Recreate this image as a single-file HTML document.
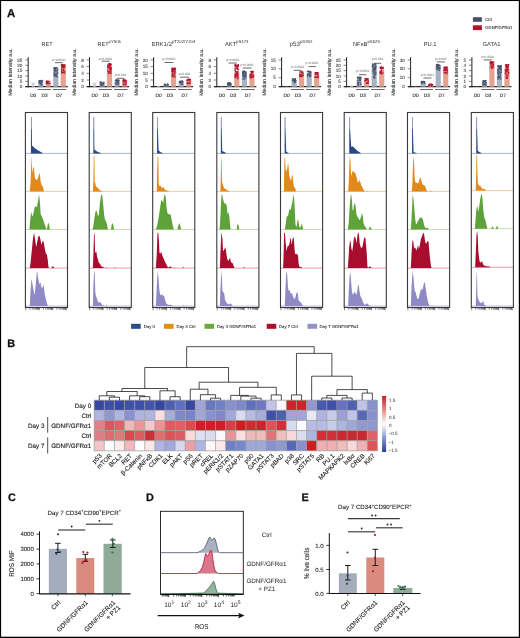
<!DOCTYPE html>
<html><head><meta charset="utf-8"><style>
html,body{margin:0;padding:0;background:#fff;overflow:hidden;width:520px;height:638px;}
svg{display:block;will-change:transform;}
text{font-family:"Liberation Sans", sans-serif;text-rendering:geometricPrecision;}
</style></head><body>
<svg width="520" height="638" viewBox="0 0 520 638">
<rect x="0" y="0" width="520" height="638" fill="#fff"/>
<text x="7.00" y="16.60" font-size="11.4" text-anchor="start" fill="#111" font-weight="bold" stroke="#111" stroke-width="0.25">A</text>
<text x="7.30" y="347.30" font-size="10.9" text-anchor="start" fill="#111" font-weight="bold" stroke="#111" stroke-width="0.25">B</text>
<text x="7.90" y="501.10" font-size="10.9" text-anchor="start" fill="#111" font-weight="bold" stroke="#111" stroke-width="0.25">C</text>
<text x="145.90" y="501.10" font-size="10.9" text-anchor="start" fill="#111" font-weight="bold" stroke="#111" stroke-width="0.25">D</text>
<text x="301.60" y="501.10" font-size="10.9" text-anchor="start" fill="#111" font-weight="bold" stroke="#111" stroke-width="0.25">E</text>
<rect x="472.90" y="17.20" width="9.00" height="4.60" fill="#4b5068" />
<rect x="472.90" y="25.30" width="9.00" height="4.80" fill="#b0102a" />
<text x="485.20" y="20.90" font-size="4.3" text-anchor="start" fill="#222" font-weight="normal" stroke="#222" stroke-width="0.07">Ctrl</text>
<text x="485.20" y="29.40" font-size="4.3" text-anchor="start" fill="#222" font-weight="normal" stroke="#222" stroke-width="0.07">GDNF/GFR&#945;1</text>
<text x="47.0" y="46.1" font-size="5.5" fill="#333" text-anchor="middle">RET</text>
<text transform="translate(12.10,72) rotate(-90)" font-size="5.2" text-anchor="middle" fill="#222" stroke="#222" stroke-width="0.07">Median intensity a.u.</text>
<line x1="28.20" y1="57.20" x2="28.20" y2="87.20" stroke="#222" stroke-width="1.0" />
<line x1="25.40" y1="86.70" x2="67.70" y2="86.70" stroke="#222" stroke-width="1.2" />
<line x1="25.20" y1="59.90" x2="28.20" y2="59.90" stroke="#333" stroke-width="0.6" />
<text x="22.40" y="61.50" font-size="4.6" text-anchor="end" fill="#444" font-weight="normal" stroke="#444" stroke-width="0.08">25</text>
<line x1="25.20" y1="65.26" x2="28.20" y2="65.26" stroke="#333" stroke-width="0.6" />
<text x="22.40" y="66.86" font-size="4.6" text-anchor="end" fill="#444" font-weight="normal" stroke="#444" stroke-width="0.08">20</text>
<line x1="25.20" y1="70.62" x2="28.20" y2="70.62" stroke="#333" stroke-width="0.6" />
<text x="22.40" y="72.22" font-size="4.6" text-anchor="end" fill="#444" font-weight="normal" stroke="#444" stroke-width="0.08">15</text>
<line x1="25.20" y1="75.98" x2="28.20" y2="75.98" stroke="#333" stroke-width="0.6" />
<text x="22.40" y="77.58" font-size="4.6" text-anchor="end" fill="#444" font-weight="normal" stroke="#444" stroke-width="0.08">10</text>
<line x1="25.20" y1="81.34" x2="28.20" y2="81.34" stroke="#333" stroke-width="0.6" />
<text x="22.40" y="82.94" font-size="4.6" text-anchor="end" fill="#444" font-weight="normal" stroke="#444" stroke-width="0.08">5</text>
<line x1="25.20" y1="86.70" x2="28.20" y2="86.70" stroke="#333" stroke-width="0.6" />
<text x="22.40" y="88.30" font-size="4.6" text-anchor="end" fill="#444" font-weight="normal" stroke="#444" stroke-width="0.08">0</text>
<rect x="31.60" y="82.40" width="3.20" height="4.30" fill="#d3d5df" />
<rect x="38.20" y="82.00" width="5.20" height="4.70" fill="#aab2c1" />
<circle cx="40.13" cy="80.63" r="0.62" fill="#46516f" fill-opacity="0.85"/>
<circle cx="41.37" cy="80.47" r="0.62" fill="#46516f" fill-opacity="0.85"/>
<circle cx="40.94" cy="81.33" r="0.62" fill="#46516f" fill-opacity="0.85"/>
<circle cx="39.12" cy="81.97" r="0.62" fill="#46516f" fill-opacity="0.85"/>
<circle cx="39.04" cy="81.62" r="0.62" fill="#46516f" fill-opacity="0.85"/>
<circle cx="39.17" cy="80.50" r="0.62" fill="#46516f" fill-opacity="0.85"/>
<circle cx="40.51" cy="83.83" r="0.62" fill="#46516f" fill-opacity="0.85"/>
<circle cx="39.37" cy="80.82" r="0.62" fill="#46516f" fill-opacity="0.85"/>
<circle cx="41.28" cy="84.67" r="0.62" fill="#46516f" fill-opacity="0.85"/>
<circle cx="41.09" cy="81.46" r="0.62" fill="#46516f" fill-opacity="0.85"/>
<circle cx="42.61" cy="80.43" r="0.62" fill="#46516f" fill-opacity="0.85"/>
<circle cx="42.16" cy="81.04" r="0.62" fill="#46516f" fill-opacity="0.85"/>
<circle cx="39.45" cy="80.55" r="0.62" fill="#46516f" fill-opacity="0.85"/>
<circle cx="40.07" cy="83.76" r="0.62" fill="#46516f" fill-opacity="0.85"/>
<circle cx="39.59" cy="82.36" r="0.62" fill="#46516f" fill-opacity="0.85"/>
<circle cx="41.33" cy="81.36" r="0.62" fill="#46516f" fill-opacity="0.85"/>
<circle cx="40.98" cy="80.46" r="0.62" fill="#46516f" fill-opacity="0.85"/>
<circle cx="39.13" cy="80.77" r="0.62" fill="#46516f" fill-opacity="0.85"/>
<circle cx="41.49" cy="81.60" r="0.62" fill="#46516f" fill-opacity="0.85"/>
<circle cx="40.09" cy="82.38" r="0.62" fill="#46516f" fill-opacity="0.85"/>
<circle cx="40.62" cy="81.08" r="0.62" fill="#46516f" fill-opacity="0.85"/>
<circle cx="41.92" cy="83.02" r="0.62" fill="#46516f" fill-opacity="0.85"/>
<circle cx="39.83" cy="82.32" r="0.62" fill="#46516f" fill-opacity="0.85"/>
<circle cx="40.90" cy="84.16" r="0.62" fill="#46516f" fill-opacity="0.85"/>
<circle cx="41.67" cy="81.04" r="0.62" fill="#46516f" fill-opacity="0.85"/>
<circle cx="42.62" cy="80.55" r="0.62" fill="#46516f" fill-opacity="0.85"/>
<circle cx="40.49" cy="83.38" r="0.62" fill="#46516f" fill-opacity="0.85"/>
<circle cx="39.48" cy="81.88" r="0.62" fill="#46516f" fill-opacity="0.85"/>
<circle cx="39.05" cy="82.84" r="0.62" fill="#46516f" fill-opacity="0.85"/>
<circle cx="41.81" cy="82.31" r="0.62" fill="#46516f" fill-opacity="0.85"/>
<circle cx="42.23" cy="81.13" r="0.62" fill="#46516f" fill-opacity="0.85"/>
<circle cx="41.54" cy="82.42" r="0.62" fill="#46516f" fill-opacity="0.85"/>
<circle cx="41.10" cy="81.73" r="0.62" fill="#46516f" fill-opacity="0.85"/>
<circle cx="42.09" cy="84.65" r="0.62" fill="#46516f" fill-opacity="0.85"/>
<circle cx="40.70" cy="82.82" r="0.62" fill="#46516f" fill-opacity="0.85"/>
<circle cx="39.13" cy="83.04" r="0.62" fill="#46516f" fill-opacity="0.85"/>
<circle cx="41.36" cy="85.00" r="0.62" fill="#46516f" fill-opacity="0.85"/>
<circle cx="42.02" cy="81.02" r="0.62" fill="#46516f" fill-opacity="0.85"/>
<rect x="45.60" y="82.50" width="5.20" height="4.20" fill="#e4a291" />
<circle cx="47.77" cy="82.80" r="0.62" fill="#b5122f" fill-opacity="0.85"/>
<circle cx="46.39" cy="82.04" r="0.62" fill="#b5122f" fill-opacity="0.85"/>
<circle cx="46.94" cy="81.20" r="0.62" fill="#b5122f" fill-opacity="0.85"/>
<circle cx="46.52" cy="83.22" r="0.62" fill="#b5122f" fill-opacity="0.85"/>
<circle cx="46.79" cy="81.45" r="0.62" fill="#b5122f" fill-opacity="0.85"/>
<circle cx="47.79" cy="83.69" r="0.62" fill="#b5122f" fill-opacity="0.85"/>
<circle cx="46.61" cy="82.00" r="0.62" fill="#b5122f" fill-opacity="0.85"/>
<circle cx="48.39" cy="83.75" r="0.62" fill="#b5122f" fill-opacity="0.85"/>
<circle cx="49.41" cy="83.66" r="0.62" fill="#b5122f" fill-opacity="0.85"/>
<circle cx="47.36" cy="81.89" r="0.62" fill="#b5122f" fill-opacity="0.85"/>
<circle cx="47.66" cy="83.75" r="0.62" fill="#b5122f" fill-opacity="0.85"/>
<circle cx="49.94" cy="81.26" r="0.62" fill="#b5122f" fill-opacity="0.85"/>
<circle cx="46.97" cy="81.41" r="0.62" fill="#b5122f" fill-opacity="0.85"/>
<circle cx="47.19" cy="82.11" r="0.62" fill="#b5122f" fill-opacity="0.85"/>
<circle cx="48.54" cy="81.48" r="0.62" fill="#b5122f" fill-opacity="0.85"/>
<circle cx="46.32" cy="81.90" r="0.62" fill="#b5122f" fill-opacity="0.85"/>
<circle cx="47.70" cy="82.40" r="0.62" fill="#b5122f" fill-opacity="0.85"/>
<circle cx="49.92" cy="82.89" r="0.62" fill="#b5122f" fill-opacity="0.85"/>
<circle cx="48.26" cy="82.59" r="0.62" fill="#b5122f" fill-opacity="0.85"/>
<circle cx="48.87" cy="81.13" r="0.62" fill="#b5122f" fill-opacity="0.85"/>
<circle cx="49.72" cy="83.27" r="0.62" fill="#b5122f" fill-opacity="0.85"/>
<circle cx="49.62" cy="83.35" r="0.62" fill="#b5122f" fill-opacity="0.85"/>
<circle cx="47.79" cy="81.84" r="0.62" fill="#b5122f" fill-opacity="0.85"/>
<circle cx="46.69" cy="82.66" r="0.62" fill="#b5122f" fill-opacity="0.85"/>
<circle cx="46.54" cy="81.14" r="0.62" fill="#b5122f" fill-opacity="0.85"/>
<circle cx="47.09" cy="81.28" r="0.62" fill="#b5122f" fill-opacity="0.85"/>
<circle cx="47.59" cy="81.13" r="0.62" fill="#b5122f" fill-opacity="0.85"/>
<circle cx="46.30" cy="81.26" r="0.62" fill="#b5122f" fill-opacity="0.85"/>
<circle cx="46.69" cy="81.74" r="0.62" fill="#b5122f" fill-opacity="0.85"/>
<circle cx="46.40" cy="83.71" r="0.62" fill="#b5122f" fill-opacity="0.85"/>
<circle cx="48.63" cy="81.25" r="0.62" fill="#b5122f" fill-opacity="0.85"/>
<rect x="53.20" y="67.50" width="5.20" height="19.20" fill="#aab2c1" />
<circle cx="54.86" cy="69.21" r="0.62" fill="#46516f" fill-opacity="0.85"/>
<circle cx="55.28" cy="67.83" r="0.62" fill="#46516f" fill-opacity="0.85"/>
<circle cx="57.13" cy="76.71" r="0.62" fill="#46516f" fill-opacity="0.85"/>
<circle cx="55.67" cy="70.41" r="0.62" fill="#46516f" fill-opacity="0.85"/>
<circle cx="54.23" cy="67.74" r="0.62" fill="#46516f" fill-opacity="0.85"/>
<circle cx="55.20" cy="68.61" r="0.62" fill="#46516f" fill-opacity="0.85"/>
<circle cx="57.05" cy="68.00" r="0.62" fill="#46516f" fill-opacity="0.85"/>
<circle cx="53.99" cy="76.09" r="0.62" fill="#46516f" fill-opacity="0.85"/>
<circle cx="55.91" cy="67.93" r="0.62" fill="#46516f" fill-opacity="0.85"/>
<circle cx="55.96" cy="67.53" r="0.62" fill="#46516f" fill-opacity="0.85"/>
<circle cx="55.91" cy="76.49" r="0.62" fill="#46516f" fill-opacity="0.85"/>
<circle cx="57.18" cy="72.72" r="0.62" fill="#46516f" fill-opacity="0.85"/>
<circle cx="54.89" cy="69.37" r="0.62" fill="#46516f" fill-opacity="0.85"/>
<circle cx="54.53" cy="73.65" r="0.62" fill="#46516f" fill-opacity="0.85"/>
<circle cx="55.92" cy="73.74" r="0.62" fill="#46516f" fill-opacity="0.85"/>
<circle cx="55.15" cy="68.34" r="0.62" fill="#46516f" fill-opacity="0.85"/>
<circle cx="56.98" cy="76.59" r="0.62" fill="#46516f" fill-opacity="0.85"/>
<circle cx="57.14" cy="74.09" r="0.62" fill="#46516f" fill-opacity="0.85"/>
<circle cx="57.01" cy="73.25" r="0.62" fill="#46516f" fill-opacity="0.85"/>
<circle cx="54.76" cy="70.75" r="0.62" fill="#46516f" fill-opacity="0.85"/>
<circle cx="55.25" cy="67.53" r="0.62" fill="#46516f" fill-opacity="0.85"/>
<circle cx="54.01" cy="68.71" r="0.62" fill="#46516f" fill-opacity="0.85"/>
<circle cx="54.88" cy="72.67" r="0.62" fill="#46516f" fill-opacity="0.85"/>
<circle cx="57.53" cy="70.07" r="0.62" fill="#46516f" fill-opacity="0.85"/>
<circle cx="57.46" cy="76.63" r="0.62" fill="#46516f" fill-opacity="0.85"/>
<circle cx="57.53" cy="69.35" r="0.62" fill="#46516f" fill-opacity="0.85"/>
<circle cx="54.74" cy="68.37" r="0.62" fill="#46516f" fill-opacity="0.85"/>
<circle cx="54.65" cy="68.23" r="0.62" fill="#46516f" fill-opacity="0.85"/>
<circle cx="56.27" cy="75.37" r="0.62" fill="#46516f" fill-opacity="0.85"/>
<circle cx="57.09" cy="70.37" r="0.62" fill="#46516f" fill-opacity="0.85"/>
<circle cx="56.38" cy="74.01" r="0.62" fill="#46516f" fill-opacity="0.85"/>
<circle cx="54.22" cy="72.30" r="0.62" fill="#46516f" fill-opacity="0.85"/>
<circle cx="57.36" cy="73.79" r="0.62" fill="#46516f" fill-opacity="0.85"/>
<circle cx="56.75" cy="70.36" r="0.62" fill="#46516f" fill-opacity="0.85"/>
<circle cx="54.58" cy="73.87" r="0.62" fill="#46516f" fill-opacity="0.85"/>
<circle cx="55.16" cy="74.03" r="0.62" fill="#46516f" fill-opacity="0.85"/>
<circle cx="57.59" cy="69.61" r="0.62" fill="#46516f" fill-opacity="0.85"/>
<circle cx="55.43" cy="76.03" r="0.62" fill="#46516f" fill-opacity="0.85"/>
<circle cx="56.65" cy="68.05" r="0.62" fill="#46516f" fill-opacity="0.85"/>
<circle cx="54.38" cy="67.95" r="0.62" fill="#46516f" fill-opacity="0.85"/>
<circle cx="57.34" cy="74.10" r="0.62" fill="#46516f" fill-opacity="0.85"/>
<circle cx="54.46" cy="74.36" r="0.62" fill="#46516f" fill-opacity="0.85"/>
<circle cx="57.63" cy="72.26" r="0.62" fill="#46516f" fill-opacity="0.85"/>
<circle cx="55.23" cy="71.06" r="0.62" fill="#46516f" fill-opacity="0.85"/>
<circle cx="54.40" cy="67.51" r="0.62" fill="#46516f" fill-opacity="0.85"/>
<circle cx="57.59" cy="72.17" r="0.62" fill="#46516f" fill-opacity="0.85"/>
<circle cx="55.90" cy="75.84" r="0.62" fill="#46516f" fill-opacity="0.85"/>
<circle cx="55.55" cy="74.97" r="0.62" fill="#46516f" fill-opacity="0.85"/>
<circle cx="57.04" cy="68.27" r="0.62" fill="#46516f" fill-opacity="0.85"/>
<circle cx="54.86" cy="68.81" r="0.62" fill="#46516f" fill-opacity="0.85"/>
<circle cx="54.81" cy="71.46" r="0.62" fill="#46516f" fill-opacity="0.85"/>
<circle cx="54.89" cy="69.81" r="0.62" fill="#46516f" fill-opacity="0.85"/>
<circle cx="54.40" cy="75.51" r="0.62" fill="#46516f" fill-opacity="0.85"/>
<circle cx="55.24" cy="70.17" r="0.62" fill="#46516f" fill-opacity="0.85"/>
<circle cx="56.12" cy="75.43" r="0.62" fill="#46516f" fill-opacity="0.85"/>
<circle cx="55.50" cy="75.61" r="0.62" fill="#46516f" fill-opacity="0.85"/>
<circle cx="55.81" cy="70.89" r="0.62" fill="#46516f" fill-opacity="0.85"/>
<circle cx="55.89" cy="67.52" r="0.62" fill="#46516f" fill-opacity="0.85"/>
<circle cx="55.57" cy="68.12" r="0.62" fill="#46516f" fill-opacity="0.85"/>
<circle cx="53.91" cy="74.00" r="0.62" fill="#46516f" fill-opacity="0.85"/>
<circle cx="54.55" cy="70.31" r="0.62" fill="#46516f" fill-opacity="0.85"/>
<circle cx="56.66" cy="71.14" r="0.62" fill="#46516f" fill-opacity="0.85"/>
<rect x="60.70" y="64.30" width="5.20" height="22.40" fill="#e4a291" />
<circle cx="62.64" cy="67.59" r="0.62" fill="#b5122f" fill-opacity="0.85"/>
<circle cx="63.51" cy="70.49" r="0.62" fill="#b5122f" fill-opacity="0.85"/>
<circle cx="61.80" cy="68.00" r="0.62" fill="#b5122f" fill-opacity="0.85"/>
<circle cx="62.34" cy="65.63" r="0.62" fill="#b5122f" fill-opacity="0.85"/>
<circle cx="64.33" cy="67.49" r="0.62" fill="#b5122f" fill-opacity="0.85"/>
<circle cx="63.53" cy="70.20" r="0.62" fill="#b5122f" fill-opacity="0.85"/>
<circle cx="64.87" cy="66.90" r="0.62" fill="#b5122f" fill-opacity="0.85"/>
<circle cx="63.73" cy="67.47" r="0.62" fill="#b5122f" fill-opacity="0.85"/>
<circle cx="63.35" cy="69.41" r="0.62" fill="#b5122f" fill-opacity="0.85"/>
<circle cx="63.12" cy="67.73" r="0.62" fill="#b5122f" fill-opacity="0.85"/>
<circle cx="63.22" cy="72.52" r="0.62" fill="#b5122f" fill-opacity="0.85"/>
<circle cx="64.06" cy="71.66" r="0.62" fill="#b5122f" fill-opacity="0.85"/>
<circle cx="64.98" cy="65.52" r="0.62" fill="#b5122f" fill-opacity="0.85"/>
<circle cx="63.53" cy="72.55" r="0.62" fill="#b5122f" fill-opacity="0.85"/>
<circle cx="64.59" cy="64.87" r="0.62" fill="#b5122f" fill-opacity="0.85"/>
<circle cx="61.86" cy="66.89" r="0.62" fill="#b5122f" fill-opacity="0.85"/>
<circle cx="61.68" cy="65.40" r="0.62" fill="#b5122f" fill-opacity="0.85"/>
<circle cx="61.68" cy="69.15" r="0.62" fill="#b5122f" fill-opacity="0.85"/>
<circle cx="64.38" cy="71.92" r="0.62" fill="#b5122f" fill-opacity="0.85"/>
<circle cx="61.99" cy="69.68" r="0.62" fill="#b5122f" fill-opacity="0.85"/>
<circle cx="63.91" cy="64.89" r="0.62" fill="#b5122f" fill-opacity="0.85"/>
<circle cx="64.75" cy="72.88" r="0.62" fill="#b5122f" fill-opacity="0.85"/>
<circle cx="62.23" cy="72.67" r="0.62" fill="#b5122f" fill-opacity="0.85"/>
<circle cx="62.91" cy="67.30" r="0.62" fill="#b5122f" fill-opacity="0.85"/>
<circle cx="65.16" cy="71.09" r="0.62" fill="#b5122f" fill-opacity="0.85"/>
<circle cx="62.01" cy="66.80" r="0.62" fill="#b5122f" fill-opacity="0.85"/>
<circle cx="63.36" cy="66.07" r="0.62" fill="#b5122f" fill-opacity="0.85"/>
<circle cx="62.14" cy="65.92" r="0.62" fill="#b5122f" fill-opacity="0.85"/>
<circle cx="64.14" cy="64.52" r="0.62" fill="#b5122f" fill-opacity="0.85"/>
<circle cx="63.51" cy="66.88" r="0.62" fill="#b5122f" fill-opacity="0.85"/>
<circle cx="61.47" cy="66.01" r="0.62" fill="#b5122f" fill-opacity="0.85"/>
<circle cx="63.77" cy="67.53" r="0.62" fill="#b5122f" fill-opacity="0.85"/>
<circle cx="61.64" cy="73.13" r="0.62" fill="#b5122f" fill-opacity="0.85"/>
<circle cx="64.40" cy="72.94" r="0.62" fill="#b5122f" fill-opacity="0.85"/>
<circle cx="61.80" cy="65.56" r="0.62" fill="#b5122f" fill-opacity="0.85"/>
<circle cx="61.55" cy="70.42" r="0.62" fill="#b5122f" fill-opacity="0.85"/>
<circle cx="62.43" cy="64.84" r="0.62" fill="#b5122f" fill-opacity="0.85"/>
<circle cx="63.00" cy="72.12" r="0.62" fill="#b5122f" fill-opacity="0.85"/>
<circle cx="64.51" cy="65.51" r="0.62" fill="#b5122f" fill-opacity="0.85"/>
<circle cx="61.97" cy="72.22" r="0.62" fill="#b5122f" fill-opacity="0.85"/>
<circle cx="63.57" cy="69.50" r="0.62" fill="#b5122f" fill-opacity="0.85"/>
<circle cx="61.74" cy="64.59" r="0.62" fill="#b5122f" fill-opacity="0.85"/>
<circle cx="64.02" cy="66.75" r="0.62" fill="#b5122f" fill-opacity="0.85"/>
<circle cx="61.68" cy="72.48" r="0.62" fill="#b5122f" fill-opacity="0.85"/>
<circle cx="63.81" cy="70.70" r="0.62" fill="#b5122f" fill-opacity="0.85"/>
<circle cx="61.72" cy="71.39" r="0.62" fill="#b5122f" fill-opacity="0.85"/>
<circle cx="61.65" cy="71.48" r="0.62" fill="#b5122f" fill-opacity="0.85"/>
<circle cx="63.12" cy="66.07" r="0.62" fill="#b5122f" fill-opacity="0.85"/>
<circle cx="63.50" cy="72.32" r="0.62" fill="#b5122f" fill-opacity="0.85"/>
<circle cx="62.42" cy="64.83" r="0.62" fill="#b5122f" fill-opacity="0.85"/>
<circle cx="63.40" cy="65.39" r="0.62" fill="#b5122f" fill-opacity="0.85"/>
<circle cx="61.82" cy="64.98" r="0.62" fill="#b5122f" fill-opacity="0.85"/>
<circle cx="61.59" cy="65.18" r="0.62" fill="#b5122f" fill-opacity="0.85"/>
<circle cx="62.59" cy="65.82" r="0.62" fill="#b5122f" fill-opacity="0.85"/>
<circle cx="64.29" cy="65.72" r="0.62" fill="#b5122f" fill-opacity="0.85"/>
<circle cx="63.30" cy="65.06" r="0.62" fill="#b5122f" fill-opacity="0.85"/>
<circle cx="62.72" cy="64.51" r="0.62" fill="#b5122f" fill-opacity="0.85"/>
<circle cx="62.35" cy="64.51" r="0.62" fill="#b5122f" fill-opacity="0.85"/>
<circle cx="64.19" cy="67.90" r="0.62" fill="#b5122f" fill-opacity="0.85"/>
<circle cx="62.12" cy="67.18" r="0.62" fill="#b5122f" fill-opacity="0.85"/>
<line x1="37.70" y1="89.50" x2="50.70" y2="89.50" stroke="#333" stroke-width="0.75" />
<line x1="52.70" y1="89.50" x2="66.20" y2="89.50" stroke="#333" stroke-width="0.75" />
<text x="33.20" y="96.90" font-size="4.8" text-anchor="middle" fill="#222" font-weight="normal" stroke="#222" stroke-width="0.07">D0</text>
<text x="44.50" y="96.90" font-size="4.8" text-anchor="middle" fill="#222" font-weight="normal" stroke="#222" stroke-width="0.07">D3</text>
<text x="59.20" y="96.90" font-size="4.8" text-anchor="middle" fill="#222" font-weight="normal" stroke="#222" stroke-width="0.07">D7</text>
<line x1="55.00" y1="62.70" x2="63.00" y2="62.70" stroke="#444" stroke-width="0.8" />
<text x="59.00" y="60.80" font-size="3.2" text-anchor="middle" fill="#666" font-weight="normal" >p&lt;0.0001</text>
<text x="109.3" y="46.1" font-size="5.5" fill="#333" text-anchor="middle"><tspan>RET</tspan><tspan font-size="4.3" dy="-3.0">pY905</tspan></text>
<text transform="translate(75.90,72) rotate(-90)" font-size="5.2" text-anchor="middle" fill="#222" stroke="#222" stroke-width="0.07">Median intensity a.u.</text>
<line x1="89.50" y1="57.20" x2="89.50" y2="87.20" stroke="#222" stroke-width="1.0" />
<line x1="86.70" y1="86.70" x2="129.00" y2="86.70" stroke="#222" stroke-width="1.2" />
<line x1="86.50" y1="59.90" x2="89.50" y2="59.90" stroke="#333" stroke-width="0.6" />
<text x="83.70" y="61.50" font-size="4.6" text-anchor="end" fill="#444" font-weight="normal" stroke="#444" stroke-width="0.08">8</text>
<line x1="86.50" y1="66.60" x2="89.50" y2="66.60" stroke="#333" stroke-width="0.6" />
<text x="83.70" y="68.20" font-size="4.6" text-anchor="end" fill="#444" font-weight="normal" stroke="#444" stroke-width="0.08">6</text>
<line x1="86.50" y1="73.30" x2="89.50" y2="73.30" stroke="#333" stroke-width="0.6" />
<text x="83.70" y="74.90" font-size="4.6" text-anchor="end" fill="#444" font-weight="normal" stroke="#444" stroke-width="0.08">4</text>
<line x1="86.50" y1="80.00" x2="89.50" y2="80.00" stroke="#333" stroke-width="0.6" />
<text x="83.70" y="81.60" font-size="4.6" text-anchor="end" fill="#444" font-weight="normal" stroke="#444" stroke-width="0.08">2</text>
<line x1="86.50" y1="86.70" x2="89.50" y2="86.70" stroke="#333" stroke-width="0.6" />
<text x="83.70" y="88.30" font-size="4.6" text-anchor="end" fill="#444" font-weight="normal" stroke="#444" stroke-width="0.08">0</text>
<rect x="92.90" y="82.60" width="3.20" height="4.10" fill="#d3d5df" />
<rect x="99.50" y="82.40" width="5.20" height="4.30" fill="#aab2c1" />
<circle cx="103.75" cy="82.01" r="0.62" fill="#46516f" fill-opacity="0.85"/>
<circle cx="103.31" cy="82.92" r="0.62" fill="#46516f" fill-opacity="0.85"/>
<circle cx="102.08" cy="84.82" r="0.62" fill="#46516f" fill-opacity="0.85"/>
<circle cx="101.69" cy="83.21" r="0.62" fill="#46516f" fill-opacity="0.85"/>
<circle cx="102.81" cy="85.69" r="0.62" fill="#46516f" fill-opacity="0.85"/>
<circle cx="101.50" cy="84.80" r="0.62" fill="#46516f" fill-opacity="0.85"/>
<circle cx="102.89" cy="83.79" r="0.62" fill="#46516f" fill-opacity="0.85"/>
<circle cx="101.74" cy="82.62" r="0.62" fill="#46516f" fill-opacity="0.85"/>
<circle cx="100.41" cy="82.05" r="0.62" fill="#46516f" fill-opacity="0.85"/>
<circle cx="100.47" cy="84.31" r="0.62" fill="#46516f" fill-opacity="0.85"/>
<circle cx="101.17" cy="82.11" r="0.62" fill="#46516f" fill-opacity="0.85"/>
<circle cx="100.52" cy="84.85" r="0.62" fill="#46516f" fill-opacity="0.85"/>
<circle cx="103.51" cy="83.95" r="0.62" fill="#46516f" fill-opacity="0.85"/>
<circle cx="101.27" cy="82.30" r="0.62" fill="#46516f" fill-opacity="0.85"/>
<circle cx="101.31" cy="83.02" r="0.62" fill="#46516f" fill-opacity="0.85"/>
<circle cx="100.80" cy="82.97" r="0.62" fill="#46516f" fill-opacity="0.85"/>
<circle cx="101.20" cy="85.56" r="0.62" fill="#46516f" fill-opacity="0.85"/>
<circle cx="103.90" cy="83.38" r="0.62" fill="#46516f" fill-opacity="0.85"/>
<circle cx="101.13" cy="85.58" r="0.62" fill="#46516f" fill-opacity="0.85"/>
<circle cx="101.38" cy="82.65" r="0.62" fill="#46516f" fill-opacity="0.85"/>
<circle cx="100.20" cy="82.73" r="0.62" fill="#46516f" fill-opacity="0.85"/>
<circle cx="102.00" cy="83.20" r="0.62" fill="#46516f" fill-opacity="0.85"/>
<circle cx="100.96" cy="83.20" r="0.62" fill="#46516f" fill-opacity="0.85"/>
<circle cx="100.22" cy="82.36" r="0.62" fill="#46516f" fill-opacity="0.85"/>
<circle cx="100.54" cy="82.80" r="0.62" fill="#46516f" fill-opacity="0.85"/>
<circle cx="100.36" cy="81.91" r="0.62" fill="#46516f" fill-opacity="0.85"/>
<circle cx="101.36" cy="82.28" r="0.62" fill="#46516f" fill-opacity="0.85"/>
<circle cx="102.43" cy="83.31" r="0.62" fill="#46516f" fill-opacity="0.85"/>
<circle cx="103.05" cy="83.89" r="0.62" fill="#46516f" fill-opacity="0.85"/>
<circle cx="102.92" cy="85.07" r="0.62" fill="#46516f" fill-opacity="0.85"/>
<circle cx="101.68" cy="82.55" r="0.62" fill="#46516f" fill-opacity="0.85"/>
<circle cx="103.94" cy="82.09" r="0.62" fill="#46516f" fill-opacity="0.85"/>
<circle cx="102.95" cy="83.82" r="0.62" fill="#46516f" fill-opacity="0.85"/>
<circle cx="100.37" cy="84.82" r="0.62" fill="#46516f" fill-opacity="0.85"/>
<rect x="106.90" y="66.00" width="5.20" height="20.70" fill="#e4a291" />
<circle cx="110.99" cy="68.62" r="0.62" fill="#b5122f" fill-opacity="0.85"/>
<circle cx="110.39" cy="71.09" r="0.62" fill="#b5122f" fill-opacity="0.85"/>
<circle cx="108.13" cy="67.41" r="0.62" fill="#b5122f" fill-opacity="0.85"/>
<circle cx="109.52" cy="71.42" r="0.62" fill="#b5122f" fill-opacity="0.85"/>
<circle cx="110.66" cy="71.29" r="0.62" fill="#b5122f" fill-opacity="0.85"/>
<circle cx="109.82" cy="72.28" r="0.62" fill="#b5122f" fill-opacity="0.85"/>
<circle cx="110.20" cy="69.46" r="0.62" fill="#b5122f" fill-opacity="0.85"/>
<circle cx="108.47" cy="63.84" r="0.62" fill="#b5122f" fill-opacity="0.85"/>
<circle cx="108.11" cy="65.79" r="0.62" fill="#b5122f" fill-opacity="0.85"/>
<circle cx="108.00" cy="71.43" r="0.62" fill="#b5122f" fill-opacity="0.85"/>
<circle cx="109.72" cy="68.63" r="0.62" fill="#b5122f" fill-opacity="0.85"/>
<circle cx="109.98" cy="69.29" r="0.62" fill="#b5122f" fill-opacity="0.85"/>
<circle cx="109.46" cy="63.80" r="0.62" fill="#b5122f" fill-opacity="0.85"/>
<circle cx="110.63" cy="70.19" r="0.62" fill="#b5122f" fill-opacity="0.85"/>
<circle cx="109.51" cy="67.54" r="0.62" fill="#b5122f" fill-opacity="0.85"/>
<circle cx="110.11" cy="63.93" r="0.62" fill="#b5122f" fill-opacity="0.85"/>
<circle cx="110.40" cy="64.92" r="0.62" fill="#b5122f" fill-opacity="0.85"/>
<circle cx="107.88" cy="65.02" r="0.62" fill="#b5122f" fill-opacity="0.85"/>
<circle cx="110.37" cy="64.61" r="0.62" fill="#b5122f" fill-opacity="0.85"/>
<circle cx="110.41" cy="73.57" r="0.62" fill="#b5122f" fill-opacity="0.85"/>
<circle cx="109.48" cy="65.98" r="0.62" fill="#b5122f" fill-opacity="0.85"/>
<circle cx="109.42" cy="69.33" r="0.62" fill="#b5122f" fill-opacity="0.85"/>
<circle cx="110.51" cy="68.49" r="0.62" fill="#b5122f" fill-opacity="0.85"/>
<circle cx="110.04" cy="63.97" r="0.62" fill="#b5122f" fill-opacity="0.85"/>
<circle cx="108.16" cy="64.93" r="0.62" fill="#b5122f" fill-opacity="0.85"/>
<circle cx="110.42" cy="65.32" r="0.62" fill="#b5122f" fill-opacity="0.85"/>
<circle cx="109.76" cy="63.81" r="0.62" fill="#b5122f" fill-opacity="0.85"/>
<circle cx="107.83" cy="65.04" r="0.62" fill="#b5122f" fill-opacity="0.85"/>
<circle cx="110.15" cy="69.44" r="0.62" fill="#b5122f" fill-opacity="0.85"/>
<circle cx="110.17" cy="65.21" r="0.62" fill="#b5122f" fill-opacity="0.85"/>
<circle cx="109.56" cy="66.78" r="0.62" fill="#b5122f" fill-opacity="0.85"/>
<circle cx="109.37" cy="64.14" r="0.62" fill="#b5122f" fill-opacity="0.85"/>
<circle cx="111.00" cy="64.57" r="0.62" fill="#b5122f" fill-opacity="0.85"/>
<circle cx="111.32" cy="72.95" r="0.62" fill="#b5122f" fill-opacity="0.85"/>
<circle cx="107.67" cy="66.72" r="0.62" fill="#b5122f" fill-opacity="0.85"/>
<circle cx="110.72" cy="73.45" r="0.62" fill="#b5122f" fill-opacity="0.85"/>
<circle cx="109.31" cy="65.04" r="0.62" fill="#b5122f" fill-opacity="0.85"/>
<circle cx="108.40" cy="73.09" r="0.62" fill="#b5122f" fill-opacity="0.85"/>
<circle cx="108.40" cy="68.07" r="0.62" fill="#b5122f" fill-opacity="0.85"/>
<circle cx="108.14" cy="67.42" r="0.62" fill="#b5122f" fill-opacity="0.85"/>
<circle cx="111.22" cy="64.20" r="0.62" fill="#b5122f" fill-opacity="0.85"/>
<circle cx="110.72" cy="67.25" r="0.62" fill="#b5122f" fill-opacity="0.85"/>
<circle cx="110.97" cy="69.59" r="0.62" fill="#b5122f" fill-opacity="0.85"/>
<circle cx="108.48" cy="72.35" r="0.62" fill="#b5122f" fill-opacity="0.85"/>
<circle cx="109.45" cy="63.83" r="0.62" fill="#b5122f" fill-opacity="0.85"/>
<circle cx="107.61" cy="67.06" r="0.62" fill="#b5122f" fill-opacity="0.85"/>
<circle cx="109.31" cy="65.30" r="0.62" fill="#b5122f" fill-opacity="0.85"/>
<circle cx="108.13" cy="65.64" r="0.62" fill="#b5122f" fill-opacity="0.85"/>
<circle cx="108.80" cy="71.49" r="0.62" fill="#b5122f" fill-opacity="0.85"/>
<circle cx="107.61" cy="70.23" r="0.62" fill="#b5122f" fill-opacity="0.85"/>
<circle cx="110.79" cy="64.14" r="0.62" fill="#b5122f" fill-opacity="0.85"/>
<circle cx="111.12" cy="69.72" r="0.62" fill="#b5122f" fill-opacity="0.85"/>
<circle cx="111.03" cy="65.20" r="0.62" fill="#b5122f" fill-opacity="0.85"/>
<circle cx="109.01" cy="66.08" r="0.62" fill="#b5122f" fill-opacity="0.85"/>
<circle cx="111.40" cy="68.16" r="0.62" fill="#b5122f" fill-opacity="0.85"/>
<circle cx="108.97" cy="66.42" r="0.62" fill="#b5122f" fill-opacity="0.85"/>
<circle cx="108.65" cy="63.88" r="0.62" fill="#b5122f" fill-opacity="0.85"/>
<circle cx="107.99" cy="71.41" r="0.62" fill="#b5122f" fill-opacity="0.85"/>
<circle cx="108.69" cy="72.94" r="0.62" fill="#b5122f" fill-opacity="0.85"/>
<circle cx="108.55" cy="65.02" r="0.62" fill="#b5122f" fill-opacity="0.85"/>
<circle cx="109.54" cy="64.51" r="0.62" fill="#b5122f" fill-opacity="0.85"/>
<circle cx="109.02" cy="73.26" r="0.62" fill="#b5122f" fill-opacity="0.85"/>
<circle cx="110.96" cy="71.08" r="0.62" fill="#b5122f" fill-opacity="0.85"/>
<circle cx="110.00" cy="72.59" r="0.62" fill="#b5122f" fill-opacity="0.85"/>
<circle cx="111.17" cy="67.70" r="0.62" fill="#b5122f" fill-opacity="0.85"/>
<circle cx="110.33" cy="63.88" r="0.62" fill="#b5122f" fill-opacity="0.85"/>
<circle cx="110.38" cy="66.64" r="0.62" fill="#b5122f" fill-opacity="0.85"/>
<rect x="114.50" y="80.80" width="5.20" height="5.90" fill="#aab2c1" />
<circle cx="118.06" cy="82.44" r="0.62" fill="#46516f" fill-opacity="0.85"/>
<circle cx="116.29" cy="79.94" r="0.62" fill="#46516f" fill-opacity="0.85"/>
<circle cx="118.72" cy="80.09" r="0.62" fill="#46516f" fill-opacity="0.85"/>
<circle cx="116.99" cy="80.83" r="0.62" fill="#46516f" fill-opacity="0.85"/>
<circle cx="116.33" cy="83.06" r="0.62" fill="#46516f" fill-opacity="0.85"/>
<circle cx="118.91" cy="80.50" r="0.62" fill="#46516f" fill-opacity="0.85"/>
<circle cx="117.69" cy="80.65" r="0.62" fill="#46516f" fill-opacity="0.85"/>
<circle cx="117.32" cy="81.06" r="0.62" fill="#46516f" fill-opacity="0.85"/>
<circle cx="115.84" cy="80.18" r="0.62" fill="#46516f" fill-opacity="0.85"/>
<circle cx="115.99" cy="84.28" r="0.62" fill="#46516f" fill-opacity="0.85"/>
<circle cx="117.09" cy="80.36" r="0.62" fill="#46516f" fill-opacity="0.85"/>
<circle cx="118.64" cy="85.00" r="0.62" fill="#46516f" fill-opacity="0.85"/>
<circle cx="116.91" cy="80.12" r="0.62" fill="#46516f" fill-opacity="0.85"/>
<circle cx="115.93" cy="80.01" r="0.62" fill="#46516f" fill-opacity="0.85"/>
<circle cx="116.50" cy="80.01" r="0.62" fill="#46516f" fill-opacity="0.85"/>
<circle cx="116.11" cy="80.49" r="0.62" fill="#46516f" fill-opacity="0.85"/>
<circle cx="117.36" cy="84.14" r="0.62" fill="#46516f" fill-opacity="0.85"/>
<circle cx="118.05" cy="81.15" r="0.62" fill="#46516f" fill-opacity="0.85"/>
<circle cx="116.77" cy="81.73" r="0.62" fill="#46516f" fill-opacity="0.85"/>
<circle cx="116.63" cy="80.81" r="0.62" fill="#46516f" fill-opacity="0.85"/>
<circle cx="115.44" cy="80.56" r="0.62" fill="#46516f" fill-opacity="0.85"/>
<circle cx="118.88" cy="80.09" r="0.62" fill="#46516f" fill-opacity="0.85"/>
<circle cx="117.11" cy="82.35" r="0.62" fill="#46516f" fill-opacity="0.85"/>
<circle cx="118.48" cy="80.34" r="0.62" fill="#46516f" fill-opacity="0.85"/>
<circle cx="116.23" cy="80.45" r="0.62" fill="#46516f" fill-opacity="0.85"/>
<circle cx="116.72" cy="81.31" r="0.62" fill="#46516f" fill-opacity="0.85"/>
<circle cx="118.82" cy="83.85" r="0.62" fill="#46516f" fill-opacity="0.85"/>
<circle cx="118.52" cy="79.91" r="0.62" fill="#46516f" fill-opacity="0.85"/>
<circle cx="115.32" cy="82.86" r="0.62" fill="#46516f" fill-opacity="0.85"/>
<circle cx="118.60" cy="81.45" r="0.62" fill="#46516f" fill-opacity="0.85"/>
<circle cx="117.43" cy="79.90" r="0.62" fill="#46516f" fill-opacity="0.85"/>
<circle cx="116.69" cy="84.44" r="0.62" fill="#46516f" fill-opacity="0.85"/>
<circle cx="118.34" cy="83.90" r="0.62" fill="#46516f" fill-opacity="0.85"/>
<circle cx="118.89" cy="80.45" r="0.62" fill="#46516f" fill-opacity="0.85"/>
<circle cx="115.61" cy="80.16" r="0.62" fill="#46516f" fill-opacity="0.85"/>
<circle cx="117.18" cy="82.68" r="0.62" fill="#46516f" fill-opacity="0.85"/>
<circle cx="118.78" cy="82.94" r="0.62" fill="#46516f" fill-opacity="0.85"/>
<circle cx="117.66" cy="83.24" r="0.62" fill="#46516f" fill-opacity="0.85"/>
<circle cx="116.94" cy="81.88" r="0.62" fill="#46516f" fill-opacity="0.85"/>
<circle cx="115.35" cy="83.36" r="0.62" fill="#46516f" fill-opacity="0.85"/>
<rect x="122.00" y="81.40" width="5.20" height="5.30" fill="#e4a291" />
<circle cx="123.58" cy="84.39" r="0.62" fill="#b5122f" fill-opacity="0.85"/>
<circle cx="125.15" cy="80.66" r="0.62" fill="#b5122f" fill-opacity="0.85"/>
<circle cx="123.19" cy="80.46" r="0.62" fill="#b5122f" fill-opacity="0.85"/>
<circle cx="125.12" cy="82.79" r="0.62" fill="#b5122f" fill-opacity="0.85"/>
<circle cx="123.13" cy="79.97" r="0.62" fill="#b5122f" fill-opacity="0.85"/>
<circle cx="124.69" cy="82.06" r="0.62" fill="#b5122f" fill-opacity="0.85"/>
<circle cx="124.17" cy="80.37" r="0.62" fill="#b5122f" fill-opacity="0.85"/>
<circle cx="124.98" cy="79.90" r="0.62" fill="#b5122f" fill-opacity="0.85"/>
<circle cx="123.85" cy="81.38" r="0.62" fill="#b5122f" fill-opacity="0.85"/>
<circle cx="126.34" cy="82.44" r="0.62" fill="#b5122f" fill-opacity="0.85"/>
<circle cx="126.06" cy="81.46" r="0.62" fill="#b5122f" fill-opacity="0.85"/>
<circle cx="123.59" cy="80.45" r="0.62" fill="#b5122f" fill-opacity="0.85"/>
<circle cx="126.35" cy="82.83" r="0.62" fill="#b5122f" fill-opacity="0.85"/>
<circle cx="123.87" cy="79.91" r="0.62" fill="#b5122f" fill-opacity="0.85"/>
<circle cx="124.59" cy="82.63" r="0.62" fill="#b5122f" fill-opacity="0.85"/>
<circle cx="124.30" cy="80.48" r="0.62" fill="#b5122f" fill-opacity="0.85"/>
<circle cx="125.24" cy="84.43" r="0.62" fill="#b5122f" fill-opacity="0.85"/>
<circle cx="123.56" cy="79.92" r="0.62" fill="#b5122f" fill-opacity="0.85"/>
<circle cx="123.98" cy="81.18" r="0.62" fill="#b5122f" fill-opacity="0.85"/>
<circle cx="125.29" cy="80.28" r="0.62" fill="#b5122f" fill-opacity="0.85"/>
<circle cx="125.73" cy="83.06" r="0.62" fill="#b5122f" fill-opacity="0.85"/>
<circle cx="124.62" cy="80.31" r="0.62" fill="#b5122f" fill-opacity="0.85"/>
<circle cx="126.39" cy="80.69" r="0.62" fill="#b5122f" fill-opacity="0.85"/>
<circle cx="125.82" cy="80.39" r="0.62" fill="#b5122f" fill-opacity="0.85"/>
<circle cx="123.54" cy="83.21" r="0.62" fill="#b5122f" fill-opacity="0.85"/>
<circle cx="123.82" cy="84.64" r="0.62" fill="#b5122f" fill-opacity="0.85"/>
<circle cx="124.58" cy="80.25" r="0.62" fill="#b5122f" fill-opacity="0.85"/>
<circle cx="123.55" cy="81.17" r="0.62" fill="#b5122f" fill-opacity="0.85"/>
<circle cx="125.23" cy="84.62" r="0.62" fill="#b5122f" fill-opacity="0.85"/>
<circle cx="123.26" cy="81.05" r="0.62" fill="#b5122f" fill-opacity="0.85"/>
<circle cx="123.51" cy="84.82" r="0.62" fill="#b5122f" fill-opacity="0.85"/>
<circle cx="123.24" cy="79.95" r="0.62" fill="#b5122f" fill-opacity="0.85"/>
<circle cx="122.93" cy="81.05" r="0.62" fill="#b5122f" fill-opacity="0.85"/>
<circle cx="126.11" cy="84.11" r="0.62" fill="#b5122f" fill-opacity="0.85"/>
<circle cx="125.48" cy="85.01" r="0.62" fill="#b5122f" fill-opacity="0.85"/>
<circle cx="126.24" cy="80.77" r="0.62" fill="#b5122f" fill-opacity="0.85"/>
<circle cx="123.40" cy="84.51" r="0.62" fill="#b5122f" fill-opacity="0.85"/>
<circle cx="125.54" cy="79.92" r="0.62" fill="#b5122f" fill-opacity="0.85"/>
<circle cx="125.22" cy="80.98" r="0.62" fill="#b5122f" fill-opacity="0.85"/>
<circle cx="124.12" cy="80.78" r="0.62" fill="#b5122f" fill-opacity="0.85"/>
<line x1="99.00" y1="89.50" x2="112.00" y2="89.50" stroke="#333" stroke-width="0.75" />
<line x1="114.00" y1="89.50" x2="127.50" y2="89.50" stroke="#333" stroke-width="0.75" />
<text x="94.50" y="96.90" font-size="4.8" text-anchor="middle" fill="#222" font-weight="normal" stroke="#222" stroke-width="0.07">D0</text>
<text x="105.80" y="96.90" font-size="4.8" text-anchor="middle" fill="#222" font-weight="normal" stroke="#222" stroke-width="0.07">D3</text>
<text x="120.50" y="96.90" font-size="4.8" text-anchor="middle" fill="#222" font-weight="normal" stroke="#222" stroke-width="0.07">D7</text>
<line x1="101.60" y1="61.20" x2="109.70" y2="61.20" stroke="#444" stroke-width="0.8" />
<text x="105.65" y="59.60" font-size="3.2" text-anchor="middle" fill="#666" font-weight="normal" >p&lt;0.0001</text>
<line x1="116.50" y1="78.30" x2="124.50" y2="78.30" stroke="#444" stroke-width="0.8" />
<text x="120.50" y="76.00" font-size="3.2" text-anchor="middle" fill="#666" font-weight="normal" >p=0.001</text>
<text x="173.5" y="46.1" font-size="5.9" fill="#333" text-anchor="middle"><tspan>ERK1/2</tspan><tspan font-size="4.3" dy="-3.0">pT202/Y204</tspan></text>
<text transform="translate(137.50,72) rotate(-90)" font-size="5.2" text-anchor="middle" fill="#222" stroke="#222" stroke-width="0.07">Median intensity a.u.</text>
<line x1="153.60" y1="57.20" x2="153.60" y2="87.20" stroke="#222" stroke-width="1.0" />
<line x1="150.80" y1="86.70" x2="193.10" y2="86.70" stroke="#222" stroke-width="1.2" />
<line x1="150.60" y1="59.90" x2="153.60" y2="59.90" stroke="#333" stroke-width="0.6" />
<text x="147.80" y="61.50" font-size="4.6" text-anchor="end" fill="#444" font-weight="normal" stroke="#444" stroke-width="0.08">20</text>
<line x1="150.60" y1="66.60" x2="153.60" y2="66.60" stroke="#333" stroke-width="0.6" />
<text x="147.80" y="68.20" font-size="4.6" text-anchor="end" fill="#444" font-weight="normal" stroke="#444" stroke-width="0.08">15</text>
<line x1="150.60" y1="73.30" x2="153.60" y2="73.30" stroke="#333" stroke-width="0.6" />
<text x="147.80" y="74.90" font-size="4.6" text-anchor="end" fill="#444" font-weight="normal" stroke="#444" stroke-width="0.08">10</text>
<line x1="150.60" y1="80.00" x2="153.60" y2="80.00" stroke="#333" stroke-width="0.6" />
<text x="147.80" y="81.60" font-size="4.6" text-anchor="end" fill="#444" font-weight="normal" stroke="#444" stroke-width="0.08">5</text>
<line x1="150.60" y1="86.70" x2="153.60" y2="86.70" stroke="#333" stroke-width="0.6" />
<text x="147.80" y="88.30" font-size="4.6" text-anchor="end" fill="#444" font-weight="normal" stroke="#444" stroke-width="0.08">0</text>
<rect x="157.00" y="86.00" width="3.20" height="0.70" fill="#d3d5df" />
<rect x="163.60" y="84.50" width="5.20" height="2.20" fill="#aab2c1" />
<circle cx="164.94" cy="84.20" r="0.62" fill="#46516f" fill-opacity="0.85"/>
<circle cx="165.36" cy="84.61" r="0.62" fill="#46516f" fill-opacity="0.85"/>
<circle cx="167.93" cy="84.28" r="0.62" fill="#46516f" fill-opacity="0.85"/>
<circle cx="167.96" cy="84.38" r="0.62" fill="#46516f" fill-opacity="0.85"/>
<circle cx="165.66" cy="85.80" r="0.62" fill="#46516f" fill-opacity="0.85"/>
<circle cx="167.42" cy="84.77" r="0.62" fill="#46516f" fill-opacity="0.85"/>
<circle cx="164.49" cy="84.86" r="0.62" fill="#46516f" fill-opacity="0.85"/>
<circle cx="165.72" cy="86.11" r="0.62" fill="#46516f" fill-opacity="0.85"/>
<circle cx="165.03" cy="84.63" r="0.62" fill="#46516f" fill-opacity="0.85"/>
<circle cx="167.71" cy="84.21" r="0.62" fill="#46516f" fill-opacity="0.85"/>
<circle cx="165.86" cy="85.77" r="0.62" fill="#46516f" fill-opacity="0.85"/>
<circle cx="167.21" cy="84.21" r="0.62" fill="#46516f" fill-opacity="0.85"/>
<circle cx="164.43" cy="84.23" r="0.62" fill="#46516f" fill-opacity="0.85"/>
<circle cx="167.80" cy="84.45" r="0.62" fill="#46516f" fill-opacity="0.85"/>
<circle cx="167.14" cy="86.04" r="0.62" fill="#46516f" fill-opacity="0.85"/>
<circle cx="165.59" cy="84.47" r="0.62" fill="#46516f" fill-opacity="0.85"/>
<circle cx="167.94" cy="85.21" r="0.62" fill="#46516f" fill-opacity="0.85"/>
<circle cx="165.30" cy="85.48" r="0.62" fill="#46516f" fill-opacity="0.85"/>
<circle cx="165.50" cy="84.48" r="0.62" fill="#46516f" fill-opacity="0.85"/>
<circle cx="164.31" cy="85.60" r="0.62" fill="#46516f" fill-opacity="0.85"/>
<circle cx="167.78" cy="85.25" r="0.62" fill="#46516f" fill-opacity="0.85"/>
<circle cx="167.88" cy="84.21" r="0.62" fill="#46516f" fill-opacity="0.85"/>
<circle cx="165.19" cy="84.86" r="0.62" fill="#46516f" fill-opacity="0.85"/>
<circle cx="167.94" cy="86.23" r="0.62" fill="#46516f" fill-opacity="0.85"/>
<circle cx="165.77" cy="84.44" r="0.62" fill="#46516f" fill-opacity="0.85"/>
<rect x="171.00" y="69.30" width="5.20" height="17.40" fill="#e4a291" />
<circle cx="173.33" cy="70.92" r="0.62" fill="#b5122f" fill-opacity="0.85"/>
<circle cx="175.23" cy="68.60" r="0.62" fill="#b5122f" fill-opacity="0.85"/>
<circle cx="174.75" cy="73.56" r="0.62" fill="#b5122f" fill-opacity="0.85"/>
<circle cx="174.83" cy="73.98" r="0.62" fill="#b5122f" fill-opacity="0.85"/>
<circle cx="174.01" cy="69.52" r="0.62" fill="#b5122f" fill-opacity="0.85"/>
<circle cx="172.91" cy="69.77" r="0.62" fill="#b5122f" fill-opacity="0.85"/>
<circle cx="174.67" cy="68.16" r="0.62" fill="#b5122f" fill-opacity="0.85"/>
<circle cx="172.45" cy="73.73" r="0.62" fill="#b5122f" fill-opacity="0.85"/>
<circle cx="172.64" cy="68.11" r="0.62" fill="#b5122f" fill-opacity="0.85"/>
<circle cx="171.83" cy="71.49" r="0.62" fill="#b5122f" fill-opacity="0.85"/>
<circle cx="172.94" cy="76.74" r="0.62" fill="#b5122f" fill-opacity="0.85"/>
<circle cx="175.06" cy="76.85" r="0.62" fill="#b5122f" fill-opacity="0.85"/>
<circle cx="172.71" cy="68.17" r="0.62" fill="#b5122f" fill-opacity="0.85"/>
<circle cx="172.07" cy="70.96" r="0.62" fill="#b5122f" fill-opacity="0.85"/>
<circle cx="174.40" cy="70.49" r="0.62" fill="#b5122f" fill-opacity="0.85"/>
<circle cx="172.59" cy="70.23" r="0.62" fill="#b5122f" fill-opacity="0.85"/>
<circle cx="174.06" cy="72.80" r="0.62" fill="#b5122f" fill-opacity="0.85"/>
<circle cx="174.54" cy="74.92" r="0.62" fill="#b5122f" fill-opacity="0.85"/>
<circle cx="174.22" cy="68.31" r="0.62" fill="#b5122f" fill-opacity="0.85"/>
<circle cx="174.90" cy="69.27" r="0.62" fill="#b5122f" fill-opacity="0.85"/>
<circle cx="173.85" cy="69.86" r="0.62" fill="#b5122f" fill-opacity="0.85"/>
<circle cx="174.50" cy="68.68" r="0.62" fill="#b5122f" fill-opacity="0.85"/>
<circle cx="172.64" cy="68.95" r="0.62" fill="#b5122f" fill-opacity="0.85"/>
<circle cx="172.28" cy="75.41" r="0.62" fill="#b5122f" fill-opacity="0.85"/>
<circle cx="173.90" cy="69.50" r="0.62" fill="#b5122f" fill-opacity="0.85"/>
<circle cx="173.21" cy="76.92" r="0.62" fill="#b5122f" fill-opacity="0.85"/>
<circle cx="173.63" cy="68.87" r="0.62" fill="#b5122f" fill-opacity="0.85"/>
<circle cx="174.77" cy="72.57" r="0.62" fill="#b5122f" fill-opacity="0.85"/>
<circle cx="175.47" cy="68.24" r="0.62" fill="#b5122f" fill-opacity="0.85"/>
<circle cx="173.50" cy="74.56" r="0.62" fill="#b5122f" fill-opacity="0.85"/>
<circle cx="174.89" cy="75.82" r="0.62" fill="#b5122f" fill-opacity="0.85"/>
<circle cx="171.85" cy="69.27" r="0.62" fill="#b5122f" fill-opacity="0.85"/>
<circle cx="172.15" cy="68.63" r="0.62" fill="#b5122f" fill-opacity="0.85"/>
<circle cx="175.40" cy="71.81" r="0.62" fill="#b5122f" fill-opacity="0.85"/>
<circle cx="175.23" cy="69.86" r="0.62" fill="#b5122f" fill-opacity="0.85"/>
<circle cx="174.99" cy="70.51" r="0.62" fill="#b5122f" fill-opacity="0.85"/>
<circle cx="172.69" cy="74.04" r="0.62" fill="#b5122f" fill-opacity="0.85"/>
<circle cx="175.29" cy="68.25" r="0.62" fill="#b5122f" fill-opacity="0.85"/>
<circle cx="173.97" cy="72.20" r="0.62" fill="#b5122f" fill-opacity="0.85"/>
<circle cx="172.53" cy="69.83" r="0.62" fill="#b5122f" fill-opacity="0.85"/>
<circle cx="172.24" cy="68.71" r="0.62" fill="#b5122f" fill-opacity="0.85"/>
<circle cx="172.67" cy="71.98" r="0.62" fill="#b5122f" fill-opacity="0.85"/>
<circle cx="174.18" cy="68.71" r="0.62" fill="#b5122f" fill-opacity="0.85"/>
<circle cx="171.74" cy="69.51" r="0.62" fill="#b5122f" fill-opacity="0.85"/>
<circle cx="174.28" cy="68.61" r="0.62" fill="#b5122f" fill-opacity="0.85"/>
<circle cx="172.89" cy="68.71" r="0.62" fill="#b5122f" fill-opacity="0.85"/>
<circle cx="174.72" cy="71.45" r="0.62" fill="#b5122f" fill-opacity="0.85"/>
<circle cx="171.94" cy="68.23" r="0.62" fill="#b5122f" fill-opacity="0.85"/>
<circle cx="173.20" cy="71.47" r="0.62" fill="#b5122f" fill-opacity="0.85"/>
<circle cx="174.13" cy="68.20" r="0.62" fill="#b5122f" fill-opacity="0.85"/>
<circle cx="172.32" cy="73.05" r="0.62" fill="#b5122f" fill-opacity="0.85"/>
<circle cx="173.26" cy="69.20" r="0.62" fill="#b5122f" fill-opacity="0.85"/>
<circle cx="172.87" cy="76.36" r="0.62" fill="#b5122f" fill-opacity="0.85"/>
<circle cx="172.89" cy="71.64" r="0.62" fill="#b5122f" fill-opacity="0.85"/>
<circle cx="173.06" cy="70.22" r="0.62" fill="#b5122f" fill-opacity="0.85"/>
<circle cx="174.98" cy="76.98" r="0.62" fill="#b5122f" fill-opacity="0.85"/>
<circle cx="173.08" cy="68.67" r="0.62" fill="#b5122f" fill-opacity="0.85"/>
<circle cx="174.47" cy="68.71" r="0.62" fill="#b5122f" fill-opacity="0.85"/>
<circle cx="171.72" cy="75.65" r="0.62" fill="#b5122f" fill-opacity="0.85"/>
<circle cx="173.31" cy="74.57" r="0.62" fill="#b5122f" fill-opacity="0.85"/>
<circle cx="173.24" cy="75.39" r="0.62" fill="#b5122f" fill-opacity="0.85"/>
<rect x="178.60" y="81.00" width="5.20" height="5.70" fill="#aab2c1" />
<circle cx="181.05" cy="81.19" r="0.62" fill="#46516f" fill-opacity="0.85"/>
<circle cx="179.36" cy="82.32" r="0.62" fill="#46516f" fill-opacity="0.85"/>
<circle cx="181.73" cy="83.94" r="0.62" fill="#46516f" fill-opacity="0.85"/>
<circle cx="179.64" cy="82.60" r="0.62" fill="#46516f" fill-opacity="0.85"/>
<circle cx="180.71" cy="82.14" r="0.62" fill="#46516f" fill-opacity="0.85"/>
<circle cx="179.85" cy="81.45" r="0.62" fill="#46516f" fill-opacity="0.85"/>
<circle cx="181.28" cy="84.02" r="0.62" fill="#46516f" fill-opacity="0.85"/>
<circle cx="179.71" cy="82.09" r="0.62" fill="#46516f" fill-opacity="0.85"/>
<circle cx="182.36" cy="84.24" r="0.62" fill="#46516f" fill-opacity="0.85"/>
<circle cx="180.05" cy="81.13" r="0.62" fill="#46516f" fill-opacity="0.85"/>
<circle cx="182.88" cy="84.29" r="0.62" fill="#46516f" fill-opacity="0.85"/>
<circle cx="181.13" cy="81.03" r="0.62" fill="#46516f" fill-opacity="0.85"/>
<circle cx="182.82" cy="81.75" r="0.62" fill="#46516f" fill-opacity="0.85"/>
<circle cx="182.74" cy="82.59" r="0.62" fill="#46516f" fill-opacity="0.85"/>
<circle cx="182.43" cy="81.18" r="0.62" fill="#46516f" fill-opacity="0.85"/>
<circle cx="182.29" cy="81.31" r="0.62" fill="#46516f" fill-opacity="0.85"/>
<circle cx="180.84" cy="83.62" r="0.62" fill="#46516f" fill-opacity="0.85"/>
<circle cx="182.45" cy="81.23" r="0.62" fill="#46516f" fill-opacity="0.85"/>
<circle cx="180.13" cy="81.79" r="0.62" fill="#46516f" fill-opacity="0.85"/>
<circle cx="181.27" cy="81.74" r="0.62" fill="#46516f" fill-opacity="0.85"/>
<circle cx="179.77" cy="81.37" r="0.62" fill="#46516f" fill-opacity="0.85"/>
<circle cx="182.05" cy="83.88" r="0.62" fill="#46516f" fill-opacity="0.85"/>
<circle cx="179.46" cy="82.36" r="0.62" fill="#46516f" fill-opacity="0.85"/>
<circle cx="182.18" cy="81.02" r="0.62" fill="#46516f" fill-opacity="0.85"/>
<circle cx="182.49" cy="81.11" r="0.62" fill="#46516f" fill-opacity="0.85"/>
<circle cx="181.58" cy="82.31" r="0.62" fill="#46516f" fill-opacity="0.85"/>
<circle cx="181.68" cy="81.51" r="0.62" fill="#46516f" fill-opacity="0.85"/>
<circle cx="180.90" cy="82.44" r="0.62" fill="#46516f" fill-opacity="0.85"/>
<circle cx="180.92" cy="82.75" r="0.62" fill="#46516f" fill-opacity="0.85"/>
<circle cx="181.00" cy="81.91" r="0.62" fill="#46516f" fill-opacity="0.85"/>
<circle cx="179.39" cy="82.59" r="0.62" fill="#46516f" fill-opacity="0.85"/>
<rect x="186.10" y="80.80" width="5.20" height="5.90" fill="#e4a291" />
<circle cx="188.66" cy="79.65" r="0.62" fill="#b5122f" fill-opacity="0.85"/>
<circle cx="189.70" cy="82.26" r="0.62" fill="#b5122f" fill-opacity="0.85"/>
<circle cx="188.54" cy="79.49" r="0.62" fill="#b5122f" fill-opacity="0.85"/>
<circle cx="188.60" cy="79.33" r="0.62" fill="#b5122f" fill-opacity="0.85"/>
<circle cx="187.29" cy="80.38" r="0.62" fill="#b5122f" fill-opacity="0.85"/>
<circle cx="187.15" cy="80.43" r="0.62" fill="#b5122f" fill-opacity="0.85"/>
<circle cx="188.74" cy="79.23" r="0.62" fill="#b5122f" fill-opacity="0.85"/>
<circle cx="189.22" cy="79.28" r="0.62" fill="#b5122f" fill-opacity="0.85"/>
<circle cx="189.59" cy="82.25" r="0.62" fill="#b5122f" fill-opacity="0.85"/>
<circle cx="188.74" cy="79.24" r="0.62" fill="#b5122f" fill-opacity="0.85"/>
<circle cx="188.71" cy="80.16" r="0.62" fill="#b5122f" fill-opacity="0.85"/>
<circle cx="190.41" cy="79.39" r="0.62" fill="#b5122f" fill-opacity="0.85"/>
<circle cx="190.06" cy="83.73" r="0.62" fill="#b5122f" fill-opacity="0.85"/>
<circle cx="189.58" cy="82.49" r="0.62" fill="#b5122f" fill-opacity="0.85"/>
<circle cx="187.54" cy="83.63" r="0.62" fill="#b5122f" fill-opacity="0.85"/>
<circle cx="188.67" cy="83.45" r="0.62" fill="#b5122f" fill-opacity="0.85"/>
<circle cx="190.28" cy="79.46" r="0.62" fill="#b5122f" fill-opacity="0.85"/>
<circle cx="189.80" cy="83.26" r="0.62" fill="#b5122f" fill-opacity="0.85"/>
<circle cx="187.05" cy="80.05" r="0.62" fill="#b5122f" fill-opacity="0.85"/>
<circle cx="189.67" cy="79.44" r="0.62" fill="#b5122f" fill-opacity="0.85"/>
<circle cx="190.21" cy="79.78" r="0.62" fill="#b5122f" fill-opacity="0.85"/>
<circle cx="189.90" cy="79.40" r="0.62" fill="#b5122f" fill-opacity="0.85"/>
<circle cx="188.71" cy="83.19" r="0.62" fill="#b5122f" fill-opacity="0.85"/>
<circle cx="187.59" cy="79.74" r="0.62" fill="#b5122f" fill-opacity="0.85"/>
<circle cx="188.72" cy="79.93" r="0.62" fill="#b5122f" fill-opacity="0.85"/>
<circle cx="186.94" cy="79.50" r="0.62" fill="#b5122f" fill-opacity="0.85"/>
<circle cx="187.41" cy="83.30" r="0.62" fill="#b5122f" fill-opacity="0.85"/>
<circle cx="189.38" cy="83.02" r="0.62" fill="#b5122f" fill-opacity="0.85"/>
<circle cx="187.44" cy="82.29" r="0.62" fill="#b5122f" fill-opacity="0.85"/>
<circle cx="187.24" cy="80.85" r="0.62" fill="#b5122f" fill-opacity="0.85"/>
<circle cx="189.22" cy="80.09" r="0.62" fill="#b5122f" fill-opacity="0.85"/>
<circle cx="190.12" cy="80.98" r="0.62" fill="#b5122f" fill-opacity="0.85"/>
<circle cx="189.00" cy="82.93" r="0.62" fill="#b5122f" fill-opacity="0.85"/>
<circle cx="187.20" cy="83.71" r="0.62" fill="#b5122f" fill-opacity="0.85"/>
<circle cx="189.19" cy="80.23" r="0.62" fill="#b5122f" fill-opacity="0.85"/>
<circle cx="189.83" cy="79.74" r="0.62" fill="#b5122f" fill-opacity="0.85"/>
<circle cx="190.56" cy="81.09" r="0.62" fill="#b5122f" fill-opacity="0.85"/>
<line x1="163.10" y1="89.50" x2="176.10" y2="89.50" stroke="#333" stroke-width="0.75" />
<line x1="178.10" y1="89.50" x2="191.60" y2="89.50" stroke="#333" stroke-width="0.75" />
<text x="158.60" y="96.90" font-size="4.8" text-anchor="middle" fill="#222" font-weight="normal" stroke="#222" stroke-width="0.07">D0</text>
<text x="169.90" y="96.90" font-size="4.8" text-anchor="middle" fill="#222" font-weight="normal" stroke="#222" stroke-width="0.07">D3</text>
<text x="184.60" y="96.90" font-size="4.8" text-anchor="middle" fill="#222" font-weight="normal" stroke="#222" stroke-width="0.07">D7</text>
<line x1="164.50" y1="62.50" x2="173.50" y2="62.50" stroke="#444" stroke-width="0.8" />
<text x="169.00" y="60.40" font-size="3.2" text-anchor="middle" fill="#666" font-weight="normal" >p&lt;0.0001</text>
<line x1="180.00" y1="77.20" x2="189.00" y2="77.20" stroke="#444" stroke-width="0.8" />
<text x="184.50" y="75.20" font-size="3.2" text-anchor="middle" fill="#666" font-weight="normal" >p=0.001</text>
<text x="236.7" y="46.1" font-size="5.7" fill="#333" text-anchor="middle"><tspan>AKT</tspan><tspan font-size="4.3" dy="-3.0">pS473</tspan></text>
<text transform="translate(203.20,72) rotate(-90)" font-size="5.2" text-anchor="middle" fill="#222" stroke="#222" stroke-width="0.07">Median intensity a.u.</text>
<line x1="216.80" y1="57.20" x2="216.80" y2="87.20" stroke="#222" stroke-width="1.0" />
<line x1="214.00" y1="86.70" x2="256.30" y2="86.70" stroke="#222" stroke-width="1.2" />
<line x1="213.80" y1="59.90" x2="216.80" y2="59.90" stroke="#333" stroke-width="0.6" />
<text x="211.00" y="61.50" font-size="4.6" text-anchor="end" fill="#444" font-weight="normal" stroke="#444" stroke-width="0.08">8</text>
<line x1="213.80" y1="66.60" x2="216.80" y2="66.60" stroke="#333" stroke-width="0.6" />
<text x="211.00" y="68.20" font-size="4.6" text-anchor="end" fill="#444" font-weight="normal" stroke="#444" stroke-width="0.08">6</text>
<line x1="213.80" y1="73.30" x2="216.80" y2="73.30" stroke="#333" stroke-width="0.6" />
<text x="211.00" y="74.90" font-size="4.6" text-anchor="end" fill="#444" font-weight="normal" stroke="#444" stroke-width="0.08">4</text>
<line x1="213.80" y1="80.00" x2="216.80" y2="80.00" stroke="#333" stroke-width="0.6" />
<text x="211.00" y="81.60" font-size="4.6" text-anchor="end" fill="#444" font-weight="normal" stroke="#444" stroke-width="0.08">2</text>
<line x1="213.80" y1="86.70" x2="216.80" y2="86.70" stroke="#333" stroke-width="0.6" />
<text x="211.00" y="88.30" font-size="4.6" text-anchor="end" fill="#444" font-weight="normal" stroke="#444" stroke-width="0.08">0</text>
<rect x="220.20" y="86.50" width="3.20" height="0.20" fill="#d3d5df" />
<rect x="226.80" y="82.80" width="5.20" height="3.90" fill="#aab2c1" />
<circle cx="228.87" cy="84.82" r="0.62" fill="#46516f" fill-opacity="0.85"/>
<circle cx="229.18" cy="83.08" r="0.62" fill="#46516f" fill-opacity="0.85"/>
<circle cx="230.33" cy="82.92" r="0.62" fill="#46516f" fill-opacity="0.85"/>
<circle cx="230.62" cy="83.23" r="0.62" fill="#46516f" fill-opacity="0.85"/>
<circle cx="229.93" cy="85.77" r="0.62" fill="#46516f" fill-opacity="0.85"/>
<circle cx="229.73" cy="84.43" r="0.62" fill="#46516f" fill-opacity="0.85"/>
<circle cx="228.69" cy="82.90" r="0.62" fill="#46516f" fill-opacity="0.85"/>
<circle cx="227.63" cy="83.04" r="0.62" fill="#46516f" fill-opacity="0.85"/>
<circle cx="229.84" cy="83.67" r="0.62" fill="#46516f" fill-opacity="0.85"/>
<circle cx="229.45" cy="85.37" r="0.62" fill="#46516f" fill-opacity="0.85"/>
<circle cx="228.00" cy="83.18" r="0.62" fill="#46516f" fill-opacity="0.85"/>
<circle cx="229.98" cy="82.91" r="0.62" fill="#46516f" fill-opacity="0.85"/>
<circle cx="227.51" cy="83.46" r="0.62" fill="#46516f" fill-opacity="0.85"/>
<circle cx="227.90" cy="83.47" r="0.62" fill="#46516f" fill-opacity="0.85"/>
<circle cx="228.35" cy="84.14" r="0.62" fill="#46516f" fill-opacity="0.85"/>
<circle cx="229.74" cy="83.13" r="0.62" fill="#46516f" fill-opacity="0.85"/>
<circle cx="229.87" cy="83.79" r="0.62" fill="#46516f" fill-opacity="0.85"/>
<circle cx="228.01" cy="85.55" r="0.62" fill="#46516f" fill-opacity="0.85"/>
<circle cx="228.43" cy="83.04" r="0.62" fill="#46516f" fill-opacity="0.85"/>
<circle cx="227.86" cy="84.34" r="0.62" fill="#46516f" fill-opacity="0.85"/>
<circle cx="230.81" cy="84.89" r="0.62" fill="#46516f" fill-opacity="0.85"/>
<circle cx="229.03" cy="83.25" r="0.62" fill="#46516f" fill-opacity="0.85"/>
<circle cx="227.54" cy="84.36" r="0.62" fill="#46516f" fill-opacity="0.85"/>
<circle cx="229.64" cy="83.45" r="0.62" fill="#46516f" fill-opacity="0.85"/>
<circle cx="229.95" cy="83.70" r="0.62" fill="#46516f" fill-opacity="0.85"/>
<circle cx="231.06" cy="84.69" r="0.62" fill="#46516f" fill-opacity="0.85"/>
<circle cx="228.44" cy="85.40" r="0.62" fill="#46516f" fill-opacity="0.85"/>
<circle cx="227.67" cy="83.97" r="0.62" fill="#46516f" fill-opacity="0.85"/>
<circle cx="229.04" cy="83.20" r="0.62" fill="#46516f" fill-opacity="0.85"/>
<rect x="234.20" y="72.00" width="5.20" height="14.70" fill="#e4a291" />
<circle cx="235.12" cy="74.31" r="0.62" fill="#b5122f" fill-opacity="0.85"/>
<circle cx="234.95" cy="70.14" r="0.62" fill="#b5122f" fill-opacity="0.85"/>
<circle cx="238.48" cy="65.15" r="0.62" fill="#b5122f" fill-opacity="0.85"/>
<circle cx="235.66" cy="71.10" r="0.62" fill="#b5122f" fill-opacity="0.85"/>
<circle cx="236.83" cy="71.69" r="0.62" fill="#b5122f" fill-opacity="0.85"/>
<circle cx="237.99" cy="65.40" r="0.62" fill="#b5122f" fill-opacity="0.85"/>
<circle cx="236.08" cy="66.63" r="0.62" fill="#b5122f" fill-opacity="0.85"/>
<circle cx="235.08" cy="76.63" r="0.62" fill="#b5122f" fill-opacity="0.85"/>
<circle cx="237.88" cy="73.06" r="0.62" fill="#b5122f" fill-opacity="0.85"/>
<circle cx="234.92" cy="75.66" r="0.62" fill="#b5122f" fill-opacity="0.85"/>
<circle cx="237.73" cy="68.80" r="0.62" fill="#b5122f" fill-opacity="0.85"/>
<circle cx="237.72" cy="68.61" r="0.62" fill="#b5122f" fill-opacity="0.85"/>
<circle cx="235.76" cy="64.90" r="0.62" fill="#b5122f" fill-opacity="0.85"/>
<circle cx="235.78" cy="64.58" r="0.62" fill="#b5122f" fill-opacity="0.85"/>
<circle cx="236.17" cy="73.73" r="0.62" fill="#b5122f" fill-opacity="0.85"/>
<circle cx="237.54" cy="75.68" r="0.62" fill="#b5122f" fill-opacity="0.85"/>
<circle cx="237.60" cy="66.26" r="0.62" fill="#b5122f" fill-opacity="0.85"/>
<circle cx="237.00" cy="68.38" r="0.62" fill="#b5122f" fill-opacity="0.85"/>
<circle cx="237.90" cy="69.69" r="0.62" fill="#b5122f" fill-opacity="0.85"/>
<circle cx="235.91" cy="71.70" r="0.62" fill="#b5122f" fill-opacity="0.85"/>
<circle cx="238.57" cy="65.77" r="0.62" fill="#b5122f" fill-opacity="0.85"/>
<circle cx="238.24" cy="64.52" r="0.62" fill="#b5122f" fill-opacity="0.85"/>
<circle cx="235.89" cy="65.95" r="0.62" fill="#b5122f" fill-opacity="0.85"/>
<circle cx="237.73" cy="77.86" r="0.62" fill="#b5122f" fill-opacity="0.85"/>
<circle cx="237.74" cy="66.94" r="0.62" fill="#b5122f" fill-opacity="0.85"/>
<circle cx="238.24" cy="66.96" r="0.62" fill="#b5122f" fill-opacity="0.85"/>
<circle cx="235.81" cy="77.03" r="0.62" fill="#b5122f" fill-opacity="0.85"/>
<circle cx="237.30" cy="72.63" r="0.62" fill="#b5122f" fill-opacity="0.85"/>
<circle cx="237.43" cy="78.64" r="0.62" fill="#b5122f" fill-opacity="0.85"/>
<circle cx="236.68" cy="75.56" r="0.62" fill="#b5122f" fill-opacity="0.85"/>
<circle cx="237.55" cy="75.94" r="0.62" fill="#b5122f" fill-opacity="0.85"/>
<circle cx="236.56" cy="73.24" r="0.62" fill="#b5122f" fill-opacity="0.85"/>
<circle cx="237.07" cy="66.72" r="0.62" fill="#b5122f" fill-opacity="0.85"/>
<circle cx="235.71" cy="71.35" r="0.62" fill="#b5122f" fill-opacity="0.85"/>
<circle cx="235.20" cy="77.10" r="0.62" fill="#b5122f" fill-opacity="0.85"/>
<circle cx="235.45" cy="64.54" r="0.62" fill="#b5122f" fill-opacity="0.85"/>
<circle cx="235.31" cy="77.50" r="0.62" fill="#b5122f" fill-opacity="0.85"/>
<circle cx="236.21" cy="65.14" r="0.62" fill="#b5122f" fill-opacity="0.85"/>
<circle cx="235.01" cy="64.59" r="0.62" fill="#b5122f" fill-opacity="0.85"/>
<circle cx="237.53" cy="71.55" r="0.62" fill="#b5122f" fill-opacity="0.85"/>
<circle cx="237.55" cy="73.47" r="0.62" fill="#b5122f" fill-opacity="0.85"/>
<circle cx="235.15" cy="70.80" r="0.62" fill="#b5122f" fill-opacity="0.85"/>
<circle cx="236.28" cy="75.10" r="0.62" fill="#b5122f" fill-opacity="0.85"/>
<circle cx="238.01" cy="76.67" r="0.62" fill="#b5122f" fill-opacity="0.85"/>
<circle cx="235.15" cy="76.16" r="0.62" fill="#b5122f" fill-opacity="0.85"/>
<circle cx="238.37" cy="77.85" r="0.62" fill="#b5122f" fill-opacity="0.85"/>
<circle cx="235.31" cy="65.67" r="0.62" fill="#b5122f" fill-opacity="0.85"/>
<circle cx="235.33" cy="64.57" r="0.62" fill="#b5122f" fill-opacity="0.85"/>
<circle cx="238.12" cy="74.98" r="0.62" fill="#b5122f" fill-opacity="0.85"/>
<circle cx="237.31" cy="75.26" r="0.62" fill="#b5122f" fill-opacity="0.85"/>
<circle cx="237.30" cy="66.49" r="0.62" fill="#b5122f" fill-opacity="0.85"/>
<circle cx="235.28" cy="64.85" r="0.62" fill="#b5122f" fill-opacity="0.85"/>
<circle cx="237.78" cy="65.66" r="0.62" fill="#b5122f" fill-opacity="0.85"/>
<circle cx="236.11" cy="68.20" r="0.62" fill="#b5122f" fill-opacity="0.85"/>
<circle cx="234.98" cy="66.16" r="0.62" fill="#b5122f" fill-opacity="0.85"/>
<circle cx="235.97" cy="73.07" r="0.62" fill="#b5122f" fill-opacity="0.85"/>
<circle cx="236.30" cy="66.87" r="0.62" fill="#b5122f" fill-opacity="0.85"/>
<circle cx="238.56" cy="69.38" r="0.62" fill="#b5122f" fill-opacity="0.85"/>
<circle cx="238.14" cy="71.28" r="0.62" fill="#b5122f" fill-opacity="0.85"/>
<circle cx="235.02" cy="68.05" r="0.62" fill="#b5122f" fill-opacity="0.85"/>
<circle cx="236.56" cy="74.19" r="0.62" fill="#b5122f" fill-opacity="0.85"/>
<circle cx="236.22" cy="72.86" r="0.62" fill="#b5122f" fill-opacity="0.85"/>
<circle cx="236.94" cy="65.77" r="0.62" fill="#b5122f" fill-opacity="0.85"/>
<circle cx="238.18" cy="64.82" r="0.62" fill="#b5122f" fill-opacity="0.85"/>
<circle cx="238.02" cy="65.36" r="0.62" fill="#b5122f" fill-opacity="0.85"/>
<circle cx="234.90" cy="65.63" r="0.62" fill="#b5122f" fill-opacity="0.85"/>
<circle cx="237.80" cy="78.62" r="0.62" fill="#b5122f" fill-opacity="0.85"/>
<circle cx="234.92" cy="69.19" r="0.62" fill="#b5122f" fill-opacity="0.85"/>
<circle cx="236.77" cy="74.67" r="0.62" fill="#b5122f" fill-opacity="0.85"/>
<circle cx="235.60" cy="69.24" r="0.62" fill="#b5122f" fill-opacity="0.85"/>
<circle cx="236.22" cy="75.40" r="0.62" fill="#b5122f" fill-opacity="0.85"/>
<circle cx="235.89" cy="77.84" r="0.62" fill="#b5122f" fill-opacity="0.85"/>
<circle cx="235.98" cy="65.75" r="0.62" fill="#b5122f" fill-opacity="0.85"/>
<circle cx="237.56" cy="69.30" r="0.62" fill="#b5122f" fill-opacity="0.85"/>
<circle cx="235.32" cy="71.60" r="0.62" fill="#b5122f" fill-opacity="0.85"/>
<circle cx="235.21" cy="74.49" r="0.62" fill="#b5122f" fill-opacity="0.85"/>
<circle cx="237.55" cy="74.47" r="0.62" fill="#b5122f" fill-opacity="0.85"/>
<circle cx="237.29" cy="67.30" r="0.62" fill="#b5122f" fill-opacity="0.85"/>
<circle cx="236.42" cy="67.80" r="0.62" fill="#b5122f" fill-opacity="0.85"/>
<circle cx="238.28" cy="64.79" r="0.62" fill="#b5122f" fill-opacity="0.85"/>
<circle cx="238.28" cy="64.54" r="0.62" fill="#b5122f" fill-opacity="0.85"/>
<circle cx="235.68" cy="66.23" r="0.62" fill="#b5122f" fill-opacity="0.85"/>
<circle cx="238.32" cy="69.34" r="0.62" fill="#b5122f" fill-opacity="0.85"/>
<circle cx="236.34" cy="76.51" r="0.62" fill="#b5122f" fill-opacity="0.85"/>
<circle cx="235.79" cy="68.74" r="0.62" fill="#b5122f" fill-opacity="0.85"/>
<circle cx="236.92" cy="73.82" r="0.62" fill="#b5122f" fill-opacity="0.85"/>
<circle cx="237.76" cy="71.78" r="0.62" fill="#b5122f" fill-opacity="0.85"/>
<circle cx="236.22" cy="66.94" r="0.62" fill="#b5122f" fill-opacity="0.85"/>
<circle cx="235.49" cy="75.63" r="0.62" fill="#b5122f" fill-opacity="0.85"/>
<circle cx="237.42" cy="73.58" r="0.62" fill="#b5122f" fill-opacity="0.85"/>
<circle cx="235.54" cy="68.42" r="0.62" fill="#b5122f" fill-opacity="0.85"/>
<rect x="241.80" y="71.30" width="5.20" height="15.40" fill="#aab2c1" />
<circle cx="245.44" cy="74.41" r="0.62" fill="#46516f" fill-opacity="0.85"/>
<circle cx="242.98" cy="73.31" r="0.62" fill="#46516f" fill-opacity="0.85"/>
<circle cx="245.86" cy="71.67" r="0.62" fill="#46516f" fill-opacity="0.85"/>
<circle cx="243.23" cy="72.07" r="0.62" fill="#46516f" fill-opacity="0.85"/>
<circle cx="245.17" cy="77.39" r="0.62" fill="#46516f" fill-opacity="0.85"/>
<circle cx="243.09" cy="71.24" r="0.62" fill="#46516f" fill-opacity="0.85"/>
<circle cx="243.44" cy="72.24" r="0.62" fill="#46516f" fill-opacity="0.85"/>
<circle cx="244.48" cy="71.26" r="0.62" fill="#46516f" fill-opacity="0.85"/>
<circle cx="243.75" cy="71.40" r="0.62" fill="#46516f" fill-opacity="0.85"/>
<circle cx="246.21" cy="76.01" r="0.62" fill="#46516f" fill-opacity="0.85"/>
<circle cx="242.89" cy="78.93" r="0.62" fill="#46516f" fill-opacity="0.85"/>
<circle cx="242.89" cy="72.67" r="0.62" fill="#46516f" fill-opacity="0.85"/>
<circle cx="246.24" cy="76.79" r="0.62" fill="#46516f" fill-opacity="0.85"/>
<circle cx="245.29" cy="73.08" r="0.62" fill="#46516f" fill-opacity="0.85"/>
<circle cx="243.25" cy="75.01" r="0.62" fill="#46516f" fill-opacity="0.85"/>
<circle cx="242.91" cy="71.49" r="0.62" fill="#46516f" fill-opacity="0.85"/>
<circle cx="243.98" cy="70.84" r="0.62" fill="#46516f" fill-opacity="0.85"/>
<circle cx="244.02" cy="76.74" r="0.62" fill="#46516f" fill-opacity="0.85"/>
<circle cx="245.14" cy="73.66" r="0.62" fill="#46516f" fill-opacity="0.85"/>
<circle cx="244.90" cy="73.32" r="0.62" fill="#46516f" fill-opacity="0.85"/>
<circle cx="243.04" cy="74.66" r="0.62" fill="#46516f" fill-opacity="0.85"/>
<circle cx="244.04" cy="76.15" r="0.62" fill="#46516f" fill-opacity="0.85"/>
<circle cx="245.95" cy="73.04" r="0.62" fill="#46516f" fill-opacity="0.85"/>
<circle cx="244.68" cy="76.25" r="0.62" fill="#46516f" fill-opacity="0.85"/>
<circle cx="244.10" cy="71.62" r="0.62" fill="#46516f" fill-opacity="0.85"/>
<circle cx="245.24" cy="77.85" r="0.62" fill="#46516f" fill-opacity="0.85"/>
<circle cx="245.44" cy="75.69" r="0.62" fill="#46516f" fill-opacity="0.85"/>
<circle cx="245.74" cy="75.46" r="0.62" fill="#46516f" fill-opacity="0.85"/>
<circle cx="244.94" cy="73.24" r="0.62" fill="#46516f" fill-opacity="0.85"/>
<circle cx="243.69" cy="74.91" r="0.62" fill="#46516f" fill-opacity="0.85"/>
<circle cx="242.87" cy="72.95" r="0.62" fill="#46516f" fill-opacity="0.85"/>
<circle cx="245.47" cy="75.83" r="0.62" fill="#46516f" fill-opacity="0.85"/>
<circle cx="244.89" cy="71.74" r="0.62" fill="#46516f" fill-opacity="0.85"/>
<circle cx="244.11" cy="73.25" r="0.62" fill="#46516f" fill-opacity="0.85"/>
<circle cx="244.86" cy="72.87" r="0.62" fill="#46516f" fill-opacity="0.85"/>
<circle cx="245.07" cy="78.50" r="0.62" fill="#46516f" fill-opacity="0.85"/>
<circle cx="243.20" cy="75.19" r="0.62" fill="#46516f" fill-opacity="0.85"/>
<circle cx="245.46" cy="72.71" r="0.62" fill="#46516f" fill-opacity="0.85"/>
<circle cx="244.36" cy="79.10" r="0.62" fill="#46516f" fill-opacity="0.85"/>
<circle cx="242.64" cy="74.06" r="0.62" fill="#46516f" fill-opacity="0.85"/>
<circle cx="243.11" cy="76.63" r="0.62" fill="#46516f" fill-opacity="0.85"/>
<circle cx="246.07" cy="73.83" r="0.62" fill="#46516f" fill-opacity="0.85"/>
<circle cx="242.88" cy="74.36" r="0.62" fill="#46516f" fill-opacity="0.85"/>
<circle cx="244.56" cy="75.88" r="0.62" fill="#46516f" fill-opacity="0.85"/>
<circle cx="244.45" cy="75.03" r="0.62" fill="#46516f" fill-opacity="0.85"/>
<circle cx="245.65" cy="73.85" r="0.62" fill="#46516f" fill-opacity="0.85"/>
<circle cx="244.06" cy="78.74" r="0.62" fill="#46516f" fill-opacity="0.85"/>
<circle cx="243.30" cy="75.51" r="0.62" fill="#46516f" fill-opacity="0.85"/>
<circle cx="243.99" cy="76.40" r="0.62" fill="#46516f" fill-opacity="0.85"/>
<circle cx="242.97" cy="79.23" r="0.62" fill="#46516f" fill-opacity="0.85"/>
<circle cx="243.85" cy="70.89" r="0.62" fill="#46516f" fill-opacity="0.85"/>
<circle cx="243.54" cy="72.79" r="0.62" fill="#46516f" fill-opacity="0.85"/>
<circle cx="242.55" cy="72.95" r="0.62" fill="#46516f" fill-opacity="0.85"/>
<circle cx="244.10" cy="75.67" r="0.62" fill="#46516f" fill-opacity="0.85"/>
<circle cx="243.84" cy="71.83" r="0.62" fill="#46516f" fill-opacity="0.85"/>
<circle cx="243.35" cy="76.16" r="0.62" fill="#46516f" fill-opacity="0.85"/>
<circle cx="246.07" cy="73.90" r="0.62" fill="#46516f" fill-opacity="0.85"/>
<circle cx="243.33" cy="76.87" r="0.62" fill="#46516f" fill-opacity="0.85"/>
<circle cx="243.99" cy="71.52" r="0.62" fill="#46516f" fill-opacity="0.85"/>
<rect x="249.30" y="73.40" width="5.20" height="13.30" fill="#e4a291" />
<circle cx="250.49" cy="75.89" r="0.62" fill="#b5122f" fill-opacity="0.85"/>
<circle cx="253.08" cy="74.59" r="0.62" fill="#b5122f" fill-opacity="0.85"/>
<circle cx="251.78" cy="74.00" r="0.62" fill="#b5122f" fill-opacity="0.85"/>
<circle cx="250.86" cy="77.83" r="0.62" fill="#b5122f" fill-opacity="0.85"/>
<circle cx="251.34" cy="74.63" r="0.62" fill="#b5122f" fill-opacity="0.85"/>
<circle cx="253.11" cy="76.28" r="0.62" fill="#b5122f" fill-opacity="0.85"/>
<circle cx="251.78" cy="72.19" r="0.62" fill="#b5122f" fill-opacity="0.85"/>
<circle cx="252.08" cy="71.45" r="0.62" fill="#b5122f" fill-opacity="0.85"/>
<circle cx="253.17" cy="72.54" r="0.62" fill="#b5122f" fill-opacity="0.85"/>
<circle cx="253.23" cy="72.05" r="0.62" fill="#b5122f" fill-opacity="0.85"/>
<circle cx="251.43" cy="71.98" r="0.62" fill="#b5122f" fill-opacity="0.85"/>
<circle cx="251.62" cy="71.68" r="0.62" fill="#b5122f" fill-opacity="0.85"/>
<circle cx="250.01" cy="75.37" r="0.62" fill="#b5122f" fill-opacity="0.85"/>
<circle cx="251.07" cy="71.94" r="0.62" fill="#b5122f" fill-opacity="0.85"/>
<circle cx="251.15" cy="73.37" r="0.62" fill="#b5122f" fill-opacity="0.85"/>
<circle cx="251.63" cy="74.62" r="0.62" fill="#b5122f" fill-opacity="0.85"/>
<circle cx="252.51" cy="72.59" r="0.62" fill="#b5122f" fill-opacity="0.85"/>
<circle cx="253.53" cy="76.67" r="0.62" fill="#b5122f" fill-opacity="0.85"/>
<circle cx="250.22" cy="76.40" r="0.62" fill="#b5122f" fill-opacity="0.85"/>
<circle cx="253.44" cy="75.96" r="0.62" fill="#b5122f" fill-opacity="0.85"/>
<circle cx="250.53" cy="76.43" r="0.62" fill="#b5122f" fill-opacity="0.85"/>
<circle cx="252.41" cy="71.21" r="0.62" fill="#b5122f" fill-opacity="0.85"/>
<circle cx="250.04" cy="77.70" r="0.62" fill="#b5122f" fill-opacity="0.85"/>
<circle cx="252.49" cy="71.97" r="0.62" fill="#b5122f" fill-opacity="0.85"/>
<circle cx="250.39" cy="71.51" r="0.62" fill="#b5122f" fill-opacity="0.85"/>
<circle cx="250.89" cy="75.89" r="0.62" fill="#b5122f" fill-opacity="0.85"/>
<circle cx="251.32" cy="71.55" r="0.62" fill="#b5122f" fill-opacity="0.85"/>
<circle cx="253.44" cy="76.04" r="0.62" fill="#b5122f" fill-opacity="0.85"/>
<circle cx="250.64" cy="77.05" r="0.62" fill="#b5122f" fill-opacity="0.85"/>
<circle cx="252.31" cy="75.94" r="0.62" fill="#b5122f" fill-opacity="0.85"/>
<circle cx="252.54" cy="77.08" r="0.62" fill="#b5122f" fill-opacity="0.85"/>
<circle cx="252.99" cy="76.51" r="0.62" fill="#b5122f" fill-opacity="0.85"/>
<circle cx="250.75" cy="75.11" r="0.62" fill="#b5122f" fill-opacity="0.85"/>
<circle cx="252.02" cy="75.56" r="0.62" fill="#b5122f" fill-opacity="0.85"/>
<circle cx="251.67" cy="76.96" r="0.62" fill="#b5122f" fill-opacity="0.85"/>
<circle cx="252.11" cy="72.04" r="0.62" fill="#b5122f" fill-opacity="0.85"/>
<circle cx="250.89" cy="71.50" r="0.62" fill="#b5122f" fill-opacity="0.85"/>
<circle cx="251.87" cy="71.27" r="0.62" fill="#b5122f" fill-opacity="0.85"/>
<circle cx="251.77" cy="71.52" r="0.62" fill="#b5122f" fill-opacity="0.85"/>
<circle cx="251.87" cy="73.51" r="0.62" fill="#b5122f" fill-opacity="0.85"/>
<circle cx="252.05" cy="76.75" r="0.62" fill="#b5122f" fill-opacity="0.85"/>
<circle cx="250.03" cy="76.53" r="0.62" fill="#b5122f" fill-opacity="0.85"/>
<circle cx="251.78" cy="74.00" r="0.62" fill="#b5122f" fill-opacity="0.85"/>
<circle cx="252.53" cy="76.52" r="0.62" fill="#b5122f" fill-opacity="0.85"/>
<circle cx="251.42" cy="72.95" r="0.62" fill="#b5122f" fill-opacity="0.85"/>
<circle cx="253.65" cy="71.31" r="0.62" fill="#b5122f" fill-opacity="0.85"/>
<circle cx="252.42" cy="74.61" r="0.62" fill="#b5122f" fill-opacity="0.85"/>
<circle cx="250.11" cy="74.39" r="0.62" fill="#b5122f" fill-opacity="0.85"/>
<circle cx="252.59" cy="77.48" r="0.62" fill="#b5122f" fill-opacity="0.85"/>
<circle cx="251.26" cy="78.03" r="0.62" fill="#b5122f" fill-opacity="0.85"/>
<line x1="226.30" y1="89.50" x2="239.30" y2="89.50" stroke="#333" stroke-width="0.75" />
<line x1="241.30" y1="89.50" x2="254.80" y2="89.50" stroke="#333" stroke-width="0.75" />
<text x="221.80" y="96.90" font-size="4.8" text-anchor="middle" fill="#222" font-weight="normal" stroke="#222" stroke-width="0.07">D0</text>
<text x="233.10" y="96.90" font-size="4.8" text-anchor="middle" fill="#222" font-weight="normal" stroke="#222" stroke-width="0.07">D3</text>
<text x="247.80" y="96.90" font-size="4.8" text-anchor="middle" fill="#222" font-weight="normal" stroke="#222" stroke-width="0.07">D7</text>
<line x1="228.50" y1="63.00" x2="237.00" y2="63.00" stroke="#444" stroke-width="0.8" />
<text x="232.75" y="61.40" font-size="3.2" text-anchor="middle" fill="#666" font-weight="normal" >p&lt;0.0001</text>
<line x1="242.80" y1="68.00" x2="251.50" y2="68.00" stroke="#444" stroke-width="0.8" />
<text x="247.15" y="66.40" font-size="3.2" text-anchor="middle" fill="#666" font-weight="normal" >p&lt;0.0001</text>
<text x="301.0" y="46.1" font-size="6.2" fill="#333" text-anchor="middle"><tspan>p53</tspan><tspan font-size="4.3" dy="-3.0">pS392</tspan></text>
<text transform="translate(265.50,72) rotate(-90)" font-size="5.2" text-anchor="middle" fill="#222" stroke="#222" stroke-width="0.07">Median intensity a.u.</text>
<line x1="281.60" y1="57.20" x2="281.60" y2="87.20" stroke="#222" stroke-width="1.0" />
<line x1="278.80" y1="86.70" x2="321.10" y2="86.70" stroke="#222" stroke-width="1.2" />
<line x1="278.60" y1="59.90" x2="281.60" y2="59.90" stroke="#333" stroke-width="0.6" />
<text x="275.80" y="61.50" font-size="4.6" text-anchor="end" fill="#444" font-weight="normal" stroke="#444" stroke-width="0.08">15</text>
<line x1="278.60" y1="68.83" x2="281.60" y2="68.83" stroke="#333" stroke-width="0.6" />
<text x="275.80" y="70.43" font-size="4.6" text-anchor="end" fill="#444" font-weight="normal" stroke="#444" stroke-width="0.08">10</text>
<line x1="278.60" y1="77.77" x2="281.60" y2="77.77" stroke="#333" stroke-width="0.6" />
<text x="275.80" y="79.37" font-size="4.6" text-anchor="end" fill="#444" font-weight="normal" stroke="#444" stroke-width="0.08">5</text>
<line x1="278.60" y1="86.70" x2="281.60" y2="86.70" stroke="#333" stroke-width="0.6" />
<text x="275.80" y="88.30" font-size="4.6" text-anchor="end" fill="#444" font-weight="normal" stroke="#444" stroke-width="0.08">0</text>
<rect x="285.00" y="86.50" width="3.20" height="0.20" fill="#d3d5df" />
<rect x="291.60" y="80.10" width="5.20" height="6.60" fill="#aab2c1" />
<circle cx="294.24" cy="79.93" r="0.62" fill="#46516f" fill-opacity="0.85"/>
<circle cx="295.71" cy="78.52" r="0.62" fill="#46516f" fill-opacity="0.85"/>
<circle cx="295.03" cy="80.65" r="0.62" fill="#46516f" fill-opacity="0.85"/>
<circle cx="293.59" cy="82.09" r="0.62" fill="#46516f" fill-opacity="0.85"/>
<circle cx="293.69" cy="79.88" r="0.62" fill="#46516f" fill-opacity="0.85"/>
<circle cx="294.30" cy="81.51" r="0.62" fill="#46516f" fill-opacity="0.85"/>
<circle cx="293.10" cy="79.70" r="0.62" fill="#46516f" fill-opacity="0.85"/>
<circle cx="293.91" cy="80.27" r="0.62" fill="#46516f" fill-opacity="0.85"/>
<circle cx="295.44" cy="79.14" r="0.62" fill="#46516f" fill-opacity="0.85"/>
<circle cx="295.45" cy="79.57" r="0.62" fill="#46516f" fill-opacity="0.85"/>
<circle cx="294.21" cy="79.07" r="0.62" fill="#46516f" fill-opacity="0.85"/>
<circle cx="294.22" cy="82.88" r="0.62" fill="#46516f" fill-opacity="0.85"/>
<circle cx="294.79" cy="81.64" r="0.62" fill="#46516f" fill-opacity="0.85"/>
<circle cx="293.56" cy="79.23" r="0.62" fill="#46516f" fill-opacity="0.85"/>
<circle cx="293.44" cy="80.44" r="0.62" fill="#46516f" fill-opacity="0.85"/>
<circle cx="294.71" cy="81.59" r="0.62" fill="#46516f" fill-opacity="0.85"/>
<circle cx="292.45" cy="81.21" r="0.62" fill="#46516f" fill-opacity="0.85"/>
<circle cx="295.67" cy="80.23" r="0.62" fill="#46516f" fill-opacity="0.85"/>
<circle cx="292.49" cy="79.17" r="0.62" fill="#46516f" fill-opacity="0.85"/>
<circle cx="292.32" cy="78.82" r="0.62" fill="#46516f" fill-opacity="0.85"/>
<circle cx="295.80" cy="80.56" r="0.62" fill="#46516f" fill-opacity="0.85"/>
<circle cx="294.80" cy="81.62" r="0.62" fill="#46516f" fill-opacity="0.85"/>
<circle cx="295.76" cy="80.58" r="0.62" fill="#46516f" fill-opacity="0.85"/>
<circle cx="294.64" cy="80.66" r="0.62" fill="#46516f" fill-opacity="0.85"/>
<circle cx="294.95" cy="80.49" r="0.62" fill="#46516f" fill-opacity="0.85"/>
<circle cx="294.89" cy="78.88" r="0.62" fill="#46516f" fill-opacity="0.85"/>
<circle cx="294.83" cy="79.81" r="0.62" fill="#46516f" fill-opacity="0.85"/>
<circle cx="295.20" cy="78.62" r="0.62" fill="#46516f" fill-opacity="0.85"/>
<circle cx="292.99" cy="78.52" r="0.62" fill="#46516f" fill-opacity="0.85"/>
<circle cx="295.24" cy="82.45" r="0.62" fill="#46516f" fill-opacity="0.85"/>
<circle cx="294.79" cy="79.42" r="0.62" fill="#46516f" fill-opacity="0.85"/>
<circle cx="295.43" cy="81.61" r="0.62" fill="#46516f" fill-opacity="0.85"/>
<circle cx="294.44" cy="79.02" r="0.62" fill="#46516f" fill-opacity="0.85"/>
<circle cx="293.45" cy="79.65" r="0.62" fill="#46516f" fill-opacity="0.85"/>
<circle cx="293.51" cy="79.68" r="0.62" fill="#46516f" fill-opacity="0.85"/>
<circle cx="294.74" cy="82.59" r="0.62" fill="#46516f" fill-opacity="0.85"/>
<circle cx="292.51" cy="80.34" r="0.62" fill="#46516f" fill-opacity="0.85"/>
<rect x="299.00" y="74.00" width="5.20" height="12.70" fill="#e4a291" />
<circle cx="299.85" cy="71.97" r="0.62" fill="#b5122f" fill-opacity="0.85"/>
<circle cx="302.78" cy="73.92" r="0.62" fill="#b5122f" fill-opacity="0.85"/>
<circle cx="303.19" cy="73.21" r="0.62" fill="#b5122f" fill-opacity="0.85"/>
<circle cx="299.75" cy="72.92" r="0.62" fill="#b5122f" fill-opacity="0.85"/>
<circle cx="301.95" cy="76.43" r="0.62" fill="#b5122f" fill-opacity="0.85"/>
<circle cx="303.43" cy="73.36" r="0.62" fill="#b5122f" fill-opacity="0.85"/>
<circle cx="301.27" cy="71.93" r="0.62" fill="#b5122f" fill-opacity="0.85"/>
<circle cx="302.15" cy="72.23" r="0.62" fill="#b5122f" fill-opacity="0.85"/>
<circle cx="300.28" cy="71.81" r="0.62" fill="#b5122f" fill-opacity="0.85"/>
<circle cx="299.72" cy="74.59" r="0.62" fill="#b5122f" fill-opacity="0.85"/>
<circle cx="300.16" cy="76.66" r="0.62" fill="#b5122f" fill-opacity="0.85"/>
<circle cx="300.03" cy="75.90" r="0.62" fill="#b5122f" fill-opacity="0.85"/>
<circle cx="300.19" cy="71.81" r="0.62" fill="#b5122f" fill-opacity="0.85"/>
<circle cx="302.43" cy="72.33" r="0.62" fill="#b5122f" fill-opacity="0.85"/>
<circle cx="302.49" cy="72.15" r="0.62" fill="#b5122f" fill-opacity="0.85"/>
<circle cx="299.89" cy="75.21" r="0.62" fill="#b5122f" fill-opacity="0.85"/>
<circle cx="302.41" cy="75.80" r="0.62" fill="#b5122f" fill-opacity="0.85"/>
<circle cx="302.47" cy="71.90" r="0.62" fill="#b5122f" fill-opacity="0.85"/>
<circle cx="302.09" cy="74.76" r="0.62" fill="#b5122f" fill-opacity="0.85"/>
<circle cx="301.45" cy="76.39" r="0.62" fill="#b5122f" fill-opacity="0.85"/>
<circle cx="300.67" cy="76.64" r="0.62" fill="#b5122f" fill-opacity="0.85"/>
<circle cx="302.43" cy="71.80" r="0.62" fill="#b5122f" fill-opacity="0.85"/>
<circle cx="299.76" cy="74.38" r="0.62" fill="#b5122f" fill-opacity="0.85"/>
<circle cx="302.81" cy="71.89" r="0.62" fill="#b5122f" fill-opacity="0.85"/>
<circle cx="300.88" cy="74.90" r="0.62" fill="#b5122f" fill-opacity="0.85"/>
<circle cx="300.33" cy="75.84" r="0.62" fill="#b5122f" fill-opacity="0.85"/>
<circle cx="301.55" cy="71.86" r="0.62" fill="#b5122f" fill-opacity="0.85"/>
<circle cx="301.10" cy="73.92" r="0.62" fill="#b5122f" fill-opacity="0.85"/>
<circle cx="301.37" cy="74.55" r="0.62" fill="#b5122f" fill-opacity="0.85"/>
<circle cx="300.25" cy="75.37" r="0.62" fill="#b5122f" fill-opacity="0.85"/>
<circle cx="301.08" cy="74.34" r="0.62" fill="#b5122f" fill-opacity="0.85"/>
<circle cx="302.09" cy="73.07" r="0.62" fill="#b5122f" fill-opacity="0.85"/>
<circle cx="301.17" cy="75.29" r="0.62" fill="#b5122f" fill-opacity="0.85"/>
<circle cx="303.29" cy="75.28" r="0.62" fill="#b5122f" fill-opacity="0.85"/>
<circle cx="301.85" cy="72.52" r="0.62" fill="#b5122f" fill-opacity="0.85"/>
<circle cx="299.93" cy="76.72" r="0.62" fill="#b5122f" fill-opacity="0.85"/>
<circle cx="302.37" cy="75.59" r="0.62" fill="#b5122f" fill-opacity="0.85"/>
<circle cx="300.96" cy="74.10" r="0.62" fill="#b5122f" fill-opacity="0.85"/>
<circle cx="303.41" cy="75.62" r="0.62" fill="#b5122f" fill-opacity="0.85"/>
<circle cx="301.98" cy="72.58" r="0.62" fill="#b5122f" fill-opacity="0.85"/>
<circle cx="301.33" cy="76.04" r="0.62" fill="#b5122f" fill-opacity="0.85"/>
<rect x="306.60" y="73.40" width="5.20" height="13.30" fill="#aab2c1" />
<circle cx="308.73" cy="74.31" r="0.62" fill="#46516f" fill-opacity="0.85"/>
<circle cx="309.59" cy="75.98" r="0.62" fill="#46516f" fill-opacity="0.85"/>
<circle cx="310.37" cy="71.96" r="0.62" fill="#46516f" fill-opacity="0.85"/>
<circle cx="307.31" cy="71.87" r="0.62" fill="#46516f" fill-opacity="0.85"/>
<circle cx="308.91" cy="73.63" r="0.62" fill="#46516f" fill-opacity="0.85"/>
<circle cx="310.40" cy="75.91" r="0.62" fill="#46516f" fill-opacity="0.85"/>
<circle cx="307.46" cy="75.46" r="0.62" fill="#46516f" fill-opacity="0.85"/>
<circle cx="310.38" cy="75.74" r="0.62" fill="#46516f" fill-opacity="0.85"/>
<circle cx="309.47" cy="71.92" r="0.62" fill="#46516f" fill-opacity="0.85"/>
<circle cx="310.53" cy="75.24" r="0.62" fill="#46516f" fill-opacity="0.85"/>
<circle cx="309.90" cy="76.13" r="0.62" fill="#46516f" fill-opacity="0.85"/>
<circle cx="308.62" cy="71.31" r="0.62" fill="#46516f" fill-opacity="0.85"/>
<circle cx="309.40" cy="75.17" r="0.62" fill="#46516f" fill-opacity="0.85"/>
<circle cx="308.06" cy="74.80" r="0.62" fill="#46516f" fill-opacity="0.85"/>
<circle cx="310.84" cy="71.76" r="0.62" fill="#46516f" fill-opacity="0.85"/>
<circle cx="309.61" cy="74.26" r="0.62" fill="#46516f" fill-opacity="0.85"/>
<circle cx="309.07" cy="71.66" r="0.62" fill="#46516f" fill-opacity="0.85"/>
<circle cx="308.27" cy="74.81" r="0.62" fill="#46516f" fill-opacity="0.85"/>
<circle cx="310.31" cy="72.84" r="0.62" fill="#46516f" fill-opacity="0.85"/>
<circle cx="307.63" cy="75.24" r="0.62" fill="#46516f" fill-opacity="0.85"/>
<circle cx="310.23" cy="71.75" r="0.62" fill="#46516f" fill-opacity="0.85"/>
<circle cx="309.50" cy="75.99" r="0.62" fill="#46516f" fill-opacity="0.85"/>
<circle cx="310.66" cy="73.21" r="0.62" fill="#46516f" fill-opacity="0.85"/>
<circle cx="309.11" cy="73.65" r="0.62" fill="#46516f" fill-opacity="0.85"/>
<circle cx="308.02" cy="71.61" r="0.62" fill="#46516f" fill-opacity="0.85"/>
<circle cx="307.99" cy="74.43" r="0.62" fill="#46516f" fill-opacity="0.85"/>
<circle cx="308.68" cy="73.48" r="0.62" fill="#46516f" fill-opacity="0.85"/>
<circle cx="308.83" cy="73.18" r="0.62" fill="#46516f" fill-opacity="0.85"/>
<circle cx="307.87" cy="71.24" r="0.62" fill="#46516f" fill-opacity="0.85"/>
<circle cx="311.09" cy="72.38" r="0.62" fill="#46516f" fill-opacity="0.85"/>
<circle cx="307.70" cy="73.94" r="0.62" fill="#46516f" fill-opacity="0.85"/>
<circle cx="310.29" cy="71.49" r="0.62" fill="#46516f" fill-opacity="0.85"/>
<circle cx="309.57" cy="72.24" r="0.62" fill="#46516f" fill-opacity="0.85"/>
<circle cx="309.27" cy="71.21" r="0.62" fill="#46516f" fill-opacity="0.85"/>
<circle cx="307.43" cy="76.81" r="0.62" fill="#46516f" fill-opacity="0.85"/>
<circle cx="310.59" cy="73.00" r="0.62" fill="#46516f" fill-opacity="0.85"/>
<circle cx="309.46" cy="71.87" r="0.62" fill="#46516f" fill-opacity="0.85"/>
<circle cx="310.26" cy="72.65" r="0.62" fill="#46516f" fill-opacity="0.85"/>
<circle cx="310.90" cy="74.93" r="0.62" fill="#46516f" fill-opacity="0.85"/>
<circle cx="310.41" cy="76.57" r="0.62" fill="#46516f" fill-opacity="0.85"/>
<circle cx="308.27" cy="71.23" r="0.62" fill="#46516f" fill-opacity="0.85"/>
<circle cx="308.06" cy="71.57" r="0.62" fill="#46516f" fill-opacity="0.85"/>
<circle cx="307.62" cy="71.25" r="0.62" fill="#46516f" fill-opacity="0.85"/>
<circle cx="309.42" cy="75.77" r="0.62" fill="#46516f" fill-opacity="0.85"/>
<rect x="314.10" y="74.00" width="5.20" height="12.70" fill="#e4a291" />
<circle cx="316.54" cy="77.20" r="0.62" fill="#b5122f" fill-opacity="0.85"/>
<circle cx="318.26" cy="72.56" r="0.62" fill="#b5122f" fill-opacity="0.85"/>
<circle cx="317.07" cy="73.67" r="0.62" fill="#b5122f" fill-opacity="0.85"/>
<circle cx="315.26" cy="77.30" r="0.62" fill="#b5122f" fill-opacity="0.85"/>
<circle cx="315.78" cy="74.55" r="0.62" fill="#b5122f" fill-opacity="0.85"/>
<circle cx="317.23" cy="77.28" r="0.62" fill="#b5122f" fill-opacity="0.85"/>
<circle cx="317.34" cy="73.65" r="0.62" fill="#b5122f" fill-opacity="0.85"/>
<circle cx="316.50" cy="72.77" r="0.62" fill="#b5122f" fill-opacity="0.85"/>
<circle cx="318.47" cy="77.56" r="0.62" fill="#b5122f" fill-opacity="0.85"/>
<circle cx="315.64" cy="72.53" r="0.62" fill="#b5122f" fill-opacity="0.85"/>
<circle cx="315.77" cy="73.47" r="0.62" fill="#b5122f" fill-opacity="0.85"/>
<circle cx="318.23" cy="76.87" r="0.62" fill="#b5122f" fill-opacity="0.85"/>
<circle cx="317.98" cy="72.54" r="0.62" fill="#b5122f" fill-opacity="0.85"/>
<circle cx="317.79" cy="75.46" r="0.62" fill="#b5122f" fill-opacity="0.85"/>
<circle cx="317.26" cy="77.51" r="0.62" fill="#b5122f" fill-opacity="0.85"/>
<circle cx="315.01" cy="72.73" r="0.62" fill="#b5122f" fill-opacity="0.85"/>
<circle cx="317.67" cy="77.14" r="0.62" fill="#b5122f" fill-opacity="0.85"/>
<circle cx="317.37" cy="73.24" r="0.62" fill="#b5122f" fill-opacity="0.85"/>
<circle cx="317.05" cy="75.79" r="0.62" fill="#b5122f" fill-opacity="0.85"/>
<circle cx="315.20" cy="73.34" r="0.62" fill="#b5122f" fill-opacity="0.85"/>
<circle cx="315.78" cy="72.68" r="0.62" fill="#b5122f" fill-opacity="0.85"/>
<circle cx="316.63" cy="72.80" r="0.62" fill="#b5122f" fill-opacity="0.85"/>
<circle cx="315.71" cy="72.73" r="0.62" fill="#b5122f" fill-opacity="0.85"/>
<circle cx="317.38" cy="72.50" r="0.62" fill="#b5122f" fill-opacity="0.85"/>
<circle cx="317.53" cy="72.88" r="0.62" fill="#b5122f" fill-opacity="0.85"/>
<circle cx="314.94" cy="77.05" r="0.62" fill="#b5122f" fill-opacity="0.85"/>
<circle cx="315.64" cy="77.10" r="0.62" fill="#b5122f" fill-opacity="0.85"/>
<circle cx="318.09" cy="76.75" r="0.62" fill="#b5122f" fill-opacity="0.85"/>
<circle cx="315.33" cy="73.92" r="0.62" fill="#b5122f" fill-opacity="0.85"/>
<circle cx="315.17" cy="77.06" r="0.62" fill="#b5122f" fill-opacity="0.85"/>
<circle cx="318.00" cy="74.94" r="0.62" fill="#b5122f" fill-opacity="0.85"/>
<circle cx="316.52" cy="73.41" r="0.62" fill="#b5122f" fill-opacity="0.85"/>
<circle cx="317.93" cy="74.07" r="0.62" fill="#b5122f" fill-opacity="0.85"/>
<circle cx="317.19" cy="72.73" r="0.62" fill="#b5122f" fill-opacity="0.85"/>
<circle cx="315.64" cy="72.55" r="0.62" fill="#b5122f" fill-opacity="0.85"/>
<circle cx="317.51" cy="74.49" r="0.62" fill="#b5122f" fill-opacity="0.85"/>
<circle cx="315.35" cy="76.61" r="0.62" fill="#b5122f" fill-opacity="0.85"/>
<circle cx="315.81" cy="73.74" r="0.62" fill="#b5122f" fill-opacity="0.85"/>
<circle cx="315.39" cy="73.14" r="0.62" fill="#b5122f" fill-opacity="0.85"/>
<circle cx="317.99" cy="73.39" r="0.62" fill="#b5122f" fill-opacity="0.85"/>
<circle cx="315.44" cy="74.14" r="0.62" fill="#b5122f" fill-opacity="0.85"/>
<line x1="291.10" y1="89.50" x2="304.10" y2="89.50" stroke="#333" stroke-width="0.75" />
<line x1="306.10" y1="89.50" x2="319.60" y2="89.50" stroke="#333" stroke-width="0.75" />
<text x="286.60" y="96.90" font-size="4.8" text-anchor="middle" fill="#222" font-weight="normal" stroke="#222" stroke-width="0.07">D0</text>
<text x="297.90" y="96.90" font-size="4.8" text-anchor="middle" fill="#222" font-weight="normal" stroke="#222" stroke-width="0.07">D3</text>
<text x="312.60" y="96.90" font-size="4.8" text-anchor="middle" fill="#222" font-weight="normal" stroke="#222" stroke-width="0.07">D7</text>
<line x1="293.70" y1="70.30" x2="301.70" y2="70.30" stroke="#444" stroke-width="0.8" />
<text x="297.70" y="68.00" font-size="3.2" text-anchor="middle" fill="#666" font-weight="normal" >p&lt;0.0001</text>
<line x1="308.50" y1="66.60" x2="315.90" y2="66.60" stroke="#444" stroke-width="0.8" />
<text x="312.20" y="64.00" font-size="3.2" text-anchor="middle" fill="#666" font-weight="normal" >p&lt;0.0001</text>
<text x="366.4" y="46.1" font-size="5.8" fill="#333" text-anchor="middle"><tspan>NF&#954;B</tspan><tspan font-size="4.3" dy="-3.0">pS529</tspan></text>
<text transform="translate(330.50,72) rotate(-90)" font-size="5.2" text-anchor="middle" fill="#222" stroke="#222" stroke-width="0.07">Median intensity a.u.</text>
<line x1="346.60" y1="57.20" x2="346.60" y2="87.20" stroke="#222" stroke-width="1.0" />
<line x1="343.80" y1="86.70" x2="386.10" y2="86.70" stroke="#222" stroke-width="1.2" />
<line x1="343.60" y1="59.90" x2="346.60" y2="59.90" stroke="#333" stroke-width="0.6" />
<text x="340.80" y="61.50" font-size="4.6" text-anchor="end" fill="#444" font-weight="normal" stroke="#444" stroke-width="0.08">25</text>
<line x1="343.60" y1="65.26" x2="346.60" y2="65.26" stroke="#333" stroke-width="0.6" />
<text x="340.80" y="66.86" font-size="4.6" text-anchor="end" fill="#444" font-weight="normal" stroke="#444" stroke-width="0.08">20</text>
<line x1="343.60" y1="70.62" x2="346.60" y2="70.62" stroke="#333" stroke-width="0.6" />
<text x="340.80" y="72.22" font-size="4.6" text-anchor="end" fill="#444" font-weight="normal" stroke="#444" stroke-width="0.08">15</text>
<line x1="343.60" y1="75.98" x2="346.60" y2="75.98" stroke="#333" stroke-width="0.6" />
<text x="340.80" y="77.58" font-size="4.6" text-anchor="end" fill="#444" font-weight="normal" stroke="#444" stroke-width="0.08">10</text>
<line x1="343.60" y1="81.34" x2="346.60" y2="81.34" stroke="#333" stroke-width="0.6" />
<text x="340.80" y="82.94" font-size="4.6" text-anchor="end" fill="#444" font-weight="normal" stroke="#444" stroke-width="0.08">5</text>
<line x1="343.60" y1="86.70" x2="346.60" y2="86.70" stroke="#333" stroke-width="0.6" />
<text x="340.80" y="88.30" font-size="4.6" text-anchor="end" fill="#444" font-weight="normal" stroke="#444" stroke-width="0.08">0</text>
<rect x="350.00" y="85.50" width="3.20" height="1.20" fill="#d3d5df" />
<rect x="356.60" y="81.40" width="5.20" height="5.30" fill="#aab2c1" />
<circle cx="358.51" cy="84.30" r="0.62" fill="#46516f" fill-opacity="0.85"/>
<circle cx="357.73" cy="85.28" r="0.62" fill="#46516f" fill-opacity="0.85"/>
<circle cx="357.52" cy="84.20" r="0.62" fill="#46516f" fill-opacity="0.85"/>
<circle cx="359.84" cy="77.89" r="0.62" fill="#46516f" fill-opacity="0.85"/>
<circle cx="359.11" cy="78.33" r="0.62" fill="#46516f" fill-opacity="0.85"/>
<circle cx="358.28" cy="77.84" r="0.62" fill="#46516f" fill-opacity="0.85"/>
<circle cx="358.68" cy="85.44" r="0.62" fill="#46516f" fill-opacity="0.85"/>
<circle cx="361.09" cy="84.58" r="0.62" fill="#46516f" fill-opacity="0.85"/>
<circle cx="357.67" cy="78.35" r="0.62" fill="#46516f" fill-opacity="0.85"/>
<circle cx="360.71" cy="77.29" r="0.62" fill="#46516f" fill-opacity="0.85"/>
<circle cx="360.06" cy="78.38" r="0.62" fill="#46516f" fill-opacity="0.85"/>
<circle cx="361.02" cy="77.21" r="0.62" fill="#46516f" fill-opacity="0.85"/>
<circle cx="360.37" cy="78.69" r="0.62" fill="#46516f" fill-opacity="0.85"/>
<circle cx="357.83" cy="77.20" r="0.62" fill="#46516f" fill-opacity="0.85"/>
<circle cx="360.46" cy="80.20" r="0.62" fill="#46516f" fill-opacity="0.85"/>
<circle cx="358.01" cy="79.41" r="0.62" fill="#46516f" fill-opacity="0.85"/>
<circle cx="360.77" cy="77.93" r="0.62" fill="#46516f" fill-opacity="0.85"/>
<circle cx="359.47" cy="77.55" r="0.62" fill="#46516f" fill-opacity="0.85"/>
<circle cx="357.98" cy="82.71" r="0.62" fill="#46516f" fill-opacity="0.85"/>
<circle cx="360.00" cy="77.82" r="0.62" fill="#46516f" fill-opacity="0.85"/>
<circle cx="357.60" cy="77.37" r="0.62" fill="#46516f" fill-opacity="0.85"/>
<circle cx="359.61" cy="79.92" r="0.62" fill="#46516f" fill-opacity="0.85"/>
<circle cx="358.34" cy="77.87" r="0.62" fill="#46516f" fill-opacity="0.85"/>
<circle cx="359.63" cy="82.01" r="0.62" fill="#46516f" fill-opacity="0.85"/>
<circle cx="360.38" cy="80.73" r="0.62" fill="#46516f" fill-opacity="0.85"/>
<circle cx="358.07" cy="77.31" r="0.62" fill="#46516f" fill-opacity="0.85"/>
<circle cx="360.08" cy="79.19" r="0.62" fill="#46516f" fill-opacity="0.85"/>
<circle cx="360.04" cy="77.28" r="0.62" fill="#46516f" fill-opacity="0.85"/>
<circle cx="360.38" cy="78.65" r="0.62" fill="#46516f" fill-opacity="0.85"/>
<circle cx="360.50" cy="83.82" r="0.62" fill="#46516f" fill-opacity="0.85"/>
<circle cx="359.17" cy="77.21" r="0.62" fill="#46516f" fill-opacity="0.85"/>
<circle cx="360.76" cy="79.75" r="0.62" fill="#46516f" fill-opacity="0.85"/>
<circle cx="360.61" cy="78.21" r="0.62" fill="#46516f" fill-opacity="0.85"/>
<circle cx="358.01" cy="83.42" r="0.62" fill="#46516f" fill-opacity="0.85"/>
<circle cx="358.69" cy="77.66" r="0.62" fill="#46516f" fill-opacity="0.85"/>
<circle cx="358.71" cy="80.84" r="0.62" fill="#46516f" fill-opacity="0.85"/>
<circle cx="357.32" cy="80.13" r="0.62" fill="#46516f" fill-opacity="0.85"/>
<circle cx="358.99" cy="80.10" r="0.62" fill="#46516f" fill-opacity="0.85"/>
<circle cx="357.76" cy="82.08" r="0.62" fill="#46516f" fill-opacity="0.85"/>
<circle cx="360.40" cy="83.83" r="0.62" fill="#46516f" fill-opacity="0.85"/>
<circle cx="358.52" cy="82.05" r="0.62" fill="#46516f" fill-opacity="0.85"/>
<circle cx="358.75" cy="82.49" r="0.62" fill="#46516f" fill-opacity="0.85"/>
<circle cx="357.53" cy="83.92" r="0.62" fill="#46516f" fill-opacity="0.85"/>
<circle cx="360.93" cy="79.91" r="0.62" fill="#46516f" fill-opacity="0.85"/>
<circle cx="359.25" cy="80.23" r="0.62" fill="#46516f" fill-opacity="0.85"/>
<circle cx="359.34" cy="77.22" r="0.62" fill="#46516f" fill-opacity="0.85"/>
<circle cx="360.98" cy="77.96" r="0.62" fill="#46516f" fill-opacity="0.85"/>
<circle cx="357.99" cy="77.42" r="0.62" fill="#46516f" fill-opacity="0.85"/>
<circle cx="358.25" cy="83.25" r="0.62" fill="#46516f" fill-opacity="0.85"/>
<circle cx="357.41" cy="77.40" r="0.62" fill="#46516f" fill-opacity="0.85"/>
<circle cx="359.96" cy="77.81" r="0.62" fill="#46516f" fill-opacity="0.85"/>
<circle cx="357.37" cy="80.89" r="0.62" fill="#46516f" fill-opacity="0.85"/>
<circle cx="359.49" cy="80.16" r="0.62" fill="#46516f" fill-opacity="0.85"/>
<circle cx="359.97" cy="77.42" r="0.62" fill="#46516f" fill-opacity="0.85"/>
<circle cx="360.60" cy="82.11" r="0.62" fill="#46516f" fill-opacity="0.85"/>
<circle cx="357.47" cy="77.49" r="0.62" fill="#46516f" fill-opacity="0.85"/>
<circle cx="359.18" cy="79.96" r="0.62" fill="#46516f" fill-opacity="0.85"/>
<rect x="364.00" y="80.80" width="5.20" height="5.90" fill="#e4a291" />
<circle cx="365.76" cy="78.68" r="0.62" fill="#b5122f" fill-opacity="0.85"/>
<circle cx="366.24" cy="78.72" r="0.62" fill="#b5122f" fill-opacity="0.85"/>
<circle cx="366.95" cy="82.61" r="0.62" fill="#b5122f" fill-opacity="0.85"/>
<circle cx="365.26" cy="80.64" r="0.62" fill="#b5122f" fill-opacity="0.85"/>
<circle cx="367.54" cy="78.79" r="0.62" fill="#b5122f" fill-opacity="0.85"/>
<circle cx="367.84" cy="83.21" r="0.62" fill="#b5122f" fill-opacity="0.85"/>
<circle cx="366.18" cy="79.81" r="0.62" fill="#b5122f" fill-opacity="0.85"/>
<circle cx="367.89" cy="80.37" r="0.62" fill="#b5122f" fill-opacity="0.85"/>
<circle cx="366.20" cy="83.24" r="0.62" fill="#b5122f" fill-opacity="0.85"/>
<circle cx="367.65" cy="79.42" r="0.62" fill="#b5122f" fill-opacity="0.85"/>
<circle cx="365.61" cy="79.41" r="0.62" fill="#b5122f" fill-opacity="0.85"/>
<circle cx="366.36" cy="83.57" r="0.62" fill="#b5122f" fill-opacity="0.85"/>
<circle cx="367.76" cy="83.02" r="0.62" fill="#b5122f" fill-opacity="0.85"/>
<circle cx="367.80" cy="82.51" r="0.62" fill="#b5122f" fill-opacity="0.85"/>
<circle cx="364.90" cy="80.32" r="0.62" fill="#b5122f" fill-opacity="0.85"/>
<circle cx="368.34" cy="83.19" r="0.62" fill="#b5122f" fill-opacity="0.85"/>
<circle cx="365.65" cy="79.81" r="0.62" fill="#b5122f" fill-opacity="0.85"/>
<circle cx="367.10" cy="79.54" r="0.62" fill="#b5122f" fill-opacity="0.85"/>
<circle cx="366.72" cy="78.57" r="0.62" fill="#b5122f" fill-opacity="0.85"/>
<circle cx="366.35" cy="80.25" r="0.62" fill="#b5122f" fill-opacity="0.85"/>
<circle cx="364.78" cy="78.72" r="0.62" fill="#b5122f" fill-opacity="0.85"/>
<circle cx="368.38" cy="81.99" r="0.62" fill="#b5122f" fill-opacity="0.85"/>
<circle cx="368.26" cy="81.02" r="0.62" fill="#b5122f" fill-opacity="0.85"/>
<circle cx="367.78" cy="82.79" r="0.62" fill="#b5122f" fill-opacity="0.85"/>
<circle cx="368.06" cy="78.52" r="0.62" fill="#b5122f" fill-opacity="0.85"/>
<circle cx="367.14" cy="79.13" r="0.62" fill="#b5122f" fill-opacity="0.85"/>
<circle cx="367.28" cy="79.16" r="0.62" fill="#b5122f" fill-opacity="0.85"/>
<circle cx="366.76" cy="83.11" r="0.62" fill="#b5122f" fill-opacity="0.85"/>
<circle cx="367.06" cy="79.07" r="0.62" fill="#b5122f" fill-opacity="0.85"/>
<circle cx="366.68" cy="79.87" r="0.62" fill="#b5122f" fill-opacity="0.85"/>
<circle cx="368.31" cy="79.21" r="0.62" fill="#b5122f" fill-opacity="0.85"/>
<circle cx="365.86" cy="81.11" r="0.62" fill="#b5122f" fill-opacity="0.85"/>
<circle cx="365.16" cy="80.77" r="0.62" fill="#b5122f" fill-opacity="0.85"/>
<circle cx="368.33" cy="80.30" r="0.62" fill="#b5122f" fill-opacity="0.85"/>
<circle cx="365.72" cy="80.04" r="0.62" fill="#b5122f" fill-opacity="0.85"/>
<circle cx="366.73" cy="78.75" r="0.62" fill="#b5122f" fill-opacity="0.85"/>
<circle cx="365.17" cy="78.70" r="0.62" fill="#b5122f" fill-opacity="0.85"/>
<circle cx="365.82" cy="79.74" r="0.62" fill="#b5122f" fill-opacity="0.85"/>
<circle cx="365.80" cy="79.04" r="0.62" fill="#b5122f" fill-opacity="0.85"/>
<circle cx="365.03" cy="80.49" r="0.62" fill="#b5122f" fill-opacity="0.85"/>
<circle cx="367.89" cy="80.87" r="0.62" fill="#b5122f" fill-opacity="0.85"/>
<rect x="371.60" y="66.20" width="5.20" height="20.50" fill="#aab2c1" />
<circle cx="374.47" cy="70.82" r="0.62" fill="#46516f" fill-opacity="0.85"/>
<circle cx="373.06" cy="71.88" r="0.62" fill="#46516f" fill-opacity="0.85"/>
<circle cx="374.05" cy="69.13" r="0.62" fill="#46516f" fill-opacity="0.85"/>
<circle cx="374.63" cy="67.96" r="0.62" fill="#46516f" fill-opacity="0.85"/>
<circle cx="373.48" cy="65.25" r="0.62" fill="#46516f" fill-opacity="0.85"/>
<circle cx="373.14" cy="68.59" r="0.62" fill="#46516f" fill-opacity="0.85"/>
<circle cx="373.76" cy="69.73" r="0.62" fill="#46516f" fill-opacity="0.85"/>
<circle cx="372.35" cy="66.44" r="0.62" fill="#46516f" fill-opacity="0.85"/>
<circle cx="375.58" cy="65.21" r="0.62" fill="#46516f" fill-opacity="0.85"/>
<circle cx="374.42" cy="68.28" r="0.62" fill="#46516f" fill-opacity="0.85"/>
<circle cx="373.38" cy="77.49" r="0.62" fill="#46516f" fill-opacity="0.85"/>
<circle cx="373.42" cy="73.03" r="0.62" fill="#46516f" fill-opacity="0.85"/>
<circle cx="372.90" cy="63.98" r="0.62" fill="#46516f" fill-opacity="0.85"/>
<circle cx="375.61" cy="67.55" r="0.62" fill="#46516f" fill-opacity="0.85"/>
<circle cx="372.54" cy="66.87" r="0.62" fill="#46516f" fill-opacity="0.85"/>
<circle cx="373.97" cy="72.34" r="0.62" fill="#46516f" fill-opacity="0.85"/>
<circle cx="372.72" cy="65.09" r="0.62" fill="#46516f" fill-opacity="0.85"/>
<circle cx="375.95" cy="72.40" r="0.62" fill="#46516f" fill-opacity="0.85"/>
<circle cx="372.89" cy="66.25" r="0.62" fill="#46516f" fill-opacity="0.85"/>
<circle cx="373.64" cy="71.25" r="0.62" fill="#46516f" fill-opacity="0.85"/>
<circle cx="374.64" cy="74.57" r="0.62" fill="#46516f" fill-opacity="0.85"/>
<circle cx="375.42" cy="68.67" r="0.62" fill="#46516f" fill-opacity="0.85"/>
<circle cx="375.11" cy="72.49" r="0.62" fill="#46516f" fill-opacity="0.85"/>
<circle cx="375.19" cy="68.05" r="0.62" fill="#46516f" fill-opacity="0.85"/>
<circle cx="375.28" cy="71.85" r="0.62" fill="#46516f" fill-opacity="0.85"/>
<circle cx="375.78" cy="64.32" r="0.62" fill="#46516f" fill-opacity="0.85"/>
<circle cx="375.61" cy="63.80" r="0.62" fill="#46516f" fill-opacity="0.85"/>
<circle cx="375.21" cy="69.74" r="0.62" fill="#46516f" fill-opacity="0.85"/>
<circle cx="374.19" cy="76.94" r="0.62" fill="#46516f" fill-opacity="0.85"/>
<circle cx="374.47" cy="67.26" r="0.62" fill="#46516f" fill-opacity="0.85"/>
<circle cx="375.28" cy="75.03" r="0.62" fill="#46516f" fill-opacity="0.85"/>
<circle cx="374.61" cy="66.76" r="0.62" fill="#46516f" fill-opacity="0.85"/>
<circle cx="374.02" cy="67.80" r="0.62" fill="#46516f" fill-opacity="0.85"/>
<circle cx="375.05" cy="65.76" r="0.62" fill="#46516f" fill-opacity="0.85"/>
<circle cx="373.78" cy="69.25" r="0.62" fill="#46516f" fill-opacity="0.85"/>
<circle cx="373.76" cy="66.08" r="0.62" fill="#46516f" fill-opacity="0.85"/>
<circle cx="375.29" cy="74.56" r="0.62" fill="#46516f" fill-opacity="0.85"/>
<circle cx="374.20" cy="67.61" r="0.62" fill="#46516f" fill-opacity="0.85"/>
<circle cx="373.00" cy="65.88" r="0.62" fill="#46516f" fill-opacity="0.85"/>
<circle cx="372.85" cy="69.57" r="0.62" fill="#46516f" fill-opacity="0.85"/>
<circle cx="374.51" cy="64.09" r="0.62" fill="#46516f" fill-opacity="0.85"/>
<circle cx="375.80" cy="66.10" r="0.62" fill="#46516f" fill-opacity="0.85"/>
<circle cx="375.50" cy="74.33" r="0.62" fill="#46516f" fill-opacity="0.85"/>
<circle cx="375.94" cy="64.90" r="0.62" fill="#46516f" fill-opacity="0.85"/>
<circle cx="373.92" cy="75.82" r="0.62" fill="#46516f" fill-opacity="0.85"/>
<circle cx="372.34" cy="63.91" r="0.62" fill="#46516f" fill-opacity="0.85"/>
<circle cx="374.45" cy="68.37" r="0.62" fill="#46516f" fill-opacity="0.85"/>
<circle cx="375.80" cy="73.06" r="0.62" fill="#46516f" fill-opacity="0.85"/>
<circle cx="374.35" cy="77.73" r="0.62" fill="#46516f" fill-opacity="0.85"/>
<circle cx="374.27" cy="68.66" r="0.62" fill="#46516f" fill-opacity="0.85"/>
<circle cx="374.90" cy="66.89" r="0.62" fill="#46516f" fill-opacity="0.85"/>
<circle cx="373.66" cy="69.88" r="0.62" fill="#46516f" fill-opacity="0.85"/>
<circle cx="373.63" cy="76.62" r="0.62" fill="#46516f" fill-opacity="0.85"/>
<circle cx="374.87" cy="68.78" r="0.62" fill="#46516f" fill-opacity="0.85"/>
<circle cx="372.68" cy="66.70" r="0.62" fill="#46516f" fill-opacity="0.85"/>
<circle cx="373.82" cy="69.34" r="0.62" fill="#46516f" fill-opacity="0.85"/>
<circle cx="374.48" cy="75.18" r="0.62" fill="#46516f" fill-opacity="0.85"/>
<circle cx="375.96" cy="68.21" r="0.62" fill="#46516f" fill-opacity="0.85"/>
<circle cx="373.97" cy="70.38" r="0.62" fill="#46516f" fill-opacity="0.85"/>
<circle cx="376.09" cy="66.32" r="0.62" fill="#46516f" fill-opacity="0.85"/>
<circle cx="374.31" cy="73.88" r="0.62" fill="#46516f" fill-opacity="0.85"/>
<circle cx="372.95" cy="66.03" r="0.62" fill="#46516f" fill-opacity="0.85"/>
<circle cx="376.02" cy="74.09" r="0.62" fill="#46516f" fill-opacity="0.85"/>
<circle cx="374.25" cy="64.21" r="0.62" fill="#46516f" fill-opacity="0.85"/>
<circle cx="375.70" cy="71.51" r="0.62" fill="#46516f" fill-opacity="0.85"/>
<circle cx="375.42" cy="77.55" r="0.62" fill="#46516f" fill-opacity="0.85"/>
<circle cx="375.67" cy="67.30" r="0.62" fill="#46516f" fill-opacity="0.85"/>
<circle cx="372.89" cy="65.73" r="0.62" fill="#46516f" fill-opacity="0.85"/>
<circle cx="374.24" cy="68.48" r="0.62" fill="#46516f" fill-opacity="0.85"/>
<circle cx="373.01" cy="64.72" r="0.62" fill="#46516f" fill-opacity="0.85"/>
<circle cx="374.69" cy="70.02" r="0.62" fill="#46516f" fill-opacity="0.85"/>
<circle cx="373.64" cy="77.63" r="0.62" fill="#46516f" fill-opacity="0.85"/>
<circle cx="374.72" cy="63.89" r="0.62" fill="#46516f" fill-opacity="0.85"/>
<circle cx="373.86" cy="73.33" r="0.62" fill="#46516f" fill-opacity="0.85"/>
<circle cx="373.47" cy="71.53" r="0.62" fill="#46516f" fill-opacity="0.85"/>
<circle cx="372.31" cy="65.88" r="0.62" fill="#46516f" fill-opacity="0.85"/>
<circle cx="375.50" cy="69.74" r="0.62" fill="#46516f" fill-opacity="0.85"/>
<circle cx="374.84" cy="64.84" r="0.62" fill="#46516f" fill-opacity="0.85"/>
<circle cx="374.19" cy="69.22" r="0.62" fill="#46516f" fill-opacity="0.85"/>
<circle cx="373.31" cy="70.75" r="0.62" fill="#46516f" fill-opacity="0.85"/>
<circle cx="374.32" cy="77.70" r="0.62" fill="#46516f" fill-opacity="0.85"/>
<circle cx="374.48" cy="67.17" r="0.62" fill="#46516f" fill-opacity="0.85"/>
<circle cx="372.76" cy="64.52" r="0.62" fill="#46516f" fill-opacity="0.85"/>
<circle cx="375.19" cy="64.19" r="0.62" fill="#46516f" fill-opacity="0.85"/>
<circle cx="372.68" cy="64.62" r="0.62" fill="#46516f" fill-opacity="0.85"/>
<circle cx="374.29" cy="74.03" r="0.62" fill="#46516f" fill-opacity="0.85"/>
<circle cx="374.63" cy="73.70" r="0.62" fill="#46516f" fill-opacity="0.85"/>
<rect x="379.10" y="70.30" width="5.20" height="16.40" fill="#e4a291" />
<circle cx="380.04" cy="67.11" r="0.62" fill="#b5122f" fill-opacity="0.85"/>
<circle cx="382.73" cy="68.25" r="0.62" fill="#b5122f" fill-opacity="0.85"/>
<circle cx="382.52" cy="68.43" r="0.62" fill="#b5122f" fill-opacity="0.85"/>
<circle cx="380.44" cy="67.95" r="0.62" fill="#b5122f" fill-opacity="0.85"/>
<circle cx="380.18" cy="73.08" r="0.62" fill="#b5122f" fill-opacity="0.85"/>
<circle cx="382.01" cy="68.40" r="0.62" fill="#b5122f" fill-opacity="0.85"/>
<circle cx="381.51" cy="68.63" r="0.62" fill="#b5122f" fill-opacity="0.85"/>
<circle cx="380.01" cy="72.94" r="0.62" fill="#b5122f" fill-opacity="0.85"/>
<circle cx="382.01" cy="73.68" r="0.62" fill="#b5122f" fill-opacity="0.85"/>
<circle cx="381.47" cy="70.37" r="0.62" fill="#b5122f" fill-opacity="0.85"/>
<circle cx="380.75" cy="67.15" r="0.62" fill="#b5122f" fill-opacity="0.85"/>
<circle cx="383.34" cy="72.57" r="0.62" fill="#b5122f" fill-opacity="0.85"/>
<circle cx="381.00" cy="73.03" r="0.62" fill="#b5122f" fill-opacity="0.85"/>
<circle cx="382.90" cy="68.14" r="0.62" fill="#b5122f" fill-opacity="0.85"/>
<circle cx="382.09" cy="73.69" r="0.62" fill="#b5122f" fill-opacity="0.85"/>
<circle cx="381.68" cy="73.57" r="0.62" fill="#b5122f" fill-opacity="0.85"/>
<circle cx="380.72" cy="68.66" r="0.62" fill="#b5122f" fill-opacity="0.85"/>
<circle cx="382.53" cy="67.73" r="0.62" fill="#b5122f" fill-opacity="0.85"/>
<circle cx="380.97" cy="72.78" r="0.62" fill="#b5122f" fill-opacity="0.85"/>
<circle cx="381.64" cy="71.95" r="0.62" fill="#b5122f" fill-opacity="0.85"/>
<circle cx="380.72" cy="67.53" r="0.62" fill="#b5122f" fill-opacity="0.85"/>
<circle cx="381.16" cy="67.58" r="0.62" fill="#b5122f" fill-opacity="0.85"/>
<circle cx="383.49" cy="68.07" r="0.62" fill="#b5122f" fill-opacity="0.85"/>
<circle cx="381.93" cy="67.32" r="0.62" fill="#b5122f" fill-opacity="0.85"/>
<circle cx="381.83" cy="68.63" r="0.62" fill="#b5122f" fill-opacity="0.85"/>
<circle cx="381.33" cy="67.19" r="0.62" fill="#b5122f" fill-opacity="0.85"/>
<circle cx="380.27" cy="72.28" r="0.62" fill="#b5122f" fill-opacity="0.85"/>
<circle cx="381.13" cy="67.84" r="0.62" fill="#b5122f" fill-opacity="0.85"/>
<circle cx="380.53" cy="68.04" r="0.62" fill="#b5122f" fill-opacity="0.85"/>
<circle cx="380.70" cy="67.13" r="0.62" fill="#b5122f" fill-opacity="0.85"/>
<circle cx="382.32" cy="68.36" r="0.62" fill="#b5122f" fill-opacity="0.85"/>
<circle cx="380.39" cy="71.13" r="0.62" fill="#b5122f" fill-opacity="0.85"/>
<circle cx="380.15" cy="67.96" r="0.62" fill="#b5122f" fill-opacity="0.85"/>
<circle cx="382.97" cy="67.36" r="0.62" fill="#b5122f" fill-opacity="0.85"/>
<circle cx="381.48" cy="72.38" r="0.62" fill="#b5122f" fill-opacity="0.85"/>
<circle cx="382.86" cy="67.47" r="0.62" fill="#b5122f" fill-opacity="0.85"/>
<circle cx="381.14" cy="71.28" r="0.62" fill="#b5122f" fill-opacity="0.85"/>
<circle cx="381.23" cy="73.67" r="0.62" fill="#b5122f" fill-opacity="0.85"/>
<circle cx="380.59" cy="73.59" r="0.62" fill="#b5122f" fill-opacity="0.85"/>
<circle cx="381.72" cy="67.76" r="0.62" fill="#b5122f" fill-opacity="0.85"/>
<circle cx="381.52" cy="67.37" r="0.62" fill="#b5122f" fill-opacity="0.85"/>
<circle cx="382.48" cy="67.92" r="0.62" fill="#b5122f" fill-opacity="0.85"/>
<circle cx="383.22" cy="70.10" r="0.62" fill="#b5122f" fill-opacity="0.85"/>
<circle cx="381.20" cy="67.85" r="0.62" fill="#b5122f" fill-opacity="0.85"/>
<circle cx="382.11" cy="67.69" r="0.62" fill="#b5122f" fill-opacity="0.85"/>
<circle cx="383.12" cy="67.35" r="0.62" fill="#b5122f" fill-opacity="0.85"/>
<circle cx="381.75" cy="69.74" r="0.62" fill="#b5122f" fill-opacity="0.85"/>
<circle cx="380.83" cy="71.74" r="0.62" fill="#b5122f" fill-opacity="0.85"/>
<circle cx="381.26" cy="70.69" r="0.62" fill="#b5122f" fill-opacity="0.85"/>
<circle cx="381.96" cy="68.18" r="0.62" fill="#b5122f" fill-opacity="0.85"/>
<circle cx="381.28" cy="67.24" r="0.62" fill="#b5122f" fill-opacity="0.85"/>
<line x1="356.10" y1="89.50" x2="369.10" y2="89.50" stroke="#333" stroke-width="0.75" />
<line x1="371.10" y1="89.50" x2="384.60" y2="89.50" stroke="#333" stroke-width="0.75" />
<text x="351.60" y="96.90" font-size="4.8" text-anchor="middle" fill="#222" font-weight="normal" stroke="#222" stroke-width="0.07">D0</text>
<text x="362.90" y="96.90" font-size="4.8" text-anchor="middle" fill="#222" font-weight="normal" stroke="#222" stroke-width="0.07">D3</text>
<text x="377.60" y="96.90" font-size="4.8" text-anchor="middle" fill="#222" font-weight="normal" stroke="#222" stroke-width="0.07">D7</text>
<line x1="359.00" y1="74.70" x2="366.40" y2="74.70" stroke="#444" stroke-width="0.8" />
<text x="362.70" y="71.80" font-size="3.2" text-anchor="middle" fill="#666" font-weight="normal" >p&lt;0.0001</text>
<line x1="373.80" y1="63.30" x2="381.20" y2="63.30" stroke="#444" stroke-width="0.8" />
<text x="377.50" y="60.40" font-size="3.2" text-anchor="middle" fill="#666" font-weight="normal" >p=0.001</text>
<text x="430.1" y="46.1" font-size="5.8" fill="#333" text-anchor="middle">PU.1</text>
<text transform="translate(394.50,72) rotate(-90)" font-size="5.2" text-anchor="middle" fill="#222" stroke="#222" stroke-width="0.07">Median intensity a.u.</text>
<line x1="410.60" y1="57.20" x2="410.60" y2="87.20" stroke="#222" stroke-width="1.0" />
<line x1="407.80" y1="86.70" x2="450.10" y2="86.70" stroke="#222" stroke-width="1.2" />
<line x1="407.60" y1="59.90" x2="410.60" y2="59.90" stroke="#333" stroke-width="0.6" />
<text x="404.80" y="61.50" font-size="4.6" text-anchor="end" fill="#444" font-weight="normal" stroke="#444" stroke-width="0.08">30</text>
<line x1="407.60" y1="68.83" x2="410.60" y2="68.83" stroke="#333" stroke-width="0.6" />
<text x="404.80" y="70.43" font-size="4.6" text-anchor="end" fill="#444" font-weight="normal" stroke="#444" stroke-width="0.08">20</text>
<line x1="407.60" y1="77.77" x2="410.60" y2="77.77" stroke="#333" stroke-width="0.6" />
<text x="404.80" y="79.37" font-size="4.6" text-anchor="end" fill="#444" font-weight="normal" stroke="#444" stroke-width="0.08">10</text>
<line x1="407.60" y1="86.70" x2="410.60" y2="86.70" stroke="#333" stroke-width="0.6" />
<text x="404.80" y="88.30" font-size="4.6" text-anchor="end" fill="#444" font-weight="normal" stroke="#444" stroke-width="0.08">0</text>
<rect x="414.00" y="86.50" width="3.20" height="0.20" fill="#d3d5df" />
<rect x="420.60" y="81.40" width="5.20" height="5.30" fill="#aab2c1" />
<circle cx="421.97" cy="83.28" r="0.62" fill="#46516f" fill-opacity="0.85"/>
<circle cx="422.52" cy="82.63" r="0.62" fill="#46516f" fill-opacity="0.85"/>
<circle cx="421.71" cy="82.32" r="0.62" fill="#46516f" fill-opacity="0.85"/>
<circle cx="422.67" cy="82.15" r="0.62" fill="#46516f" fill-opacity="0.85"/>
<circle cx="422.43" cy="81.33" r="0.62" fill="#46516f" fill-opacity="0.85"/>
<circle cx="422.48" cy="81.54" r="0.62" fill="#46516f" fill-opacity="0.85"/>
<circle cx="421.78" cy="82.81" r="0.62" fill="#46516f" fill-opacity="0.85"/>
<circle cx="422.37" cy="81.90" r="0.62" fill="#46516f" fill-opacity="0.85"/>
<circle cx="424.75" cy="83.01" r="0.62" fill="#46516f" fill-opacity="0.85"/>
<circle cx="424.65" cy="83.32" r="0.62" fill="#46516f" fill-opacity="0.85"/>
<circle cx="421.80" cy="81.63" r="0.62" fill="#46516f" fill-opacity="0.85"/>
<circle cx="421.41" cy="82.68" r="0.62" fill="#46516f" fill-opacity="0.85"/>
<circle cx="423.82" cy="81.78" r="0.62" fill="#46516f" fill-opacity="0.85"/>
<circle cx="422.87" cy="82.62" r="0.62" fill="#46516f" fill-opacity="0.85"/>
<circle cx="423.96" cy="81.58" r="0.62" fill="#46516f" fill-opacity="0.85"/>
<circle cx="424.52" cy="81.78" r="0.62" fill="#46516f" fill-opacity="0.85"/>
<circle cx="423.69" cy="81.47" r="0.62" fill="#46516f" fill-opacity="0.85"/>
<circle cx="421.74" cy="83.52" r="0.62" fill="#46516f" fill-opacity="0.85"/>
<circle cx="424.09" cy="82.79" r="0.62" fill="#46516f" fill-opacity="0.85"/>
<circle cx="421.45" cy="81.31" r="0.62" fill="#46516f" fill-opacity="0.85"/>
<circle cx="421.92" cy="81.49" r="0.62" fill="#46516f" fill-opacity="0.85"/>
<circle cx="422.45" cy="81.85" r="0.62" fill="#46516f" fill-opacity="0.85"/>
<circle cx="421.45" cy="81.70" r="0.62" fill="#46516f" fill-opacity="0.85"/>
<circle cx="423.73" cy="81.46" r="0.62" fill="#46516f" fill-opacity="0.85"/>
<circle cx="424.49" cy="82.34" r="0.62" fill="#46516f" fill-opacity="0.85"/>
<circle cx="424.02" cy="81.59" r="0.62" fill="#46516f" fill-opacity="0.85"/>
<circle cx="422.95" cy="82.70" r="0.62" fill="#46516f" fill-opacity="0.85"/>
<rect x="428.00" y="84.40" width="5.20" height="2.30" fill="#e4a291" />
<circle cx="430.03" cy="84.20" r="0.62" fill="#b5122f" fill-opacity="0.85"/>
<circle cx="431.87" cy="85.59" r="0.62" fill="#b5122f" fill-opacity="0.85"/>
<circle cx="429.79" cy="84.21" r="0.62" fill="#b5122f" fill-opacity="0.85"/>
<circle cx="431.95" cy="85.14" r="0.62" fill="#b5122f" fill-opacity="0.85"/>
<circle cx="428.88" cy="84.42" r="0.62" fill="#b5122f" fill-opacity="0.85"/>
<circle cx="429.12" cy="85.64" r="0.62" fill="#b5122f" fill-opacity="0.85"/>
<circle cx="429.50" cy="86.01" r="0.62" fill="#b5122f" fill-opacity="0.85"/>
<circle cx="431.55" cy="84.24" r="0.62" fill="#b5122f" fill-opacity="0.85"/>
<circle cx="431.34" cy="84.67" r="0.62" fill="#b5122f" fill-opacity="0.85"/>
<circle cx="431.54" cy="85.75" r="0.62" fill="#b5122f" fill-opacity="0.85"/>
<circle cx="429.77" cy="84.24" r="0.62" fill="#b5122f" fill-opacity="0.85"/>
<circle cx="432.30" cy="84.73" r="0.62" fill="#b5122f" fill-opacity="0.85"/>
<circle cx="432.23" cy="85.36" r="0.62" fill="#b5122f" fill-opacity="0.85"/>
<circle cx="431.51" cy="85.75" r="0.62" fill="#b5122f" fill-opacity="0.85"/>
<circle cx="431.09" cy="84.79" r="0.62" fill="#b5122f" fill-opacity="0.85"/>
<circle cx="428.91" cy="85.38" r="0.62" fill="#b5122f" fill-opacity="0.85"/>
<circle cx="430.33" cy="84.92" r="0.62" fill="#b5122f" fill-opacity="0.85"/>
<circle cx="432.23" cy="84.28" r="0.62" fill="#b5122f" fill-opacity="0.85"/>
<circle cx="431.60" cy="84.21" r="0.62" fill="#b5122f" fill-opacity="0.85"/>
<circle cx="431.37" cy="85.68" r="0.62" fill="#b5122f" fill-opacity="0.85"/>
<circle cx="429.69" cy="84.99" r="0.62" fill="#b5122f" fill-opacity="0.85"/>
<circle cx="432.38" cy="85.22" r="0.62" fill="#b5122f" fill-opacity="0.85"/>
<circle cx="430.77" cy="84.43" r="0.62" fill="#b5122f" fill-opacity="0.85"/>
<circle cx="428.93" cy="84.60" r="0.62" fill="#b5122f" fill-opacity="0.85"/>
<circle cx="430.26" cy="84.36" r="0.62" fill="#b5122f" fill-opacity="0.85"/>
<rect x="435.60" y="64.60" width="5.20" height="22.10" fill="#aab2c1" />
<circle cx="437.48" cy="64.67" r="0.62" fill="#46516f" fill-opacity="0.85"/>
<circle cx="438.99" cy="67.81" r="0.62" fill="#46516f" fill-opacity="0.85"/>
<circle cx="437.20" cy="65.07" r="0.62" fill="#46516f" fill-opacity="0.85"/>
<circle cx="438.26" cy="66.17" r="0.62" fill="#46516f" fill-opacity="0.85"/>
<circle cx="439.86" cy="65.61" r="0.62" fill="#46516f" fill-opacity="0.85"/>
<circle cx="437.44" cy="69.71" r="0.62" fill="#46516f" fill-opacity="0.85"/>
<circle cx="436.84" cy="66.98" r="0.62" fill="#46516f" fill-opacity="0.85"/>
<circle cx="437.57" cy="69.06" r="0.62" fill="#46516f" fill-opacity="0.85"/>
<circle cx="438.38" cy="68.57" r="0.62" fill="#46516f" fill-opacity="0.85"/>
<circle cx="436.94" cy="67.78" r="0.62" fill="#46516f" fill-opacity="0.85"/>
<circle cx="438.57" cy="66.27" r="0.62" fill="#46516f" fill-opacity="0.85"/>
<circle cx="439.21" cy="69.21" r="0.62" fill="#46516f" fill-opacity="0.85"/>
<circle cx="436.74" cy="65.29" r="0.62" fill="#46516f" fill-opacity="0.85"/>
<circle cx="437.67" cy="64.92" r="0.62" fill="#46516f" fill-opacity="0.85"/>
<circle cx="436.53" cy="65.25" r="0.62" fill="#46516f" fill-opacity="0.85"/>
<circle cx="437.05" cy="68.06" r="0.62" fill="#46516f" fill-opacity="0.85"/>
<circle cx="438.00" cy="64.60" r="0.62" fill="#46516f" fill-opacity="0.85"/>
<circle cx="437.53" cy="66.32" r="0.62" fill="#46516f" fill-opacity="0.85"/>
<circle cx="437.68" cy="64.77" r="0.62" fill="#46516f" fill-opacity="0.85"/>
<circle cx="436.57" cy="64.40" r="0.62" fill="#46516f" fill-opacity="0.85"/>
<circle cx="440.07" cy="68.48" r="0.62" fill="#46516f" fill-opacity="0.85"/>
<circle cx="436.62" cy="68.19" r="0.62" fill="#46516f" fill-opacity="0.85"/>
<circle cx="440.02" cy="66.98" r="0.62" fill="#46516f" fill-opacity="0.85"/>
<circle cx="436.71" cy="66.46" r="0.62" fill="#46516f" fill-opacity="0.85"/>
<circle cx="437.95" cy="64.85" r="0.62" fill="#46516f" fill-opacity="0.85"/>
<circle cx="438.36" cy="64.40" r="0.62" fill="#46516f" fill-opacity="0.85"/>
<circle cx="439.79" cy="67.60" r="0.62" fill="#46516f" fill-opacity="0.85"/>
<circle cx="438.69" cy="70.20" r="0.62" fill="#46516f" fill-opacity="0.85"/>
<circle cx="438.78" cy="65.11" r="0.62" fill="#46516f" fill-opacity="0.85"/>
<circle cx="437.23" cy="64.67" r="0.62" fill="#46516f" fill-opacity="0.85"/>
<circle cx="436.41" cy="68.69" r="0.62" fill="#46516f" fill-opacity="0.85"/>
<circle cx="439.49" cy="65.32" r="0.62" fill="#46516f" fill-opacity="0.85"/>
<circle cx="437.01" cy="67.55" r="0.62" fill="#46516f" fill-opacity="0.85"/>
<circle cx="439.51" cy="70.12" r="0.62" fill="#46516f" fill-opacity="0.85"/>
<circle cx="436.94" cy="68.78" r="0.62" fill="#46516f" fill-opacity="0.85"/>
<circle cx="439.46" cy="68.41" r="0.62" fill="#46516f" fill-opacity="0.85"/>
<circle cx="437.54" cy="64.83" r="0.62" fill="#46516f" fill-opacity="0.85"/>
<circle cx="439.44" cy="65.44" r="0.62" fill="#46516f" fill-opacity="0.85"/>
<circle cx="437.70" cy="66.89" r="0.62" fill="#46516f" fill-opacity="0.85"/>
<circle cx="437.70" cy="69.21" r="0.62" fill="#46516f" fill-opacity="0.85"/>
<circle cx="437.21" cy="64.44" r="0.62" fill="#46516f" fill-opacity="0.85"/>
<circle cx="438.45" cy="67.47" r="0.62" fill="#46516f" fill-opacity="0.85"/>
<circle cx="439.41" cy="68.10" r="0.62" fill="#46516f" fill-opacity="0.85"/>
<circle cx="439.74" cy="70.30" r="0.62" fill="#46516f" fill-opacity="0.85"/>
<circle cx="438.18" cy="66.53" r="0.62" fill="#46516f" fill-opacity="0.85"/>
<circle cx="436.90" cy="65.34" r="0.62" fill="#46516f" fill-opacity="0.85"/>
<circle cx="438.51" cy="64.51" r="0.62" fill="#46516f" fill-opacity="0.85"/>
<circle cx="438.91" cy="64.76" r="0.62" fill="#46516f" fill-opacity="0.85"/>
<rect x="443.10" y="68.00" width="5.20" height="18.70" fill="#e4a291" />
<circle cx="445.48" cy="73.79" r="0.62" fill="#b5122f" fill-opacity="0.85"/>
<circle cx="444.14" cy="67.14" r="0.62" fill="#b5122f" fill-opacity="0.85"/>
<circle cx="445.47" cy="67.60" r="0.62" fill="#b5122f" fill-opacity="0.85"/>
<circle cx="446.55" cy="67.10" r="0.62" fill="#b5122f" fill-opacity="0.85"/>
<circle cx="447.00" cy="72.57" r="0.62" fill="#b5122f" fill-opacity="0.85"/>
<circle cx="446.79" cy="68.89" r="0.62" fill="#b5122f" fill-opacity="0.85"/>
<circle cx="444.88" cy="70.73" r="0.62" fill="#b5122f" fill-opacity="0.85"/>
<circle cx="445.76" cy="68.86" r="0.62" fill="#b5122f" fill-opacity="0.85"/>
<circle cx="445.09" cy="68.98" r="0.62" fill="#b5122f" fill-opacity="0.85"/>
<circle cx="446.33" cy="72.28" r="0.62" fill="#b5122f" fill-opacity="0.85"/>
<circle cx="447.24" cy="67.49" r="0.62" fill="#b5122f" fill-opacity="0.85"/>
<circle cx="444.92" cy="69.01" r="0.62" fill="#b5122f" fill-opacity="0.85"/>
<circle cx="445.94" cy="68.40" r="0.62" fill="#b5122f" fill-opacity="0.85"/>
<circle cx="444.54" cy="67.24" r="0.62" fill="#b5122f" fill-opacity="0.85"/>
<circle cx="445.03" cy="69.13" r="0.62" fill="#b5122f" fill-opacity="0.85"/>
<circle cx="447.49" cy="73.13" r="0.62" fill="#b5122f" fill-opacity="0.85"/>
<circle cx="447.09" cy="73.84" r="0.62" fill="#b5122f" fill-opacity="0.85"/>
<circle cx="447.45" cy="70.37" r="0.62" fill="#b5122f" fill-opacity="0.85"/>
<circle cx="446.88" cy="67.18" r="0.62" fill="#b5122f" fill-opacity="0.85"/>
<circle cx="446.37" cy="70.28" r="0.62" fill="#b5122f" fill-opacity="0.85"/>
<circle cx="444.93" cy="69.97" r="0.62" fill="#b5122f" fill-opacity="0.85"/>
<circle cx="447.42" cy="69.28" r="0.62" fill="#b5122f" fill-opacity="0.85"/>
<circle cx="446.26" cy="68.12" r="0.62" fill="#b5122f" fill-opacity="0.85"/>
<circle cx="445.10" cy="72.88" r="0.62" fill="#b5122f" fill-opacity="0.85"/>
<circle cx="443.91" cy="67.59" r="0.62" fill="#b5122f" fill-opacity="0.85"/>
<circle cx="446.38" cy="69.04" r="0.62" fill="#b5122f" fill-opacity="0.85"/>
<circle cx="444.12" cy="70.72" r="0.62" fill="#b5122f" fill-opacity="0.85"/>
<circle cx="445.21" cy="70.05" r="0.62" fill="#b5122f" fill-opacity="0.85"/>
<circle cx="445.38" cy="69.65" r="0.62" fill="#b5122f" fill-opacity="0.85"/>
<circle cx="445.95" cy="68.70" r="0.62" fill="#b5122f" fill-opacity="0.85"/>
<circle cx="444.23" cy="67.55" r="0.62" fill="#b5122f" fill-opacity="0.85"/>
<circle cx="447.18" cy="69.79" r="0.62" fill="#b5122f" fill-opacity="0.85"/>
<circle cx="444.23" cy="72.65" r="0.62" fill="#b5122f" fill-opacity="0.85"/>
<circle cx="444.76" cy="67.26" r="0.62" fill="#b5122f" fill-opacity="0.85"/>
<circle cx="445.82" cy="67.87" r="0.62" fill="#b5122f" fill-opacity="0.85"/>
<circle cx="445.66" cy="69.83" r="0.62" fill="#b5122f" fill-opacity="0.85"/>
<circle cx="444.66" cy="69.98" r="0.62" fill="#b5122f" fill-opacity="0.85"/>
<circle cx="444.23" cy="69.52" r="0.62" fill="#b5122f" fill-opacity="0.85"/>
<circle cx="446.04" cy="67.22" r="0.62" fill="#b5122f" fill-opacity="0.85"/>
<circle cx="445.35" cy="67.21" r="0.62" fill="#b5122f" fill-opacity="0.85"/>
<circle cx="445.47" cy="72.66" r="0.62" fill="#b5122f" fill-opacity="0.85"/>
<circle cx="445.89" cy="71.21" r="0.62" fill="#b5122f" fill-opacity="0.85"/>
<circle cx="446.68" cy="67.32" r="0.62" fill="#b5122f" fill-opacity="0.85"/>
<circle cx="447.56" cy="71.27" r="0.62" fill="#b5122f" fill-opacity="0.85"/>
<circle cx="444.19" cy="72.32" r="0.62" fill="#b5122f" fill-opacity="0.85"/>
<circle cx="445.29" cy="67.52" r="0.62" fill="#b5122f" fill-opacity="0.85"/>
<circle cx="447.45" cy="69.90" r="0.62" fill="#b5122f" fill-opacity="0.85"/>
<circle cx="446.74" cy="67.39" r="0.62" fill="#b5122f" fill-opacity="0.85"/>
<circle cx="446.75" cy="67.17" r="0.62" fill="#b5122f" fill-opacity="0.85"/>
<circle cx="444.70" cy="68.55" r="0.62" fill="#b5122f" fill-opacity="0.85"/>
<circle cx="443.86" cy="70.16" r="0.62" fill="#b5122f" fill-opacity="0.85"/>
<line x1="420.10" y1="89.50" x2="433.10" y2="89.50" stroke="#333" stroke-width="0.75" />
<line x1="435.10" y1="89.50" x2="448.60" y2="89.50" stroke="#333" stroke-width="0.75" />
<text x="415.60" y="96.90" font-size="4.8" text-anchor="middle" fill="#222" font-weight="normal" stroke="#222" stroke-width="0.07">D0</text>
<text x="426.90" y="96.90" font-size="4.8" text-anchor="middle" fill="#222" font-weight="normal" stroke="#222" stroke-width="0.07">D3</text>
<text x="441.60" y="96.90" font-size="4.8" text-anchor="middle" fill="#222" font-weight="normal" stroke="#222" stroke-width="0.07">D7</text>
<line x1="423.40" y1="78.00" x2="431.40" y2="78.00" stroke="#444" stroke-width="0.8" />
<text x="427.40" y="75.80" font-size="3.2" text-anchor="middle" fill="#666" font-weight="normal" >p&lt;0.0001</text>
<line x1="436.80" y1="61.90" x2="444.90" y2="61.90" stroke="#444" stroke-width="0.8" />
<text x="440.85" y="59.60" font-size="3.2" text-anchor="middle" fill="#666" font-weight="normal" >p=0.001</text>
<text x="491.5" y="46.1" font-size="5.7" fill="#333" text-anchor="middle">GATA1</text>
<text transform="translate(458.30,72) rotate(-90)" font-size="5.2" text-anchor="middle" fill="#222" stroke="#222" stroke-width="0.07">Median intensity a.u.</text>
<line x1="471.90" y1="57.20" x2="471.90" y2="87.20" stroke="#222" stroke-width="1.0" />
<line x1="469.10" y1="86.70" x2="511.40" y2="86.70" stroke="#222" stroke-width="1.2" />
<line x1="468.90" y1="59.90" x2="471.90" y2="59.90" stroke="#333" stroke-width="0.6" />
<text x="466.10" y="61.50" font-size="4.6" text-anchor="end" fill="#444" font-weight="normal" stroke="#444" stroke-width="0.08">5</text>
<line x1="468.90" y1="65.26" x2="471.90" y2="65.26" stroke="#333" stroke-width="0.6" />
<text x="466.10" y="66.86" font-size="4.6" text-anchor="end" fill="#444" font-weight="normal" stroke="#444" stroke-width="0.08">4</text>
<line x1="468.90" y1="70.62" x2="471.90" y2="70.62" stroke="#333" stroke-width="0.6" />
<text x="466.10" y="72.22" font-size="4.6" text-anchor="end" fill="#444" font-weight="normal" stroke="#444" stroke-width="0.08">3</text>
<line x1="468.90" y1="75.98" x2="471.90" y2="75.98" stroke="#333" stroke-width="0.6" />
<text x="466.10" y="77.58" font-size="4.6" text-anchor="end" fill="#444" font-weight="normal" stroke="#444" stroke-width="0.08">2</text>
<line x1="468.90" y1="81.34" x2="471.90" y2="81.34" stroke="#333" stroke-width="0.6" />
<text x="466.10" y="82.94" font-size="4.6" text-anchor="end" fill="#444" font-weight="normal" stroke="#444" stroke-width="0.08">1</text>
<line x1="468.90" y1="86.70" x2="471.90" y2="86.70" stroke="#333" stroke-width="0.6" />
<text x="466.10" y="88.30" font-size="4.6" text-anchor="end" fill="#444" font-weight="normal" stroke="#444" stroke-width="0.08">0</text>
<rect x="475.30" y="86.50" width="3.20" height="0.20" fill="#d3d5df" />
<rect x="481.90" y="82.80" width="5.20" height="3.90" fill="#aab2c1" />
<circle cx="483.41" cy="81.26" r="0.62" fill="#46516f" fill-opacity="0.85"/>
<circle cx="485.29" cy="81.83" r="0.62" fill="#46516f" fill-opacity="0.85"/>
<circle cx="485.98" cy="82.94" r="0.62" fill="#46516f" fill-opacity="0.85"/>
<circle cx="485.91" cy="82.58" r="0.62" fill="#46516f" fill-opacity="0.85"/>
<circle cx="486.09" cy="84.69" r="0.62" fill="#46516f" fill-opacity="0.85"/>
<circle cx="483.24" cy="83.77" r="0.62" fill="#46516f" fill-opacity="0.85"/>
<circle cx="483.90" cy="83.89" r="0.62" fill="#46516f" fill-opacity="0.85"/>
<circle cx="485.19" cy="84.35" r="0.62" fill="#46516f" fill-opacity="0.85"/>
<circle cx="483.07" cy="81.58" r="0.62" fill="#46516f" fill-opacity="0.85"/>
<circle cx="485.40" cy="85.30" r="0.62" fill="#46516f" fill-opacity="0.85"/>
<circle cx="485.34" cy="80.53" r="0.62" fill="#46516f" fill-opacity="0.85"/>
<circle cx="484.89" cy="80.63" r="0.62" fill="#46516f" fill-opacity="0.85"/>
<circle cx="484.69" cy="84.18" r="0.62" fill="#46516f" fill-opacity="0.85"/>
<circle cx="483.03" cy="85.12" r="0.62" fill="#46516f" fill-opacity="0.85"/>
<circle cx="485.17" cy="81.09" r="0.62" fill="#46516f" fill-opacity="0.85"/>
<circle cx="483.33" cy="81.94" r="0.62" fill="#46516f" fill-opacity="0.85"/>
<circle cx="485.79" cy="82.69" r="0.62" fill="#46516f" fill-opacity="0.85"/>
<circle cx="483.03" cy="80.51" r="0.62" fill="#46516f" fill-opacity="0.85"/>
<circle cx="483.02" cy="84.16" r="0.62" fill="#46516f" fill-opacity="0.85"/>
<circle cx="483.30" cy="82.53" r="0.62" fill="#46516f" fill-opacity="0.85"/>
<circle cx="483.70" cy="83.37" r="0.62" fill="#46516f" fill-opacity="0.85"/>
<circle cx="484.05" cy="80.74" r="0.62" fill="#46516f" fill-opacity="0.85"/>
<circle cx="485.93" cy="82.44" r="0.62" fill="#46516f" fill-opacity="0.85"/>
<circle cx="485.22" cy="84.22" r="0.62" fill="#46516f" fill-opacity="0.85"/>
<circle cx="486.21" cy="80.51" r="0.62" fill="#46516f" fill-opacity="0.85"/>
<circle cx="483.90" cy="80.75" r="0.62" fill="#46516f" fill-opacity="0.85"/>
<circle cx="484.51" cy="84.70" r="0.62" fill="#46516f" fill-opacity="0.85"/>
<circle cx="485.64" cy="80.52" r="0.62" fill="#46516f" fill-opacity="0.85"/>
<circle cx="483.29" cy="84.29" r="0.62" fill="#46516f" fill-opacity="0.85"/>
<circle cx="485.18" cy="81.67" r="0.62" fill="#46516f" fill-opacity="0.85"/>
<circle cx="484.41" cy="80.77" r="0.62" fill="#46516f" fill-opacity="0.85"/>
<circle cx="485.81" cy="81.67" r="0.62" fill="#46516f" fill-opacity="0.85"/>
<circle cx="485.92" cy="82.87" r="0.62" fill="#46516f" fill-opacity="0.85"/>
<circle cx="482.89" cy="81.38" r="0.62" fill="#46516f" fill-opacity="0.85"/>
<circle cx="483.42" cy="84.87" r="0.62" fill="#46516f" fill-opacity="0.85"/>
<circle cx="484.84" cy="80.53" r="0.62" fill="#46516f" fill-opacity="0.85"/>
<circle cx="483.24" cy="81.52" r="0.62" fill="#46516f" fill-opacity="0.85"/>
<circle cx="484.38" cy="82.67" r="0.62" fill="#46516f" fill-opacity="0.85"/>
<circle cx="484.07" cy="81.49" r="0.62" fill="#46516f" fill-opacity="0.85"/>
<circle cx="482.62" cy="82.68" r="0.62" fill="#46516f" fill-opacity="0.85"/>
<circle cx="483.87" cy="80.51" r="0.62" fill="#46516f" fill-opacity="0.85"/>
<rect x="489.30" y="62.60" width="5.20" height="24.10" fill="#e4a291" />
<circle cx="491.75" cy="68.02" r="0.62" fill="#b5122f" fill-opacity="0.85"/>
<circle cx="490.17" cy="62.00" r="0.62" fill="#b5122f" fill-opacity="0.85"/>
<circle cx="492.55" cy="62.51" r="0.62" fill="#b5122f" fill-opacity="0.85"/>
<circle cx="491.04" cy="63.83" r="0.62" fill="#b5122f" fill-opacity="0.85"/>
<circle cx="491.00" cy="64.32" r="0.62" fill="#b5122f" fill-opacity="0.85"/>
<circle cx="492.01" cy="67.72" r="0.62" fill="#b5122f" fill-opacity="0.85"/>
<circle cx="493.77" cy="61.73" r="0.62" fill="#b5122f" fill-opacity="0.85"/>
<circle cx="492.13" cy="65.96" r="0.62" fill="#b5122f" fill-opacity="0.85"/>
<circle cx="493.32" cy="65.99" r="0.62" fill="#b5122f" fill-opacity="0.85"/>
<circle cx="492.41" cy="64.82" r="0.62" fill="#b5122f" fill-opacity="0.85"/>
<circle cx="491.38" cy="62.55" r="0.62" fill="#b5122f" fill-opacity="0.85"/>
<circle cx="493.02" cy="66.90" r="0.62" fill="#b5122f" fill-opacity="0.85"/>
<circle cx="493.57" cy="65.20" r="0.62" fill="#b5122f" fill-opacity="0.85"/>
<circle cx="491.16" cy="65.89" r="0.62" fill="#b5122f" fill-opacity="0.85"/>
<circle cx="492.81" cy="63.89" r="0.62" fill="#b5122f" fill-opacity="0.85"/>
<circle cx="492.41" cy="62.91" r="0.62" fill="#b5122f" fill-opacity="0.85"/>
<circle cx="492.09" cy="63.23" r="0.62" fill="#b5122f" fill-opacity="0.85"/>
<circle cx="490.23" cy="62.83" r="0.62" fill="#b5122f" fill-opacity="0.85"/>
<circle cx="491.23" cy="68.04" r="0.62" fill="#b5122f" fill-opacity="0.85"/>
<circle cx="491.83" cy="63.00" r="0.62" fill="#b5122f" fill-opacity="0.85"/>
<circle cx="490.93" cy="62.34" r="0.62" fill="#b5122f" fill-opacity="0.85"/>
<circle cx="491.33" cy="61.96" r="0.62" fill="#b5122f" fill-opacity="0.85"/>
<circle cx="490.03" cy="66.88" r="0.62" fill="#b5122f" fill-opacity="0.85"/>
<circle cx="491.72" cy="63.47" r="0.62" fill="#b5122f" fill-opacity="0.85"/>
<circle cx="492.16" cy="62.65" r="0.62" fill="#b5122f" fill-opacity="0.85"/>
<circle cx="490.64" cy="61.78" r="0.62" fill="#b5122f" fill-opacity="0.85"/>
<circle cx="491.15" cy="62.68" r="0.62" fill="#b5122f" fill-opacity="0.85"/>
<circle cx="492.76" cy="64.19" r="0.62" fill="#b5122f" fill-opacity="0.85"/>
<circle cx="493.56" cy="62.85" r="0.62" fill="#b5122f" fill-opacity="0.85"/>
<circle cx="493.50" cy="64.43" r="0.62" fill="#b5122f" fill-opacity="0.85"/>
<circle cx="490.30" cy="62.11" r="0.62" fill="#b5122f" fill-opacity="0.85"/>
<circle cx="492.21" cy="68.03" r="0.62" fill="#b5122f" fill-opacity="0.85"/>
<circle cx="491.36" cy="65.99" r="0.62" fill="#b5122f" fill-opacity="0.85"/>
<circle cx="491.63" cy="66.85" r="0.62" fill="#b5122f" fill-opacity="0.85"/>
<circle cx="490.26" cy="63.73" r="0.62" fill="#b5122f" fill-opacity="0.85"/>
<circle cx="493.42" cy="62.52" r="0.62" fill="#b5122f" fill-opacity="0.85"/>
<circle cx="490.98" cy="61.72" r="0.62" fill="#b5122f" fill-opacity="0.85"/>
<circle cx="490.63" cy="62.49" r="0.62" fill="#b5122f" fill-opacity="0.85"/>
<circle cx="492.68" cy="62.27" r="0.62" fill="#b5122f" fill-opacity="0.85"/>
<circle cx="491.52" cy="62.19" r="0.62" fill="#b5122f" fill-opacity="0.85"/>
<circle cx="492.29" cy="66.81" r="0.62" fill="#b5122f" fill-opacity="0.85"/>
<circle cx="492.46" cy="62.18" r="0.62" fill="#b5122f" fill-opacity="0.85"/>
<circle cx="492.79" cy="67.78" r="0.62" fill="#b5122f" fill-opacity="0.85"/>
<circle cx="492.28" cy="61.81" r="0.62" fill="#b5122f" fill-opacity="0.85"/>
<circle cx="493.08" cy="66.92" r="0.62" fill="#b5122f" fill-opacity="0.85"/>
<circle cx="491.30" cy="61.97" r="0.62" fill="#b5122f" fill-opacity="0.85"/>
<circle cx="490.72" cy="64.09" r="0.62" fill="#b5122f" fill-opacity="0.85"/>
<rect x="496.90" y="68.00" width="5.20" height="18.70" fill="#aab2c1" />
<circle cx="500.93" cy="72.36" r="0.62" fill="#46516f" fill-opacity="0.85"/>
<circle cx="501.11" cy="66.92" r="0.62" fill="#46516f" fill-opacity="0.85"/>
<circle cx="498.84" cy="74.24" r="0.62" fill="#46516f" fill-opacity="0.85"/>
<circle cx="500.07" cy="68.96" r="0.62" fill="#46516f" fill-opacity="0.85"/>
<circle cx="500.18" cy="68.16" r="0.62" fill="#46516f" fill-opacity="0.85"/>
<circle cx="497.82" cy="69.07" r="0.62" fill="#46516f" fill-opacity="0.85"/>
<circle cx="497.77" cy="72.14" r="0.62" fill="#46516f" fill-opacity="0.85"/>
<circle cx="498.87" cy="70.14" r="0.62" fill="#46516f" fill-opacity="0.85"/>
<circle cx="499.87" cy="67.32" r="0.62" fill="#46516f" fill-opacity="0.85"/>
<circle cx="499.36" cy="65.81" r="0.62" fill="#46516f" fill-opacity="0.85"/>
<circle cx="501.12" cy="71.16" r="0.62" fill="#46516f" fill-opacity="0.85"/>
<circle cx="501.35" cy="65.93" r="0.62" fill="#46516f" fill-opacity="0.85"/>
<circle cx="499.93" cy="73.79" r="0.62" fill="#46516f" fill-opacity="0.85"/>
<circle cx="498.85" cy="66.10" r="0.62" fill="#46516f" fill-opacity="0.85"/>
<circle cx="498.19" cy="66.39" r="0.62" fill="#46516f" fill-opacity="0.85"/>
<circle cx="500.52" cy="66.08" r="0.62" fill="#46516f" fill-opacity="0.85"/>
<circle cx="500.69" cy="69.18" r="0.62" fill="#46516f" fill-opacity="0.85"/>
<circle cx="499.65" cy="71.53" r="0.62" fill="#46516f" fill-opacity="0.85"/>
<circle cx="499.71" cy="72.65" r="0.62" fill="#46516f" fill-opacity="0.85"/>
<circle cx="499.89" cy="68.08" r="0.62" fill="#46516f" fill-opacity="0.85"/>
<circle cx="500.42" cy="67.33" r="0.62" fill="#46516f" fill-opacity="0.85"/>
<circle cx="500.30" cy="74.49" r="0.62" fill="#46516f" fill-opacity="0.85"/>
<circle cx="500.55" cy="67.85" r="0.62" fill="#46516f" fill-opacity="0.85"/>
<circle cx="500.54" cy="78.71" r="0.62" fill="#46516f" fill-opacity="0.85"/>
<circle cx="499.32" cy="67.53" r="0.62" fill="#46516f" fill-opacity="0.85"/>
<circle cx="499.59" cy="77.95" r="0.62" fill="#46516f" fill-opacity="0.85"/>
<circle cx="498.10" cy="65.81" r="0.62" fill="#46516f" fill-opacity="0.85"/>
<circle cx="499.41" cy="72.61" r="0.62" fill="#46516f" fill-opacity="0.85"/>
<circle cx="500.54" cy="68.44" r="0.62" fill="#46516f" fill-opacity="0.85"/>
<circle cx="501.36" cy="67.06" r="0.62" fill="#46516f" fill-opacity="0.85"/>
<circle cx="500.48" cy="66.08" r="0.62" fill="#46516f" fill-opacity="0.85"/>
<circle cx="497.71" cy="66.34" r="0.62" fill="#46516f" fill-opacity="0.85"/>
<circle cx="497.83" cy="70.24" r="0.62" fill="#46516f" fill-opacity="0.85"/>
<circle cx="499.71" cy="66.68" r="0.62" fill="#46516f" fill-opacity="0.85"/>
<circle cx="501.17" cy="68.48" r="0.62" fill="#46516f" fill-opacity="0.85"/>
<circle cx="498.17" cy="66.64" r="0.62" fill="#46516f" fill-opacity="0.85"/>
<circle cx="500.40" cy="77.55" r="0.62" fill="#46516f" fill-opacity="0.85"/>
<circle cx="498.22" cy="65.85" r="0.62" fill="#46516f" fill-opacity="0.85"/>
<circle cx="500.56" cy="67.19" r="0.62" fill="#46516f" fill-opacity="0.85"/>
<circle cx="501.33" cy="70.20" r="0.62" fill="#46516f" fill-opacity="0.85"/>
<circle cx="500.02" cy="68.23" r="0.62" fill="#46516f" fill-opacity="0.85"/>
<circle cx="500.64" cy="69.67" r="0.62" fill="#46516f" fill-opacity="0.85"/>
<circle cx="498.83" cy="77.19" r="0.62" fill="#46516f" fill-opacity="0.85"/>
<circle cx="498.01" cy="73.96" r="0.62" fill="#46516f" fill-opacity="0.85"/>
<circle cx="497.85" cy="72.45" r="0.62" fill="#46516f" fill-opacity="0.85"/>
<circle cx="499.13" cy="76.40" r="0.62" fill="#46516f" fill-opacity="0.85"/>
<circle cx="497.83" cy="71.16" r="0.62" fill="#46516f" fill-opacity="0.85"/>
<circle cx="499.16" cy="77.50" r="0.62" fill="#46516f" fill-opacity="0.85"/>
<circle cx="501.19" cy="72.15" r="0.62" fill="#46516f" fill-opacity="0.85"/>
<circle cx="498.45" cy="67.28" r="0.62" fill="#46516f" fill-opacity="0.85"/>
<circle cx="498.60" cy="69.32" r="0.62" fill="#46516f" fill-opacity="0.85"/>
<circle cx="498.48" cy="66.85" r="0.62" fill="#46516f" fill-opacity="0.85"/>
<circle cx="500.48" cy="72.40" r="0.62" fill="#46516f" fill-opacity="0.85"/>
<circle cx="498.73" cy="79.07" r="0.62" fill="#46516f" fill-opacity="0.85"/>
<circle cx="498.42" cy="71.24" r="0.62" fill="#46516f" fill-opacity="0.85"/>
<circle cx="498.20" cy="76.38" r="0.62" fill="#46516f" fill-opacity="0.85"/>
<circle cx="500.90" cy="67.42" r="0.62" fill="#46516f" fill-opacity="0.85"/>
<circle cx="500.46" cy="75.60" r="0.62" fill="#46516f" fill-opacity="0.85"/>
<circle cx="498.67" cy="68.09" r="0.62" fill="#46516f" fill-opacity="0.85"/>
<circle cx="499.45" cy="76.94" r="0.62" fill="#46516f" fill-opacity="0.85"/>
<circle cx="498.21" cy="73.07" r="0.62" fill="#46516f" fill-opacity="0.85"/>
<circle cx="499.87" cy="69.57" r="0.62" fill="#46516f" fill-opacity="0.85"/>
<circle cx="499.80" cy="76.77" r="0.62" fill="#46516f" fill-opacity="0.85"/>
<circle cx="498.40" cy="76.79" r="0.62" fill="#46516f" fill-opacity="0.85"/>
<circle cx="498.97" cy="74.80" r="0.62" fill="#46516f" fill-opacity="0.85"/>
<circle cx="500.88" cy="66.68" r="0.62" fill="#46516f" fill-opacity="0.85"/>
<circle cx="500.88" cy="79.08" r="0.62" fill="#46516f" fill-opacity="0.85"/>
<circle cx="498.73" cy="65.84" r="0.62" fill="#46516f" fill-opacity="0.85"/>
<circle cx="498.02" cy="78.65" r="0.62" fill="#46516f" fill-opacity="0.85"/>
<circle cx="497.64" cy="77.35" r="0.62" fill="#46516f" fill-opacity="0.85"/>
<circle cx="498.17" cy="74.00" r="0.62" fill="#46516f" fill-opacity="0.85"/>
<circle cx="497.97" cy="66.58" r="0.62" fill="#46516f" fill-opacity="0.85"/>
<circle cx="500.19" cy="66.09" r="0.62" fill="#46516f" fill-opacity="0.85"/>
<circle cx="498.89" cy="77.49" r="0.62" fill="#46516f" fill-opacity="0.85"/>
<circle cx="500.32" cy="76.76" r="0.62" fill="#46516f" fill-opacity="0.85"/>
<circle cx="501.32" cy="65.86" r="0.62" fill="#46516f" fill-opacity="0.85"/>
<circle cx="498.49" cy="75.03" r="0.62" fill="#46516f" fill-opacity="0.85"/>
<circle cx="500.22" cy="65.87" r="0.62" fill="#46516f" fill-opacity="0.85"/>
<circle cx="499.52" cy="67.09" r="0.62" fill="#46516f" fill-opacity="0.85"/>
<circle cx="499.24" cy="66.16" r="0.62" fill="#46516f" fill-opacity="0.85"/>
<circle cx="497.68" cy="79.00" r="0.62" fill="#46516f" fill-opacity="0.85"/>
<circle cx="498.80" cy="76.69" r="0.62" fill="#46516f" fill-opacity="0.85"/>
<circle cx="498.06" cy="70.04" r="0.62" fill="#46516f" fill-opacity="0.85"/>
<circle cx="498.12" cy="69.25" r="0.62" fill="#46516f" fill-opacity="0.85"/>
<rect x="504.40" y="68.60" width="5.20" height="18.10" fill="#e4a291" />
<circle cx="505.78" cy="72.13" r="0.62" fill="#b5122f" fill-opacity="0.85"/>
<circle cx="505.66" cy="73.09" r="0.62" fill="#b5122f" fill-opacity="0.85"/>
<circle cx="507.00" cy="64.92" r="0.62" fill="#b5122f" fill-opacity="0.85"/>
<circle cx="506.44" cy="69.05" r="0.62" fill="#b5122f" fill-opacity="0.85"/>
<circle cx="508.59" cy="67.10" r="0.62" fill="#b5122f" fill-opacity="0.85"/>
<circle cx="505.92" cy="77.75" r="0.62" fill="#b5122f" fill-opacity="0.85"/>
<circle cx="508.46" cy="72.97" r="0.62" fill="#b5122f" fill-opacity="0.85"/>
<circle cx="506.14" cy="65.38" r="0.62" fill="#b5122f" fill-opacity="0.85"/>
<circle cx="506.11" cy="64.69" r="0.62" fill="#b5122f" fill-opacity="0.85"/>
<circle cx="505.26" cy="69.24" r="0.62" fill="#b5122f" fill-opacity="0.85"/>
<circle cx="506.65" cy="69.97" r="0.62" fill="#b5122f" fill-opacity="0.85"/>
<circle cx="506.48" cy="64.51" r="0.62" fill="#b5122f" fill-opacity="0.85"/>
<circle cx="507.71" cy="71.56" r="0.62" fill="#b5122f" fill-opacity="0.85"/>
<circle cx="507.17" cy="69.85" r="0.62" fill="#b5122f" fill-opacity="0.85"/>
<circle cx="507.72" cy="78.07" r="0.62" fill="#b5122f" fill-opacity="0.85"/>
<circle cx="508.42" cy="72.71" r="0.62" fill="#b5122f" fill-opacity="0.85"/>
<circle cx="506.62" cy="66.74" r="0.62" fill="#b5122f" fill-opacity="0.85"/>
<circle cx="506.69" cy="77.87" r="0.62" fill="#b5122f" fill-opacity="0.85"/>
<circle cx="506.57" cy="67.54" r="0.62" fill="#b5122f" fill-opacity="0.85"/>
<circle cx="506.66" cy="65.12" r="0.62" fill="#b5122f" fill-opacity="0.85"/>
<circle cx="508.89" cy="64.50" r="0.62" fill="#b5122f" fill-opacity="0.85"/>
<circle cx="507.41" cy="76.85" r="0.62" fill="#b5122f" fill-opacity="0.85"/>
<circle cx="506.07" cy="70.85" r="0.62" fill="#b5122f" fill-opacity="0.85"/>
<circle cx="506.53" cy="65.93" r="0.62" fill="#b5122f" fill-opacity="0.85"/>
<circle cx="505.85" cy="64.95" r="0.62" fill="#b5122f" fill-opacity="0.85"/>
<circle cx="508.30" cy="73.96" r="0.62" fill="#b5122f" fill-opacity="0.85"/>
<circle cx="508.55" cy="64.61" r="0.62" fill="#b5122f" fill-opacity="0.85"/>
<circle cx="507.74" cy="66.81" r="0.62" fill="#b5122f" fill-opacity="0.85"/>
<circle cx="507.56" cy="69.85" r="0.62" fill="#b5122f" fill-opacity="0.85"/>
<circle cx="506.30" cy="77.84" r="0.62" fill="#b5122f" fill-opacity="0.85"/>
<circle cx="505.10" cy="73.24" r="0.62" fill="#b5122f" fill-opacity="0.85"/>
<circle cx="508.34" cy="69.26" r="0.62" fill="#b5122f" fill-opacity="0.85"/>
<circle cx="507.35" cy="78.35" r="0.62" fill="#b5122f" fill-opacity="0.85"/>
<circle cx="505.99" cy="71.16" r="0.62" fill="#b5122f" fill-opacity="0.85"/>
<circle cx="507.92" cy="67.46" r="0.62" fill="#b5122f" fill-opacity="0.85"/>
<circle cx="507.81" cy="67.64" r="0.62" fill="#b5122f" fill-opacity="0.85"/>
<circle cx="507.10" cy="70.88" r="0.62" fill="#b5122f" fill-opacity="0.85"/>
<circle cx="507.67" cy="66.78" r="0.62" fill="#b5122f" fill-opacity="0.85"/>
<circle cx="507.49" cy="69.76" r="0.62" fill="#b5122f" fill-opacity="0.85"/>
<circle cx="505.95" cy="70.87" r="0.62" fill="#b5122f" fill-opacity="0.85"/>
<circle cx="506.11" cy="76.48" r="0.62" fill="#b5122f" fill-opacity="0.85"/>
<circle cx="506.90" cy="72.78" r="0.62" fill="#b5122f" fill-opacity="0.85"/>
<circle cx="507.08" cy="68.77" r="0.62" fill="#b5122f" fill-opacity="0.85"/>
<circle cx="505.94" cy="65.12" r="0.62" fill="#b5122f" fill-opacity="0.85"/>
<circle cx="508.62" cy="69.54" r="0.62" fill="#b5122f" fill-opacity="0.85"/>
<circle cx="507.09" cy="69.52" r="0.62" fill="#b5122f" fill-opacity="0.85"/>
<circle cx="508.19" cy="65.91" r="0.62" fill="#b5122f" fill-opacity="0.85"/>
<circle cx="505.75" cy="74.70" r="0.62" fill="#b5122f" fill-opacity="0.85"/>
<circle cx="506.85" cy="71.35" r="0.62" fill="#b5122f" fill-opacity="0.85"/>
<circle cx="508.24" cy="76.17" r="0.62" fill="#b5122f" fill-opacity="0.85"/>
<circle cx="508.40" cy="64.59" r="0.62" fill="#b5122f" fill-opacity="0.85"/>
<circle cx="506.55" cy="74.91" r="0.62" fill="#b5122f" fill-opacity="0.85"/>
<circle cx="508.21" cy="64.99" r="0.62" fill="#b5122f" fill-opacity="0.85"/>
<circle cx="505.68" cy="66.03" r="0.62" fill="#b5122f" fill-opacity="0.85"/>
<circle cx="505.49" cy="67.18" r="0.62" fill="#b5122f" fill-opacity="0.85"/>
<circle cx="508.15" cy="69.43" r="0.62" fill="#b5122f" fill-opacity="0.85"/>
<circle cx="506.82" cy="64.79" r="0.62" fill="#b5122f" fill-opacity="0.85"/>
<circle cx="506.60" cy="78.40" r="0.62" fill="#b5122f" fill-opacity="0.85"/>
<circle cx="507.74" cy="68.38" r="0.62" fill="#b5122f" fill-opacity="0.85"/>
<circle cx="506.92" cy="74.24" r="0.62" fill="#b5122f" fill-opacity="0.85"/>
<circle cx="507.98" cy="65.17" r="0.62" fill="#b5122f" fill-opacity="0.85"/>
<circle cx="507.68" cy="67.31" r="0.62" fill="#b5122f" fill-opacity="0.85"/>
<circle cx="507.08" cy="65.90" r="0.62" fill="#b5122f" fill-opacity="0.85"/>
<circle cx="506.51" cy="66.99" r="0.62" fill="#b5122f" fill-opacity="0.85"/>
<circle cx="506.55" cy="64.52" r="0.62" fill="#b5122f" fill-opacity="0.85"/>
<circle cx="505.86" cy="70.19" r="0.62" fill="#b5122f" fill-opacity="0.85"/>
<circle cx="505.32" cy="65.39" r="0.62" fill="#b5122f" fill-opacity="0.85"/>
<circle cx="507.83" cy="66.27" r="0.62" fill="#b5122f" fill-opacity="0.85"/>
<circle cx="506.33" cy="65.94" r="0.62" fill="#b5122f" fill-opacity="0.85"/>
<circle cx="508.27" cy="64.80" r="0.62" fill="#b5122f" fill-opacity="0.85"/>
<circle cx="507.52" cy="75.45" r="0.62" fill="#b5122f" fill-opacity="0.85"/>
<circle cx="505.87" cy="68.03" r="0.62" fill="#b5122f" fill-opacity="0.85"/>
<circle cx="508.11" cy="70.96" r="0.62" fill="#b5122f" fill-opacity="0.85"/>
<circle cx="506.51" cy="64.59" r="0.62" fill="#b5122f" fill-opacity="0.85"/>
<circle cx="506.78" cy="67.31" r="0.62" fill="#b5122f" fill-opacity="0.85"/>
<circle cx="507.81" cy="66.48" r="0.62" fill="#b5122f" fill-opacity="0.85"/>
<circle cx="506.65" cy="71.48" r="0.62" fill="#b5122f" fill-opacity="0.85"/>
<circle cx="508.18" cy="67.13" r="0.62" fill="#b5122f" fill-opacity="0.85"/>
<circle cx="506.56" cy="70.32" r="0.62" fill="#b5122f" fill-opacity="0.85"/>
<circle cx="508.61" cy="65.49" r="0.62" fill="#b5122f" fill-opacity="0.85"/>
<circle cx="508.79" cy="72.61" r="0.62" fill="#b5122f" fill-opacity="0.85"/>
<circle cx="506.51" cy="71.78" r="0.62" fill="#b5122f" fill-opacity="0.85"/>
<circle cx="506.35" cy="64.70" r="0.62" fill="#b5122f" fill-opacity="0.85"/>
<circle cx="507.97" cy="67.46" r="0.62" fill="#b5122f" fill-opacity="0.85"/>
<circle cx="507.10" cy="69.06" r="0.62" fill="#b5122f" fill-opacity="0.85"/>
<circle cx="508.52" cy="73.45" r="0.62" fill="#b5122f" fill-opacity="0.85"/>
<circle cx="505.20" cy="70.55" r="0.62" fill="#b5122f" fill-opacity="0.85"/>
<line x1="481.40" y1="89.50" x2="494.40" y2="89.50" stroke="#333" stroke-width="0.75" />
<line x1="496.40" y1="89.50" x2="509.90" y2="89.50" stroke="#333" stroke-width="0.75" />
<text x="476.90" y="96.90" font-size="4.8" text-anchor="middle" fill="#222" font-weight="normal" stroke="#222" stroke-width="0.07">D0</text>
<text x="488.20" y="96.90" font-size="4.8" text-anchor="middle" fill="#222" font-weight="normal" stroke="#222" stroke-width="0.07">D3</text>
<text x="502.90" y="96.90" font-size="4.8" text-anchor="middle" fill="#222" font-weight="normal" stroke="#222" stroke-width="0.07">D7</text>
<line x1="483.60" y1="59.90" x2="491.70" y2="59.90" stroke="#444" stroke-width="0.8" />
<text x="487.65" y="58.20" font-size="3.2" text-anchor="middle" fill="#666" font-weight="normal" >p&lt;0.0001</text>
<line x1="25.40" y1="153.40" x2="67.50" y2="153.40" stroke="#9aaccc" stroke-width="0.85" />
<line x1="25.40" y1="191.40" x2="67.50" y2="191.40" stroke="#f2c48a" stroke-width="0.85" />
<line x1="25.40" y1="229.50" x2="67.50" y2="229.50" stroke="#bcdca8" stroke-width="0.85" />
<line x1="25.40" y1="268.10" x2="67.50" y2="268.10" stroke="#e28a9a" stroke-width="0.85" />
<line x1="25.40" y1="306.00" x2="67.50" y2="306.00" stroke="#b4b0dc" stroke-width="0.85" />
<polygon points="30.95,153.40 30.95,116.90 31.75,116.90 31.80,129.40 32.00,145.50 34.60,148.10 37.80,150.20 42.60,153.10 42.90,153.40" fill="#1f3d7d" fill-opacity="0.95"/>
<rect x="30.95" y="116.90" width="0.80" height="12.00" fill="#ffffff" fill-opacity="0.45"/>
<polygon points="29.78,191.40 29.78,191.40 30.68,180.84 31.45,155.78 31.97,165.42 32.35,173.13 32.99,169.27 34.02,166.06 34.54,175.70 35.31,178.91 36.21,179.55 36.85,180.19 38.13,177.62 39.16,172.87 40.06,175.70 40.70,182.12 41.99,185.98 43.02,186.62 43.92,191.40 43.92,191.40" fill="#e08a1c" />
<polygon points="29.40,229.50 29.40,229.50 30.42,218.10 31.32,211.67 32.35,216.81 33.25,214.24 34.54,207.82 35.56,205.89 36.85,207.18 38.13,200.11 39.16,194.33 40.06,203.96 40.70,214.24 41.99,216.81 43.27,220.02 44.56,223.88 45.84,227.73 46.87,229.50 47.77,224.52 48.67,222.59 49.70,228.38 50.08,229.50 50.08,229.50" fill="#5da33a" />
<polygon points="29.78,268.10 29.78,268.10 30.68,262.05 31.71,251.13 32.99,238.28 34.02,232.50 35.31,240.85 36.21,247.27 37.11,242.13 38.39,236.35 39.42,235.71 40.45,239.56 41.35,244.70 42.24,242.13 43.02,240.21 43.92,243.42 44.81,248.56 45.84,253.70 46.87,254.34 47.77,260.12 48.41,266.55 48.80,268.10 51.62,268.10 52.52,266.29 53.55,266.55 54.19,268.10 54.19,268.10" fill="#a90d2e" />
<polygon points="29.78,306.00 29.78,306.00 30.42,292.24 31.45,278.75 32.35,283.25 33.25,288.39 34.28,294.81 34.92,292.24 35.82,283.25 36.59,274.25 37.23,271.04 37.88,276.82 38.78,281.32 39.68,284.53 40.45,281.96 41.35,287.10 42.24,288.39 43.27,284.53 43.92,287.10 44.81,294.81 46.10,299.95 47.13,303.81 47.77,306.00 47.77,306.00" fill="#8f8ac6" />
<rect x="25.40" y="112.50" width="42.10" height="195.00" fill="none" stroke="#3a3a3a" stroke-width="1.1"/>
<line x1="25.80" y1="307.50" x2="25.80" y2="310.30" stroke="#222" stroke-width="0.55" />
<line x1="29.86" y1="307.50" x2="29.86" y2="309.70" stroke="#222" stroke-width="0.55" />
<line x1="32.24" y1="307.50" x2="32.24" y2="309.70" stroke="#222" stroke-width="0.55" />
<line x1="33.93" y1="307.50" x2="33.93" y2="309.70" stroke="#222" stroke-width="0.55" />
<line x1="35.24" y1="307.50" x2="35.24" y2="309.70" stroke="#222" stroke-width="0.55" />
<line x1="36.31" y1="307.50" x2="36.31" y2="309.70" stroke="#222" stroke-width="0.55" />
<line x1="37.21" y1="307.50" x2="37.21" y2="309.70" stroke="#222" stroke-width="0.55" />
<line x1="37.99" y1="307.50" x2="37.99" y2="309.70" stroke="#222" stroke-width="0.55" />
<line x1="38.68" y1="307.50" x2="38.68" y2="309.70" stroke="#222" stroke-width="0.55" />
<line x1="39.30" y1="307.50" x2="39.30" y2="310.30" stroke="#222" stroke-width="0.55" />
<line x1="43.36" y1="307.50" x2="43.36" y2="309.70" stroke="#222" stroke-width="0.55" />
<line x1="45.74" y1="307.50" x2="45.74" y2="309.70" stroke="#222" stroke-width="0.55" />
<line x1="47.43" y1="307.50" x2="47.43" y2="309.70" stroke="#222" stroke-width="0.55" />
<line x1="48.74" y1="307.50" x2="48.74" y2="309.70" stroke="#222" stroke-width="0.55" />
<line x1="49.81" y1="307.50" x2="49.81" y2="309.70" stroke="#222" stroke-width="0.55" />
<line x1="50.71" y1="307.50" x2="50.71" y2="309.70" stroke="#222" stroke-width="0.55" />
<line x1="51.49" y1="307.50" x2="51.49" y2="309.70" stroke="#222" stroke-width="0.55" />
<line x1="52.18" y1="307.50" x2="52.18" y2="309.70" stroke="#222" stroke-width="0.55" />
<line x1="52.80" y1="307.50" x2="52.80" y2="310.30" stroke="#222" stroke-width="0.55" />
<line x1="56.86" y1="307.50" x2="56.86" y2="309.70" stroke="#222" stroke-width="0.55" />
<line x1="59.24" y1="307.50" x2="59.24" y2="309.70" stroke="#222" stroke-width="0.55" />
<line x1="60.93" y1="307.50" x2="60.93" y2="309.70" stroke="#222" stroke-width="0.55" />
<line x1="62.24" y1="307.50" x2="62.24" y2="309.70" stroke="#222" stroke-width="0.55" />
<line x1="63.31" y1="307.50" x2="63.31" y2="309.70" stroke="#222" stroke-width="0.55" />
<line x1="64.21" y1="307.50" x2="64.21" y2="309.70" stroke="#222" stroke-width="0.55" />
<line x1="64.99" y1="307.50" x2="64.99" y2="309.70" stroke="#222" stroke-width="0.55" />
<line x1="65.68" y1="307.50" x2="65.68" y2="309.70" stroke="#222" stroke-width="0.55" />
<line x1="66.30" y1="307.50" x2="66.30" y2="310.30" stroke="#222" stroke-width="0.55" />
<line x1="89.20" y1="153.40" x2="131.30" y2="153.40" stroke="#9aaccc" stroke-width="0.85" />
<line x1="89.20" y1="191.40" x2="131.30" y2="191.40" stroke="#f2c48a" stroke-width="0.85" />
<line x1="89.20" y1="229.50" x2="131.30" y2="229.50" stroke="#bcdca8" stroke-width="0.85" />
<line x1="89.20" y1="268.10" x2="131.30" y2="268.10" stroke="#e28a9a" stroke-width="0.85" />
<line x1="89.20" y1="306.00" x2="131.30" y2="306.00" stroke="#b4b0dc" stroke-width="0.85" />
<polygon points="93.35,153.40 93.35,116.90 94.15,116.90 94.20,129.40 94.40,149.40 97.00,151.40 101.20,153.20 101.50,153.40" fill="#1f3d7d" fill-opacity="0.95"/>
<rect x="93.35" y="116.90" width="0.80" height="12.00" fill="#ffffff" fill-opacity="0.45"/>
<polygon points="92.88,191.40 92.88,191.40 93.40,180.84 93.78,155.78 94.42,155.78 94.68,182.12 95.45,183.41 95.97,186.62 97.25,187.26 98.28,188.55 99.56,189.83 100.85,190.86 103.42,191.40 103.42,191.40" fill="#e08a1c" />
<polygon points="92.50,229.50 92.50,229.50 93.40,225.81 94.42,218.10 95.45,211.67 96.35,210.13 97.25,212.96 98.02,216.81 98.92,214.24 99.82,203.96 100.85,196.25 101.62,193.94 102.39,196.25 103.16,203.96 104.06,214.24 104.96,219.38 105.99,221.31 107.02,224.52 107.92,229.50 110.87,229.50 111.77,224.52 112.67,222.98 113.44,225.81 114.08,229.50 114.08,229.50" fill="#5da33a" />
<polygon points="92.88,268.10 92.88,268.10 93.40,253.70 94.04,232.50 94.68,235.71 95.07,251.13 95.71,253.05 96.35,251.13 96.99,256.27 98.02,260.12 98.92,262.69 100.21,263.98 100.85,265.90 102.13,266.55 103.42,267.19 104.06,268.10 105.35,268.10 105.99,267.19 106.63,268.10 114.34,268.10 114.98,267.19 115.62,268.10 115.62,268.10" fill="#a90d2e" />
<polygon points="92.88,306.00 92.88,306.00 93.40,285.82 94.17,270.40 94.81,274.25 95.32,292.24 95.97,296.10 96.99,298.67 98.02,301.88 99.31,302.52 100.59,302.26 101.49,303.81 102.13,305.09 102.78,306.00 103.42,304.83 104.06,306.00 105.99,306.00 106.63,304.83 107.27,306.00 107.27,306.00" fill="#8f8ac6" />
<rect x="89.20" y="112.50" width="42.10" height="195.00" fill="none" stroke="#3a3a3a" stroke-width="1.1"/>
<line x1="89.60" y1="307.50" x2="89.60" y2="310.30" stroke="#222" stroke-width="0.55" />
<line x1="93.66" y1="307.50" x2="93.66" y2="309.70" stroke="#222" stroke-width="0.55" />
<line x1="96.04" y1="307.50" x2="96.04" y2="309.70" stroke="#222" stroke-width="0.55" />
<line x1="97.73" y1="307.50" x2="97.73" y2="309.70" stroke="#222" stroke-width="0.55" />
<line x1="99.04" y1="307.50" x2="99.04" y2="309.70" stroke="#222" stroke-width="0.55" />
<line x1="100.11" y1="307.50" x2="100.11" y2="309.70" stroke="#222" stroke-width="0.55" />
<line x1="101.01" y1="307.50" x2="101.01" y2="309.70" stroke="#222" stroke-width="0.55" />
<line x1="101.79" y1="307.50" x2="101.79" y2="309.70" stroke="#222" stroke-width="0.55" />
<line x1="102.48" y1="307.50" x2="102.48" y2="309.70" stroke="#222" stroke-width="0.55" />
<line x1="103.10" y1="307.50" x2="103.10" y2="310.30" stroke="#222" stroke-width="0.55" />
<line x1="107.16" y1="307.50" x2="107.16" y2="309.70" stroke="#222" stroke-width="0.55" />
<line x1="109.54" y1="307.50" x2="109.54" y2="309.70" stroke="#222" stroke-width="0.55" />
<line x1="111.23" y1="307.50" x2="111.23" y2="309.70" stroke="#222" stroke-width="0.55" />
<line x1="112.54" y1="307.50" x2="112.54" y2="309.70" stroke="#222" stroke-width="0.55" />
<line x1="113.61" y1="307.50" x2="113.61" y2="309.70" stroke="#222" stroke-width="0.55" />
<line x1="114.51" y1="307.50" x2="114.51" y2="309.70" stroke="#222" stroke-width="0.55" />
<line x1="115.29" y1="307.50" x2="115.29" y2="309.70" stroke="#222" stroke-width="0.55" />
<line x1="115.98" y1="307.50" x2="115.98" y2="309.70" stroke="#222" stroke-width="0.55" />
<line x1="116.60" y1="307.50" x2="116.60" y2="310.30" stroke="#222" stroke-width="0.55" />
<line x1="120.66" y1="307.50" x2="120.66" y2="309.70" stroke="#222" stroke-width="0.55" />
<line x1="123.04" y1="307.50" x2="123.04" y2="309.70" stroke="#222" stroke-width="0.55" />
<line x1="124.73" y1="307.50" x2="124.73" y2="309.70" stroke="#222" stroke-width="0.55" />
<line x1="126.04" y1="307.50" x2="126.04" y2="309.70" stroke="#222" stroke-width="0.55" />
<line x1="127.11" y1="307.50" x2="127.11" y2="309.70" stroke="#222" stroke-width="0.55" />
<line x1="128.01" y1="307.50" x2="128.01" y2="309.70" stroke="#222" stroke-width="0.55" />
<line x1="128.79" y1="307.50" x2="128.79" y2="309.70" stroke="#222" stroke-width="0.55" />
<line x1="129.48" y1="307.50" x2="129.48" y2="309.70" stroke="#222" stroke-width="0.55" />
<line x1="130.10" y1="307.50" x2="130.10" y2="310.30" stroke="#222" stroke-width="0.55" />
<line x1="152.70" y1="153.40" x2="194.80" y2="153.40" stroke="#9aaccc" stroke-width="0.85" />
<line x1="152.70" y1="191.40" x2="194.80" y2="191.40" stroke="#f2c48a" stroke-width="0.85" />
<line x1="152.70" y1="229.50" x2="194.80" y2="229.50" stroke="#bcdca8" stroke-width="0.85" />
<line x1="152.70" y1="268.10" x2="194.80" y2="268.10" stroke="#e28a9a" stroke-width="0.85" />
<line x1="152.70" y1="306.00" x2="194.80" y2="306.00" stroke="#b4b0dc" stroke-width="0.85" />
<polygon points="157.05,153.40 157.05,116.90 157.85,116.90 157.90,129.40 158.60,150.20 160.30,152.00 163.00,153.20 163.30,153.40" fill="#1f3d7d" fill-opacity="0.95"/>
<rect x="157.05" y="116.90" width="0.80" height="12.00" fill="#ffffff" fill-opacity="0.45"/>
<polygon points="156.78,191.40 156.78,191.40 157.17,169.27 157.68,155.78 158.32,157.71 158.71,183.41 159.35,185.98 160.25,185.33 161.28,187.26 162.31,187.90 163.21,186.62 163.85,188.55 165.13,189.83 166.42,190.47 168.35,190.86 168.99,191.40 168.99,191.40" fill="#e08a1c" />
<polygon points="155.88,229.50 155.88,229.50 157.42,224.52 158.97,215.53 160.25,206.53 161.28,200.11 162.31,200.75 163.21,202.68 164.11,196.25 164.88,193.94 165.78,197.54 166.42,206.53 167.45,212.96 168.73,214.24 170.02,214.24 170.92,215.53 171.81,220.67 172.84,225.81 173.87,229.50 177.34,229.50 178.24,225.81 179.27,222.98 180.29,225.81 181.19,229.50 181.19,229.50" fill="#5da33a" />
<polygon points="155.88,268.10 155.88,268.10 156.78,253.70 157.42,233.14 158.20,232.50 158.97,240.85 159.48,252.41 160.25,253.70 161.28,251.77 162.31,255.62 163.21,257.55 164.11,259.48 165.13,262.05 166.16,263.98 167.06,265.90 167.96,267.19 168.99,267.57 170.02,266.55 170.92,266.55 171.81,268.10 174.13,268.10 174.77,267.19 175.41,268.10 182.48,268.10 183.12,266.93 184.15,268.10 184.15,268.10" fill="#a90d2e" />
<polygon points="155.88,306.00 155.88,306.00 156.78,285.82 157.68,270.40 158.45,276.82 159.35,289.67 160.25,295.45 161.28,294.17 162.31,294.81 163.21,296.10 164.11,295.45 165.13,299.95 166.16,303.16 167.45,304.45 168.99,305.09 170.27,304.83 171.56,305.09 172.59,306.00 183.12,306.00 183.76,304.83 184.41,306.00 184.41,306.00" fill="#8f8ac6" />
<rect x="152.70" y="112.50" width="42.10" height="195.00" fill="none" stroke="#3a3a3a" stroke-width="1.1"/>
<line x1="153.10" y1="307.50" x2="153.10" y2="310.30" stroke="#222" stroke-width="0.55" />
<line x1="157.16" y1="307.50" x2="157.16" y2="309.70" stroke="#222" stroke-width="0.55" />
<line x1="159.54" y1="307.50" x2="159.54" y2="309.70" stroke="#222" stroke-width="0.55" />
<line x1="161.23" y1="307.50" x2="161.23" y2="309.70" stroke="#222" stroke-width="0.55" />
<line x1="162.54" y1="307.50" x2="162.54" y2="309.70" stroke="#222" stroke-width="0.55" />
<line x1="163.61" y1="307.50" x2="163.61" y2="309.70" stroke="#222" stroke-width="0.55" />
<line x1="164.51" y1="307.50" x2="164.51" y2="309.70" stroke="#222" stroke-width="0.55" />
<line x1="165.29" y1="307.50" x2="165.29" y2="309.70" stroke="#222" stroke-width="0.55" />
<line x1="165.98" y1="307.50" x2="165.98" y2="309.70" stroke="#222" stroke-width="0.55" />
<line x1="166.60" y1="307.50" x2="166.60" y2="310.30" stroke="#222" stroke-width="0.55" />
<line x1="170.66" y1="307.50" x2="170.66" y2="309.70" stroke="#222" stroke-width="0.55" />
<line x1="173.04" y1="307.50" x2="173.04" y2="309.70" stroke="#222" stroke-width="0.55" />
<line x1="174.73" y1="307.50" x2="174.73" y2="309.70" stroke="#222" stroke-width="0.55" />
<line x1="176.04" y1="307.50" x2="176.04" y2="309.70" stroke="#222" stroke-width="0.55" />
<line x1="177.11" y1="307.50" x2="177.11" y2="309.70" stroke="#222" stroke-width="0.55" />
<line x1="178.01" y1="307.50" x2="178.01" y2="309.70" stroke="#222" stroke-width="0.55" />
<line x1="178.79" y1="307.50" x2="178.79" y2="309.70" stroke="#222" stroke-width="0.55" />
<line x1="179.48" y1="307.50" x2="179.48" y2="309.70" stroke="#222" stroke-width="0.55" />
<line x1="180.10" y1="307.50" x2="180.10" y2="310.30" stroke="#222" stroke-width="0.55" />
<line x1="184.16" y1="307.50" x2="184.16" y2="309.70" stroke="#222" stroke-width="0.55" />
<line x1="186.54" y1="307.50" x2="186.54" y2="309.70" stroke="#222" stroke-width="0.55" />
<line x1="188.23" y1="307.50" x2="188.23" y2="309.70" stroke="#222" stroke-width="0.55" />
<line x1="189.54" y1="307.50" x2="189.54" y2="309.70" stroke="#222" stroke-width="0.55" />
<line x1="190.61" y1="307.50" x2="190.61" y2="309.70" stroke="#222" stroke-width="0.55" />
<line x1="191.51" y1="307.50" x2="191.51" y2="309.70" stroke="#222" stroke-width="0.55" />
<line x1="192.29" y1="307.50" x2="192.29" y2="309.70" stroke="#222" stroke-width="0.55" />
<line x1="192.98" y1="307.50" x2="192.98" y2="309.70" stroke="#222" stroke-width="0.55" />
<line x1="193.60" y1="307.50" x2="193.60" y2="310.30" stroke="#222" stroke-width="0.55" />
<line x1="216.80" y1="153.40" x2="258.90" y2="153.40" stroke="#9aaccc" stroke-width="0.85" />
<line x1="216.80" y1="191.40" x2="258.90" y2="191.40" stroke="#f2c48a" stroke-width="0.85" />
<line x1="216.80" y1="229.50" x2="258.90" y2="229.50" stroke="#bcdca8" stroke-width="0.85" />
<line x1="216.80" y1="268.10" x2="258.90" y2="268.10" stroke="#e28a9a" stroke-width="0.85" />
<line x1="216.80" y1="306.00" x2="258.90" y2="306.00" stroke="#b4b0dc" stroke-width="0.85" />
<polygon points="220.85,153.40 220.85,116.90 221.65,116.90 221.70,129.40 222.20,150.90 224.30,152.10 226.40,153.20 226.70,153.40" fill="#1f3d7d" fill-opacity="0.95"/>
<rect x="220.85" y="116.90" width="0.80" height="12.00" fill="#ffffff" fill-opacity="0.45"/>
<polygon points="220.40,191.40 220.40,191.40 220.78,175.70 221.17,155.78 221.68,162.85 222.07,182.12 222.97,184.69 223.74,187.26 224.64,188.55 226.56,189.83 228.49,190.86 229.78,191.40 229.78,191.40" fill="#e08a1c" />
<polygon points="219.50,229.50 219.50,229.50 220.14,221.95 220.78,207.82 221.42,196.25 222.07,193.94 222.97,198.82 223.99,202.68 225.02,203.96 225.92,203.32 226.82,206.53 227.59,214.24 228.49,212.32 229.39,216.81 230.16,225.81 230.68,229.50 236.59,229.50 237.10,225.81 237.87,223.24 238.77,226.45 239.41,229.50 239.41,229.50" fill="#5da33a" />
<polygon points="219.88,268.10 219.88,268.10 220.40,253.70 221.17,235.71 221.68,232.50 222.45,239.56 222.97,249.84 223.74,251.13 224.64,248.56 225.28,247.27 225.92,249.84 226.56,254.98 227.59,260.12 228.49,260.76 229.39,258.84 230.16,257.81 230.68,261.41 231.70,262.69 232.73,263.33 233.63,265.90 234.53,268.10 243.27,268.10 244.04,266.93 245.07,268.10 245.07,268.10" fill="#a90d2e" />
<polygon points="219.88,306.00 219.88,306.00 220.40,289.67 221.04,276.82 221.42,270.40 222.07,279.39 222.45,290.96 223.35,292.24 224.25,293.53 225.02,299.95 226.31,302.52 227.59,303.81 228.88,304.45 230.16,303.55 231.06,303.81 231.96,305.09 232.47,306.00 232.47,306.00" fill="#8f8ac6" />
<rect x="216.80" y="112.50" width="42.10" height="195.00" fill="none" stroke="#3a3a3a" stroke-width="1.1"/>
<line x1="217.20" y1="307.50" x2="217.20" y2="310.30" stroke="#222" stroke-width="0.55" />
<line x1="221.26" y1="307.50" x2="221.26" y2="309.70" stroke="#222" stroke-width="0.55" />
<line x1="223.64" y1="307.50" x2="223.64" y2="309.70" stroke="#222" stroke-width="0.55" />
<line x1="225.33" y1="307.50" x2="225.33" y2="309.70" stroke="#222" stroke-width="0.55" />
<line x1="226.64" y1="307.50" x2="226.64" y2="309.70" stroke="#222" stroke-width="0.55" />
<line x1="227.71" y1="307.50" x2="227.71" y2="309.70" stroke="#222" stroke-width="0.55" />
<line x1="228.61" y1="307.50" x2="228.61" y2="309.70" stroke="#222" stroke-width="0.55" />
<line x1="229.39" y1="307.50" x2="229.39" y2="309.70" stroke="#222" stroke-width="0.55" />
<line x1="230.08" y1="307.50" x2="230.08" y2="309.70" stroke="#222" stroke-width="0.55" />
<line x1="230.70" y1="307.50" x2="230.70" y2="310.30" stroke="#222" stroke-width="0.55" />
<line x1="234.76" y1="307.50" x2="234.76" y2="309.70" stroke="#222" stroke-width="0.55" />
<line x1="237.14" y1="307.50" x2="237.14" y2="309.70" stroke="#222" stroke-width="0.55" />
<line x1="238.83" y1="307.50" x2="238.83" y2="309.70" stroke="#222" stroke-width="0.55" />
<line x1="240.14" y1="307.50" x2="240.14" y2="309.70" stroke="#222" stroke-width="0.55" />
<line x1="241.21" y1="307.50" x2="241.21" y2="309.70" stroke="#222" stroke-width="0.55" />
<line x1="242.11" y1="307.50" x2="242.11" y2="309.70" stroke="#222" stroke-width="0.55" />
<line x1="242.89" y1="307.50" x2="242.89" y2="309.70" stroke="#222" stroke-width="0.55" />
<line x1="243.58" y1="307.50" x2="243.58" y2="309.70" stroke="#222" stroke-width="0.55" />
<line x1="244.20" y1="307.50" x2="244.20" y2="310.30" stroke="#222" stroke-width="0.55" />
<line x1="248.26" y1="307.50" x2="248.26" y2="309.70" stroke="#222" stroke-width="0.55" />
<line x1="250.64" y1="307.50" x2="250.64" y2="309.70" stroke="#222" stroke-width="0.55" />
<line x1="252.33" y1="307.50" x2="252.33" y2="309.70" stroke="#222" stroke-width="0.55" />
<line x1="253.64" y1="307.50" x2="253.64" y2="309.70" stroke="#222" stroke-width="0.55" />
<line x1="254.71" y1="307.50" x2="254.71" y2="309.70" stroke="#222" stroke-width="0.55" />
<line x1="255.61" y1="307.50" x2="255.61" y2="309.70" stroke="#222" stroke-width="0.55" />
<line x1="256.39" y1="307.50" x2="256.39" y2="309.70" stroke="#222" stroke-width="0.55" />
<line x1="257.08" y1="307.50" x2="257.08" y2="309.70" stroke="#222" stroke-width="0.55" />
<line x1="257.70" y1="307.50" x2="257.70" y2="310.30" stroke="#222" stroke-width="0.55" />
<line x1="280.50" y1="153.40" x2="322.60" y2="153.40" stroke="#9aaccc" stroke-width="0.85" />
<line x1="280.50" y1="191.40" x2="322.60" y2="191.40" stroke="#f2c48a" stroke-width="0.85" />
<line x1="280.50" y1="229.50" x2="322.60" y2="229.50" stroke="#bcdca8" stroke-width="0.85" />
<line x1="280.50" y1="268.10" x2="322.60" y2="268.10" stroke="#e28a9a" stroke-width="0.85" />
<line x1="280.50" y1="306.00" x2="322.60" y2="306.00" stroke="#b4b0dc" stroke-width="0.85" />
<polygon points="284.65,153.40 284.65,116.90 285.45,116.90 285.50,129.40 286.20,151.40 288.80,153.20 289.10,153.40" fill="#1f3d7d" fill-opacity="0.95"/>
<rect x="284.65" y="116.90" width="0.80" height="12.00" fill="#ffffff" fill-opacity="0.45"/>
<polygon points="283.88,191.40 283.88,191.40 284.14,175.70 284.52,156.42 285.17,158.99 285.68,169.27 286.07,171.84 286.71,169.92 287.35,167.99 287.99,162.85 288.64,166.70 289.28,175.70 290.31,178.91 291.21,180.84 291.85,175.70 292.49,174.41 293.13,180.84 293.78,185.98 294.68,187.90 295.45,188.55 295.96,191.40 297.63,191.40 298.27,190.86 298.92,191.40 298.92,191.40" fill="#e08a1c" />
<polygon points="284.78,229.50 284.78,229.50 285.68,224.52 286.45,217.45 287.35,216.17 288.25,214.89 289.02,210.39 289.92,208.46 290.82,210.39 291.59,205.25 292.49,201.39 293.39,194.33 294.16,198.82 294.68,207.82 295.45,224.52 296.35,227.09 296.99,224.52 297.63,219.38 298.27,220.02 298.92,224.52 299.56,227.73 300.59,227.09 301.48,224.26 302.13,224.52 302.77,227.73 303.16,229.50 303.16,229.50" fill="#5da33a" />
<polygon points="283.11,268.10 283.11,268.10 283.63,253.70 284.14,233.14 284.91,232.50 285.68,243.42 286.45,251.13 287.35,246.63 288.25,245.99 289.28,244.70 290.31,238.28 290.82,238.28 291.59,244.70 292.49,239.56 293.13,236.99 293.78,238.28 294.42,247.27 295.06,253.70 295.96,254.34 296.99,253.70 298.02,255.62 298.53,262.69 299.30,266.55 300.20,267.19 301.10,266.55 301.87,268.10 302.13,268.10 302.13,268.10" fill="#a90d2e" />
<polygon points="284.78,306.00 284.78,306.00 285.42,289.67 286.07,274.25 286.71,270.40 287.35,276.82 287.99,287.10 288.64,290.96 289.54,289.67 290.56,293.53 291.59,292.89 292.49,294.81 293.39,297.38 294.42,299.31 295.45,297.38 296.35,292.89 297.24,292.24 298.02,294.81 298.53,299.95 299.56,301.24 300.84,302.52 301.87,303.81 302.77,306.00 302.77,306.00" fill="#8f8ac6" />
<rect x="280.50" y="112.50" width="42.10" height="195.00" fill="none" stroke="#3a3a3a" stroke-width="1.1"/>
<line x1="280.90" y1="307.50" x2="280.90" y2="310.30" stroke="#222" stroke-width="0.55" />
<line x1="284.96" y1="307.50" x2="284.96" y2="309.70" stroke="#222" stroke-width="0.55" />
<line x1="287.34" y1="307.50" x2="287.34" y2="309.70" stroke="#222" stroke-width="0.55" />
<line x1="289.03" y1="307.50" x2="289.03" y2="309.70" stroke="#222" stroke-width="0.55" />
<line x1="290.34" y1="307.50" x2="290.34" y2="309.70" stroke="#222" stroke-width="0.55" />
<line x1="291.41" y1="307.50" x2="291.41" y2="309.70" stroke="#222" stroke-width="0.55" />
<line x1="292.31" y1="307.50" x2="292.31" y2="309.70" stroke="#222" stroke-width="0.55" />
<line x1="293.09" y1="307.50" x2="293.09" y2="309.70" stroke="#222" stroke-width="0.55" />
<line x1="293.78" y1="307.50" x2="293.78" y2="309.70" stroke="#222" stroke-width="0.55" />
<line x1="294.40" y1="307.50" x2="294.40" y2="310.30" stroke="#222" stroke-width="0.55" />
<line x1="298.46" y1="307.50" x2="298.46" y2="309.70" stroke="#222" stroke-width="0.55" />
<line x1="300.84" y1="307.50" x2="300.84" y2="309.70" stroke="#222" stroke-width="0.55" />
<line x1="302.53" y1="307.50" x2="302.53" y2="309.70" stroke="#222" stroke-width="0.55" />
<line x1="303.84" y1="307.50" x2="303.84" y2="309.70" stroke="#222" stroke-width="0.55" />
<line x1="304.91" y1="307.50" x2="304.91" y2="309.70" stroke="#222" stroke-width="0.55" />
<line x1="305.81" y1="307.50" x2="305.81" y2="309.70" stroke="#222" stroke-width="0.55" />
<line x1="306.59" y1="307.50" x2="306.59" y2="309.70" stroke="#222" stroke-width="0.55" />
<line x1="307.28" y1="307.50" x2="307.28" y2="309.70" stroke="#222" stroke-width="0.55" />
<line x1="307.90" y1="307.50" x2="307.90" y2="310.30" stroke="#222" stroke-width="0.55" />
<line x1="311.96" y1="307.50" x2="311.96" y2="309.70" stroke="#222" stroke-width="0.55" />
<line x1="314.34" y1="307.50" x2="314.34" y2="309.70" stroke="#222" stroke-width="0.55" />
<line x1="316.03" y1="307.50" x2="316.03" y2="309.70" stroke="#222" stroke-width="0.55" />
<line x1="317.34" y1="307.50" x2="317.34" y2="309.70" stroke="#222" stroke-width="0.55" />
<line x1="318.41" y1="307.50" x2="318.41" y2="309.70" stroke="#222" stroke-width="0.55" />
<line x1="319.31" y1="307.50" x2="319.31" y2="309.70" stroke="#222" stroke-width="0.55" />
<line x1="320.09" y1="307.50" x2="320.09" y2="309.70" stroke="#222" stroke-width="0.55" />
<line x1="320.78" y1="307.50" x2="320.78" y2="309.70" stroke="#222" stroke-width="0.55" />
<line x1="321.40" y1="307.50" x2="321.40" y2="310.30" stroke="#222" stroke-width="0.55" />
<line x1="344.20" y1="153.40" x2="386.30" y2="153.40" stroke="#9aaccc" stroke-width="0.85" />
<line x1="344.20" y1="191.40" x2="386.30" y2="191.40" stroke="#f2c48a" stroke-width="0.85" />
<line x1="344.20" y1="229.50" x2="386.30" y2="229.50" stroke="#bcdca8" stroke-width="0.85" />
<line x1="344.20" y1="268.10" x2="386.30" y2="268.10" stroke="#e28a9a" stroke-width="0.85" />
<line x1="344.20" y1="306.00" x2="386.30" y2="306.00" stroke="#b4b0dc" stroke-width="0.85" />
<polygon points="349.25,153.40 349.25,116.90 350.05,116.90 350.10,129.40 351.20,146.70 353.00,146.40 355.50,148.90 357.70,150.90 361.00,153.20 361.30,153.40" fill="#1f3d7d" fill-opacity="0.95"/>
<rect x="349.25" y="116.90" width="0.80" height="12.00" fill="#ffffff" fill-opacity="0.45"/>
<polygon points="348.14,191.40 348.14,191.40 348.78,182.12 349.42,162.85 349.81,155.78 350.45,160.28 350.97,173.13 351.74,175.70 352.25,171.84 353.02,170.56 353.92,172.48 355.21,172.48 356.11,175.70 356.88,178.27 357.78,182.76 358.68,181.48 359.45,180.19 360.35,182.12 361.24,185.33 362.27,187.26 363.30,189.19 364.20,190.47 365.10,191.40 366.13,191.40 368.05,190.86 368.70,191.40 368.70,191.40" fill="#e08a1c" />
<polygon points="347.88,229.50 347.88,229.50 348.78,221.95 349.42,210.39 350.07,201.39 350.71,194.97 351.35,194.97 351.99,201.39 352.64,210.39 353.28,210.39 353.92,205.25 354.82,202.68 355.59,206.53 356.49,214.24 357.39,216.81 358.16,217.45 359.06,219.38 359.96,220.02 360.99,216.81 362.02,212.96 362.92,216.81 363.56,223.24 364.59,225.81 365.48,227.09 366.77,229.50 367.16,229.50 368.70,229.50 369.72,227.09 370.50,226.83 371.27,228.38 371.91,229.50 371.91,229.50" fill="#5da33a" />
<polygon points="347.88,268.10 347.88,268.10 348.40,260.12 349.17,247.27 350.07,240.21 350.71,242.13 351.35,248.56 352.25,251.13 353.02,245.99 353.92,238.28 354.82,236.35 355.59,238.28 356.49,243.42 357.13,238.28 357.78,233.14 358.42,232.50 359.06,235.71 359.70,243.42 360.73,247.27 362.02,247.92 362.92,244.70 363.81,239.56 364.59,236.99 365.48,238.28 366.13,245.99 366.77,253.70 367.41,266.55 368.05,268.10 368.70,267.19 369.98,266.29 371.01,267.57 371.52,268.10 371.52,268.10" fill="#a90d2e" />
<polygon points="348.14,306.00 348.14,306.00 348.78,289.67 349.42,279.39 350.07,271.68 350.71,275.54 351.35,284.53 351.99,292.24 353.02,294.81 353.92,292.89 354.82,291.60 355.59,293.53 356.49,294.81 357.39,289.67 358.16,284.53 358.68,285.18 359.45,290.96 360.35,296.10 361.24,297.38 362.27,299.95 363.30,302.52 364.20,304.45 365.10,304.83 366.13,303.81 367.16,303.16 368.05,304.45 369.34,305.35 369.98,306.00 369.98,306.00" fill="#8f8ac6" />
<rect x="344.20" y="112.50" width="42.10" height="195.00" fill="none" stroke="#3a3a3a" stroke-width="1.1"/>
<line x1="344.60" y1="307.50" x2="344.60" y2="310.30" stroke="#222" stroke-width="0.55" />
<line x1="348.66" y1="307.50" x2="348.66" y2="309.70" stroke="#222" stroke-width="0.55" />
<line x1="351.04" y1="307.50" x2="351.04" y2="309.70" stroke="#222" stroke-width="0.55" />
<line x1="352.73" y1="307.50" x2="352.73" y2="309.70" stroke="#222" stroke-width="0.55" />
<line x1="354.04" y1="307.50" x2="354.04" y2="309.70" stroke="#222" stroke-width="0.55" />
<line x1="355.11" y1="307.50" x2="355.11" y2="309.70" stroke="#222" stroke-width="0.55" />
<line x1="356.01" y1="307.50" x2="356.01" y2="309.70" stroke="#222" stroke-width="0.55" />
<line x1="356.79" y1="307.50" x2="356.79" y2="309.70" stroke="#222" stroke-width="0.55" />
<line x1="357.48" y1="307.50" x2="357.48" y2="309.70" stroke="#222" stroke-width="0.55" />
<line x1="358.10" y1="307.50" x2="358.10" y2="310.30" stroke="#222" stroke-width="0.55" />
<line x1="362.16" y1="307.50" x2="362.16" y2="309.70" stroke="#222" stroke-width="0.55" />
<line x1="364.54" y1="307.50" x2="364.54" y2="309.70" stroke="#222" stroke-width="0.55" />
<line x1="366.23" y1="307.50" x2="366.23" y2="309.70" stroke="#222" stroke-width="0.55" />
<line x1="367.54" y1="307.50" x2="367.54" y2="309.70" stroke="#222" stroke-width="0.55" />
<line x1="368.61" y1="307.50" x2="368.61" y2="309.70" stroke="#222" stroke-width="0.55" />
<line x1="369.51" y1="307.50" x2="369.51" y2="309.70" stroke="#222" stroke-width="0.55" />
<line x1="370.29" y1="307.50" x2="370.29" y2="309.70" stroke="#222" stroke-width="0.55" />
<line x1="370.98" y1="307.50" x2="370.98" y2="309.70" stroke="#222" stroke-width="0.55" />
<line x1="371.60" y1="307.50" x2="371.60" y2="310.30" stroke="#222" stroke-width="0.55" />
<line x1="375.66" y1="307.50" x2="375.66" y2="309.70" stroke="#222" stroke-width="0.55" />
<line x1="378.04" y1="307.50" x2="378.04" y2="309.70" stroke="#222" stroke-width="0.55" />
<line x1="379.73" y1="307.50" x2="379.73" y2="309.70" stroke="#222" stroke-width="0.55" />
<line x1="381.04" y1="307.50" x2="381.04" y2="309.70" stroke="#222" stroke-width="0.55" />
<line x1="382.11" y1="307.50" x2="382.11" y2="309.70" stroke="#222" stroke-width="0.55" />
<line x1="383.01" y1="307.50" x2="383.01" y2="309.70" stroke="#222" stroke-width="0.55" />
<line x1="383.79" y1="307.50" x2="383.79" y2="309.70" stroke="#222" stroke-width="0.55" />
<line x1="384.48" y1="307.50" x2="384.48" y2="309.70" stroke="#222" stroke-width="0.55" />
<line x1="385.10" y1="307.50" x2="385.10" y2="310.30" stroke="#222" stroke-width="0.55" />
<line x1="407.50" y1="153.40" x2="449.60" y2="153.40" stroke="#9aaccc" stroke-width="0.85" />
<line x1="407.50" y1="191.40" x2="449.60" y2="191.40" stroke="#f2c48a" stroke-width="0.85" />
<line x1="407.50" y1="229.50" x2="449.60" y2="229.50" stroke="#bcdca8" stroke-width="0.85" />
<line x1="407.50" y1="268.10" x2="449.60" y2="268.10" stroke="#e28a9a" stroke-width="0.85" />
<line x1="407.50" y1="306.00" x2="449.60" y2="306.00" stroke="#b4b0dc" stroke-width="0.85" />
<polygon points="412.05,153.40 412.05,116.90 412.85,116.90 412.90,129.40 413.60,151.90 416.80,153.20 417.10,153.40" fill="#1f3d7d" fill-opacity="0.95"/>
<rect x="412.05" y="116.90" width="0.80" height="12.00" fill="#ffffff" fill-opacity="0.45"/>
<polygon points="411.78,191.40 411.78,191.40 412.42,182.12 413.07,162.85 413.45,155.78 414.09,162.85 414.74,179.55 415.64,182.76 416.92,182.76 418.21,183.41 419.11,180.84 419.88,178.27 420.52,177.62 421.16,178.91 422.06,183.41 422.96,184.69 423.99,185.33 425.02,185.98 425.92,188.55 426.56,190.47 427.84,191.40 428.87,191.40 431.05,190.86 431.70,191.40 431.70,191.40" fill="#e08a1c" />
<polygon points="410.88,229.50 410.88,229.50 411.40,220.67 412.17,205.25 412.68,194.33 413.45,198.82 414.35,209.10 415.25,219.38 416.02,224.52 416.92,223.24 417.82,221.31 418.85,219.38 420.13,217.45 421.16,217.45 422.06,218.10 422.96,220.02 423.99,224.52 425.02,227.73 426.56,227.73 427.84,228.12 428.87,229.50 429.13,229.50 429.13,229.50" fill="#5da33a" />
<polygon points="410.88,268.10 410.88,268.10 411.40,256.27 412.17,243.42 412.68,239.56 413.45,242.13 413.97,248.56 414.74,247.27 415.64,248.56 416.54,250.48 417.56,246.63 418.21,245.35 418.85,249.20 419.88,244.70 420.78,239.56 421.68,236.99 422.45,235.07 423.35,232.88 423.99,233.14 424.63,238.28 425.27,242.13 425.92,243.42 426.81,242.78 427.59,240.85 428.48,241.49 429.13,248.56 429.77,256.27 430.41,261.41 431.05,266.55 431.70,268.10 431.70,268.10" fill="#a90d2e" />
<polygon points="410.88,306.00 410.88,306.00 411.40,289.67 412.17,276.82 412.68,270.40 413.45,276.82 413.97,284.53 414.74,290.96 415.64,292.24 416.54,296.10 417.56,299.31 418.59,298.67 419.49,294.81 420.39,290.96 421.42,289.03 422.45,289.67 423.35,285.82 424.24,281.96 425.02,283.25 425.92,289.67 426.81,296.10 427.84,301.24 428.87,304.45 429.77,306.00 429.77,306.00" fill="#8f8ac6" />
<rect x="407.50" y="112.50" width="42.10" height="195.00" fill="none" stroke="#3a3a3a" stroke-width="1.1"/>
<line x1="407.90" y1="307.50" x2="407.90" y2="310.30" stroke="#222" stroke-width="0.55" />
<line x1="411.96" y1="307.50" x2="411.96" y2="309.70" stroke="#222" stroke-width="0.55" />
<line x1="414.34" y1="307.50" x2="414.34" y2="309.70" stroke="#222" stroke-width="0.55" />
<line x1="416.03" y1="307.50" x2="416.03" y2="309.70" stroke="#222" stroke-width="0.55" />
<line x1="417.34" y1="307.50" x2="417.34" y2="309.70" stroke="#222" stroke-width="0.55" />
<line x1="418.41" y1="307.50" x2="418.41" y2="309.70" stroke="#222" stroke-width="0.55" />
<line x1="419.31" y1="307.50" x2="419.31" y2="309.70" stroke="#222" stroke-width="0.55" />
<line x1="420.09" y1="307.50" x2="420.09" y2="309.70" stroke="#222" stroke-width="0.55" />
<line x1="420.78" y1="307.50" x2="420.78" y2="309.70" stroke="#222" stroke-width="0.55" />
<line x1="421.40" y1="307.50" x2="421.40" y2="310.30" stroke="#222" stroke-width="0.55" />
<line x1="425.46" y1="307.50" x2="425.46" y2="309.70" stroke="#222" stroke-width="0.55" />
<line x1="427.84" y1="307.50" x2="427.84" y2="309.70" stroke="#222" stroke-width="0.55" />
<line x1="429.53" y1="307.50" x2="429.53" y2="309.70" stroke="#222" stroke-width="0.55" />
<line x1="430.84" y1="307.50" x2="430.84" y2="309.70" stroke="#222" stroke-width="0.55" />
<line x1="431.91" y1="307.50" x2="431.91" y2="309.70" stroke="#222" stroke-width="0.55" />
<line x1="432.81" y1="307.50" x2="432.81" y2="309.70" stroke="#222" stroke-width="0.55" />
<line x1="433.59" y1="307.50" x2="433.59" y2="309.70" stroke="#222" stroke-width="0.55" />
<line x1="434.28" y1="307.50" x2="434.28" y2="309.70" stroke="#222" stroke-width="0.55" />
<line x1="434.90" y1="307.50" x2="434.90" y2="310.30" stroke="#222" stroke-width="0.55" />
<line x1="438.96" y1="307.50" x2="438.96" y2="309.70" stroke="#222" stroke-width="0.55" />
<line x1="441.34" y1="307.50" x2="441.34" y2="309.70" stroke="#222" stroke-width="0.55" />
<line x1="443.03" y1="307.50" x2="443.03" y2="309.70" stroke="#222" stroke-width="0.55" />
<line x1="444.34" y1="307.50" x2="444.34" y2="309.70" stroke="#222" stroke-width="0.55" />
<line x1="445.41" y1="307.50" x2="445.41" y2="309.70" stroke="#222" stroke-width="0.55" />
<line x1="446.31" y1="307.50" x2="446.31" y2="309.70" stroke="#222" stroke-width="0.55" />
<line x1="447.09" y1="307.50" x2="447.09" y2="309.70" stroke="#222" stroke-width="0.55" />
<line x1="447.78" y1="307.50" x2="447.78" y2="309.70" stroke="#222" stroke-width="0.55" />
<line x1="448.40" y1="307.50" x2="448.40" y2="310.30" stroke="#222" stroke-width="0.55" />
<line x1="471.30" y1="153.40" x2="513.40" y2="153.40" stroke="#9aaccc" stroke-width="0.85" />
<line x1="471.30" y1="190.60" x2="513.40" y2="190.60" stroke="#f2c48a" stroke-width="0.85" />
<line x1="471.30" y1="228.70" x2="513.40" y2="228.70" stroke="#bcdca8" stroke-width="0.85" />
<line x1="471.30" y1="267.30" x2="513.40" y2="267.30" stroke="#e28a9a" stroke-width="0.85" />
<line x1="471.30" y1="306.00" x2="513.40" y2="306.00" stroke="#b4b0dc" stroke-width="0.85" />
<polygon points="476.25,153.40 476.25,116.90 477.05,116.90 477.10,129.40 477.80,150.90 480.40,152.60 481.50,153.20 481.80,153.40" fill="#1f3d7d" fill-opacity="0.95"/>
<rect x="476.25" y="116.90" width="0.80" height="12.00" fill="#ffffff" fill-opacity="0.45"/>
<polygon points="475.78,190.60 475.78,190.60 476.17,175.70 476.42,154.50 477.07,155.14 477.45,173.13 477.97,183.41 478.74,185.33 479.64,185.98 480.28,185.33 480.92,187.26 481.82,187.90 482.85,189.19 483.88,188.55 484.78,189.19 485.42,190.09 487.35,190.60 487.99,190.60 487.99,190.60" fill="#e08a1c" />
<polygon points="474.88,228.70 474.88,228.70 475.40,221.95 476.17,211.67 477.07,205.89 477.71,207.82 478.35,211.67 479.25,206.53 480.28,198.82 481.31,193.68 482.21,196.25 482.85,203.96 483.49,211.67 484.39,218.10 485.42,220.02 486.45,224.52 487.35,228.70 491.20,228.70 492.10,226.45 492.87,226.45 493.77,228.70 495.70,228.70 496.60,226.45 497.37,226.06 498.27,228.70 498.27,228.70" fill="#5da33a" />
<polygon points="475.14,267.30 475.14,267.30 475.78,253.70 476.42,235.71 477.07,230.83 477.71,235.71 478.35,251.13 478.99,257.55 479.64,261.41 480.54,262.69 481.31,261.66 482.21,261.15 482.85,263.98 483.88,265.26 485.16,265.90 486.70,266.29 487.99,266.55 489.27,266.29 490.30,267.30 490.81,267.30 490.81,267.30" fill="#a90d2e" />
<polygon points="475.78,306.00 475.78,306.00 476.17,288.39 476.68,270.40 477.07,276.82 477.45,296.10 477.97,298.67 478.74,299.95 479.64,301.88 480.92,303.16 482.21,302.52 482.85,301.24 483.49,300.98 483.88,303.81 484.39,305.09 485.42,305.09 486.06,306.00 486.06,306.00" fill="#8f8ac6" />
<rect x="471.30" y="112.50" width="42.10" height="195.00" fill="none" stroke="#3a3a3a" stroke-width="1.1"/>
<line x1="471.70" y1="307.50" x2="471.70" y2="310.30" stroke="#222" stroke-width="0.55" />
<line x1="475.76" y1="307.50" x2="475.76" y2="309.70" stroke="#222" stroke-width="0.55" />
<line x1="478.14" y1="307.50" x2="478.14" y2="309.70" stroke="#222" stroke-width="0.55" />
<line x1="479.83" y1="307.50" x2="479.83" y2="309.70" stroke="#222" stroke-width="0.55" />
<line x1="481.14" y1="307.50" x2="481.14" y2="309.70" stroke="#222" stroke-width="0.55" />
<line x1="482.21" y1="307.50" x2="482.21" y2="309.70" stroke="#222" stroke-width="0.55" />
<line x1="483.11" y1="307.50" x2="483.11" y2="309.70" stroke="#222" stroke-width="0.55" />
<line x1="483.89" y1="307.50" x2="483.89" y2="309.70" stroke="#222" stroke-width="0.55" />
<line x1="484.58" y1="307.50" x2="484.58" y2="309.70" stroke="#222" stroke-width="0.55" />
<line x1="485.20" y1="307.50" x2="485.20" y2="310.30" stroke="#222" stroke-width="0.55" />
<line x1="489.26" y1="307.50" x2="489.26" y2="309.70" stroke="#222" stroke-width="0.55" />
<line x1="491.64" y1="307.50" x2="491.64" y2="309.70" stroke="#222" stroke-width="0.55" />
<line x1="493.33" y1="307.50" x2="493.33" y2="309.70" stroke="#222" stroke-width="0.55" />
<line x1="494.64" y1="307.50" x2="494.64" y2="309.70" stroke="#222" stroke-width="0.55" />
<line x1="495.71" y1="307.50" x2="495.71" y2="309.70" stroke="#222" stroke-width="0.55" />
<line x1="496.61" y1="307.50" x2="496.61" y2="309.70" stroke="#222" stroke-width="0.55" />
<line x1="497.39" y1="307.50" x2="497.39" y2="309.70" stroke="#222" stroke-width="0.55" />
<line x1="498.08" y1="307.50" x2="498.08" y2="309.70" stroke="#222" stroke-width="0.55" />
<line x1="498.70" y1="307.50" x2="498.70" y2="310.30" stroke="#222" stroke-width="0.55" />
<line x1="502.76" y1="307.50" x2="502.76" y2="309.70" stroke="#222" stroke-width="0.55" />
<line x1="505.14" y1="307.50" x2="505.14" y2="309.70" stroke="#222" stroke-width="0.55" />
<line x1="506.83" y1="307.50" x2="506.83" y2="309.70" stroke="#222" stroke-width="0.55" />
<line x1="508.14" y1="307.50" x2="508.14" y2="309.70" stroke="#222" stroke-width="0.55" />
<line x1="509.21" y1="307.50" x2="509.21" y2="309.70" stroke="#222" stroke-width="0.55" />
<line x1="510.11" y1="307.50" x2="510.11" y2="309.70" stroke="#222" stroke-width="0.55" />
<line x1="510.89" y1="307.50" x2="510.89" y2="309.70" stroke="#222" stroke-width="0.55" />
<line x1="511.58" y1="307.50" x2="511.58" y2="309.70" stroke="#222" stroke-width="0.55" />
<line x1="512.20" y1="307.50" x2="512.20" y2="310.30" stroke="#222" stroke-width="0.55" />
<rect x="131.10" y="323.80" width="9.60" height="5.00" fill="#2d4a8a" />
<text x="143.80" y="327.90" font-size="4.25" text-anchor="start" fill="#222" font-weight="normal" stroke="#222" stroke-width="0.07">Day 0</text>
<rect x="164.00" y="323.80" width="9.60" height="5.00" fill="#e08e1a" />
<text x="176.60" y="327.90" font-size="4.25" text-anchor="start" fill="#222" font-weight="normal" stroke="#222" stroke-width="0.07">Day 3 Ctrl</text>
<rect x="204.50" y="323.80" width="9.60" height="5.00" fill="#6aaa3a" />
<text x="216.90" y="327.90" font-size="4.25" text-anchor="start" fill="#222" font-weight="normal" stroke="#222" stroke-width="0.07">Day 3 GDNF/GFR&#945;1</text>
<rect x="266.70" y="323.80" width="9.60" height="5.00" fill="#a8102c" />
<text x="279.00" y="327.90" font-size="4.25" text-anchor="start" fill="#222" font-weight="normal" stroke="#222" stroke-width="0.07">Day 7 Ctrl</text>
<rect x="307.50" y="323.80" width="9.60" height="5.00" fill="#9490c8" />
<text x="319.50" y="327.90" font-size="4.25" text-anchor="start" fill="#222" font-weight="normal" stroke="#222" stroke-width="0.07">Day 7 GDNF/GFR&#945;1</text>
<rect x="94.20" y="400.20" width="10.11" height="10.12" fill="#3848a0" />
<rect x="104.31" y="400.20" width="10.11" height="10.12" fill="#4050a8" />
<rect x="114.43" y="400.20" width="10.11" height="10.12" fill="#3848a0" />
<rect x="124.54" y="400.20" width="10.11" height="10.12" fill="#4050a8" />
<rect x="134.66" y="400.20" width="10.11" height="10.12" fill="#4050a8" />
<rect x="144.77" y="400.20" width="10.11" height="10.12" fill="#4454a8" />
<rect x="154.88" y="400.20" width="10.11" height="10.12" fill="#3848a0" />
<rect x="165.00" y="400.20" width="10.11" height="10.12" fill="#5060b0" />
<rect x="175.11" y="400.20" width="10.11" height="10.12" fill="#6070c0" />
<rect x="185.23" y="400.20" width="10.11" height="10.12" fill="#3848a0" />
<rect x="195.34" y="400.20" width="10.11" height="10.12" fill="#a0a4d8" />
<rect x="205.45" y="400.20" width="10.11" height="10.12" fill="#6878c0" />
<rect x="215.57" y="400.20" width="10.11" height="10.12" fill="#7080c8" />
<rect x="225.68" y="400.20" width="10.11" height="10.12" fill="#8890d0" />
<rect x="235.80" y="400.20" width="10.11" height="10.12" fill="#8088cc" />
<rect x="245.91" y="400.20" width="10.11" height="10.12" fill="#6070c0" />
<rect x="256.02" y="400.20" width="10.11" height="10.12" fill="#7078c4" />
<rect x="266.14" y="400.20" width="10.11" height="10.12" fill="#c0c4e8" />
<rect x="276.25" y="400.20" width="10.11" height="10.12" fill="#f8f8fc" />
<rect x="286.37" y="400.20" width="10.11" height="10.12" fill="#cc2428" />
<rect x="296.48" y="400.20" width="10.11" height="10.12" fill="#cc2428" />
<rect x="306.59" y="400.20" width="10.11" height="10.12" fill="#9098d0" />
<rect x="316.71" y="400.20" width="10.11" height="10.12" fill="#4858b0" />
<rect x="326.82" y="400.20" width="10.11" height="10.12" fill="#4050a8" />
<rect x="336.94" y="400.20" width="10.11" height="10.12" fill="#6870c0" />
<rect x="347.05" y="400.20" width="10.11" height="10.12" fill="#5060b0" />
<rect x="357.16" y="400.20" width="10.11" height="10.12" fill="#c0c4e8" />
<rect x="367.28" y="400.20" width="10.11" height="10.12" fill="#8890d0" />
<rect x="94.20" y="410.32" width="10.11" height="10.12" fill="#b0b4e0" />
<rect x="104.31" y="410.32" width="10.11" height="10.12" fill="#9098d0" />
<rect x="114.43" y="410.32" width="10.11" height="10.12" fill="#b0b4e0" />
<rect x="124.54" y="410.32" width="10.11" height="10.12" fill="#8890d0" />
<rect x="134.66" y="410.32" width="10.11" height="10.12" fill="#b0b4e0" />
<rect x="144.77" y="410.32" width="10.11" height="10.12" fill="#b0b4e0" />
<rect x="154.88" y="410.32" width="10.11" height="10.12" fill="#f8e0e0" />
<rect x="165.00" y="410.32" width="10.11" height="10.12" fill="#a8acd8" />
<rect x="175.11" y="410.32" width="10.11" height="10.12" fill="#8088c8" />
<rect x="185.23" y="410.32" width="10.11" height="10.12" fill="#7884c8" />
<rect x="195.34" y="410.32" width="10.11" height="10.12" fill="#a0a8d8" />
<rect x="205.45" y="410.32" width="10.11" height="10.12" fill="#8890d0" />
<rect x="215.57" y="410.32" width="10.11" height="10.12" fill="#8088cc" />
<rect x="225.68" y="410.32" width="10.11" height="10.12" fill="#a0a8dc" />
<rect x="235.80" y="410.32" width="10.11" height="10.12" fill="#d8dcf0" />
<rect x="245.91" y="410.32" width="10.11" height="10.12" fill="#b8bce4" />
<rect x="256.02" y="410.32" width="10.11" height="10.12" fill="#a8acdc" />
<rect x="266.14" y="410.32" width="10.11" height="10.12" fill="#4050a8" />
<rect x="276.25" y="410.32" width="10.11" height="10.12" fill="#5060b0" />
<rect x="286.37" y="410.32" width="10.11" height="10.12" fill="#a0a4d8" />
<rect x="296.48" y="410.32" width="10.11" height="10.12" fill="#a0a4d8" />
<rect x="306.59" y="410.32" width="10.11" height="10.12" fill="#e8e8f4" />
<rect x="316.71" y="410.32" width="10.11" height="10.12" fill="#b0b4e0" />
<rect x="326.82" y="410.32" width="10.11" height="10.12" fill="#c8cce8" />
<rect x="336.94" y="410.32" width="10.11" height="10.12" fill="#9ca0d4" />
<rect x="347.05" y="410.32" width="10.11" height="10.12" fill="#c0c4e8" />
<rect x="357.16" y="410.32" width="10.11" height="10.12" fill="#5868b8" />
<rect x="367.28" y="410.32" width="10.11" height="10.12" fill="#8890d0" />
<rect x="94.20" y="420.44" width="10.11" height="10.12" fill="#e08088" />
<rect x="104.31" y="420.44" width="10.11" height="10.12" fill="#d85860" />
<rect x="114.43" y="420.44" width="10.11" height="10.12" fill="#dc6468" />
<rect x="124.54" y="420.44" width="10.11" height="10.12" fill="#f0b8b8" />
<rect x="134.66" y="420.44" width="10.11" height="10.12" fill="#e89898" />
<rect x="144.77" y="420.44" width="10.11" height="10.12" fill="#f4c8cc" />
<rect x="154.88" y="420.44" width="10.11" height="10.12" fill="#e89494" />
<rect x="165.00" y="420.44" width="10.11" height="10.12" fill="#dc5c60" />
<rect x="175.11" y="420.44" width="10.11" height="10.12" fill="#dc6064" />
<rect x="185.23" y="420.44" width="10.11" height="10.12" fill="#d84c50" />
<rect x="195.34" y="420.44" width="10.11" height="10.12" fill="#cc2028" />
<rect x="205.45" y="420.44" width="10.11" height="10.12" fill="#cc2028" />
<rect x="215.57" y="420.44" width="10.11" height="10.12" fill="#cc2028" />
<rect x="225.68" y="420.44" width="10.11" height="10.12" fill="#d44044" />
<rect x="235.80" y="420.44" width="10.11" height="10.12" fill="#cc2020" />
<rect x="245.91" y="420.44" width="10.11" height="10.12" fill="#d02c30" />
<rect x="256.02" y="420.44" width="10.11" height="10.12" fill="#cc2428" />
<rect x="266.14" y="420.44" width="10.11" height="10.12" fill="#d85458" />
<rect x="276.25" y="420.44" width="10.11" height="10.12" fill="#d03038" />
<rect x="286.37" y="420.44" width="10.11" height="10.12" fill="#d8dcf0" />
<rect x="296.48" y="420.44" width="10.11" height="10.12" fill="#fafafc" />
<rect x="306.59" y="420.44" width="10.11" height="10.12" fill="#b8bce4" />
<rect x="316.71" y="420.44" width="10.11" height="10.12" fill="#b8bce4" />
<rect x="326.82" y="420.44" width="10.11" height="10.12" fill="#c8cce8" />
<rect x="336.94" y="420.44" width="10.11" height="10.12" fill="#b0b4e0" />
<rect x="347.05" y="420.44" width="10.11" height="10.12" fill="#a0a8d8" />
<rect x="357.16" y="420.44" width="10.11" height="10.12" fill="#9098d0" />
<rect x="367.28" y="420.44" width="10.11" height="10.12" fill="#9098d0" />
<rect x="94.20" y="430.56" width="10.11" height="10.12" fill="#e07c84" />
<rect x="104.31" y="430.56" width="10.11" height="10.12" fill="#dc6c70" />
<rect x="114.43" y="430.56" width="10.11" height="10.12" fill="#e07878" />
<rect x="124.54" y="430.56" width="10.11" height="10.12" fill="#d84c50" />
<rect x="134.66" y="430.56" width="10.11" height="10.12" fill="#dc5c60" />
<rect x="144.77" y="430.56" width="10.11" height="10.12" fill="#cc3038" />
<rect x="154.88" y="430.56" width="10.11" height="10.12" fill="#e07070" />
<rect x="165.00" y="430.56" width="10.11" height="10.12" fill="#dc5458" />
<rect x="175.11" y="430.56" width="10.11" height="10.12" fill="#dc5c60" />
<rect x="185.23" y="430.56" width="10.11" height="10.12" fill="#f8dcdc" />
<rect x="195.34" y="430.56" width="10.11" height="10.12" fill="#dcdff0" />
<rect x="205.45" y="430.56" width="10.11" height="10.12" fill="#dcdcf0" />
<rect x="215.57" y="430.56" width="10.11" height="10.12" fill="#f8f8fc" />
<rect x="225.68" y="430.56" width="10.11" height="10.12" fill="#e89498" />
<rect x="235.80" y="430.56" width="10.11" height="10.12" fill="#f8e0e0" />
<rect x="245.91" y="430.56" width="10.11" height="10.12" fill="#f0b8b8" />
<rect x="256.02" y="430.56" width="10.11" height="10.12" fill="#f0bcbc" />
<rect x="266.14" y="430.56" width="10.11" height="10.12" fill="#e07478" />
<rect x="276.25" y="430.56" width="10.11" height="10.12" fill="#f0c0c0" />
<rect x="286.37" y="430.56" width="10.11" height="10.12" fill="#f8d8d8" />
<rect x="296.48" y="430.56" width="10.11" height="10.12" fill="#dcdcf0" />
<rect x="306.59" y="430.56" width="10.11" height="10.12" fill="#b0b4e0" />
<rect x="316.71" y="430.56" width="10.11" height="10.12" fill="#d03038" />
<rect x="326.82" y="430.56" width="10.11" height="10.12" fill="#d03038" />
<rect x="336.94" y="430.56" width="10.11" height="10.12" fill="#cc2830" />
<rect x="347.05" y="430.56" width="10.11" height="10.12" fill="#cc2830" />
<rect x="357.16" y="430.56" width="10.11" height="10.12" fill="#cc2830" />
<rect x="367.28" y="430.56" width="10.11" height="10.12" fill="#dc6468" />
<rect x="94.20" y="440.68" width="10.11" height="10.12" fill="#f4c4c8" />
<rect x="104.31" y="440.68" width="10.11" height="10.12" fill="#fefefe" />
<rect x="114.43" y="440.68" width="10.11" height="10.12" fill="#fcecec" />
<rect x="124.54" y="440.68" width="10.11" height="10.12" fill="#f0b8bc" />
<rect x="134.66" y="440.68" width="10.11" height="10.12" fill="#fefefe" />
<rect x="144.77" y="440.68" width="10.11" height="10.12" fill="#fce8e8" />
<rect x="154.88" y="440.68" width="10.11" height="10.12" fill="#b0b4e0" />
<rect x="165.00" y="440.68" width="10.11" height="10.12" fill="#a0a8dc" />
<rect x="175.11" y="440.68" width="10.11" height="10.12" fill="#d8d8f0" />
<rect x="185.23" y="440.68" width="10.11" height="10.12" fill="#e8a0a4" />
<rect x="195.34" y="440.68" width="10.11" height="10.12" fill="#b0b4e0" />
<rect x="205.45" y="440.68" width="10.11" height="10.12" fill="#fef8f8" />
<rect x="215.57" y="440.68" width="10.11" height="10.12" fill="#fce8e8" />
<rect x="225.68" y="440.68" width="10.11" height="10.12" fill="#7080c8" />
<rect x="235.80" y="440.68" width="10.11" height="10.12" fill="#7888cc" />
<rect x="245.91" y="440.68" width="10.11" height="10.12" fill="#a0a8d8" />
<rect x="256.02" y="440.68" width="10.11" height="10.12" fill="#a0a8d8" />
<rect x="266.14" y="440.68" width="10.11" height="10.12" fill="#8890d0" />
<rect x="276.25" y="440.68" width="10.11" height="10.12" fill="#9098d0" />
<rect x="286.37" y="440.68" width="10.11" height="10.12" fill="#5868b8" />
<rect x="296.48" y="440.68" width="10.11" height="10.12" fill="#8890d0" />
<rect x="306.59" y="440.68" width="10.11" height="10.12" fill="#cc2020" />
<rect x="316.71" y="440.68" width="10.11" height="10.12" fill="#f0b0b4" />
<rect x="326.82" y="440.68" width="10.11" height="10.12" fill="#f0b0b4" />
<rect x="336.94" y="440.68" width="10.11" height="10.12" fill="#f0bcbc" />
<rect x="347.05" y="440.68" width="10.11" height="10.12" fill="#f8d8d8" />
<rect x="357.16" y="440.68" width="10.11" height="10.12" fill="#f0b0b4" />
<rect x="367.28" y="440.68" width="10.11" height="10.12" fill="#dc5458" />
<line x1="94.20" y1="400.20" x2="94.20" y2="450.80" stroke="#9a9a9a" stroke-width="0.7" />
<line x1="104.31" y1="400.20" x2="104.31" y2="450.80" stroke="#9a9a9a" stroke-width="0.7" />
<line x1="114.43" y1="400.20" x2="114.43" y2="450.80" stroke="#9a9a9a" stroke-width="0.7" />
<line x1="124.54" y1="400.20" x2="124.54" y2="450.80" stroke="#9a9a9a" stroke-width="0.7" />
<line x1="134.66" y1="400.20" x2="134.66" y2="450.80" stroke="#9a9a9a" stroke-width="0.7" />
<line x1="144.77" y1="400.20" x2="144.77" y2="450.80" stroke="#9a9a9a" stroke-width="0.7" />
<line x1="154.88" y1="400.20" x2="154.88" y2="450.80" stroke="#9a9a9a" stroke-width="0.7" />
<line x1="165.00" y1="400.20" x2="165.00" y2="450.80" stroke="#9a9a9a" stroke-width="0.7" />
<line x1="175.11" y1="400.20" x2="175.11" y2="450.80" stroke="#9a9a9a" stroke-width="0.7" />
<line x1="185.23" y1="400.20" x2="185.23" y2="450.80" stroke="#9a9a9a" stroke-width="0.7" />
<line x1="195.34" y1="400.20" x2="195.34" y2="450.80" stroke="#9a9a9a" stroke-width="0.7" />
<line x1="205.45" y1="400.20" x2="205.45" y2="450.80" stroke="#9a9a9a" stroke-width="0.7" />
<line x1="215.57" y1="400.20" x2="215.57" y2="450.80" stroke="#9a9a9a" stroke-width="0.7" />
<line x1="225.68" y1="400.20" x2="225.68" y2="450.80" stroke="#9a9a9a" stroke-width="0.7" />
<line x1="235.80" y1="400.20" x2="235.80" y2="450.80" stroke="#9a9a9a" stroke-width="0.7" />
<line x1="245.91" y1="400.20" x2="245.91" y2="450.80" stroke="#9a9a9a" stroke-width="0.7" />
<line x1="256.02" y1="400.20" x2="256.02" y2="450.80" stroke="#9a9a9a" stroke-width="0.7" />
<line x1="266.14" y1="400.20" x2="266.14" y2="450.80" stroke="#9a9a9a" stroke-width="0.7" />
<line x1="276.25" y1="400.20" x2="276.25" y2="450.80" stroke="#9a9a9a" stroke-width="0.7" />
<line x1="286.37" y1="400.20" x2="286.37" y2="450.80" stroke="#9a9a9a" stroke-width="0.7" />
<line x1="296.48" y1="400.20" x2="296.48" y2="450.80" stroke="#9a9a9a" stroke-width="0.7" />
<line x1="306.59" y1="400.20" x2="306.59" y2="450.80" stroke="#9a9a9a" stroke-width="0.7" />
<line x1="316.71" y1="400.20" x2="316.71" y2="450.80" stroke="#9a9a9a" stroke-width="0.7" />
<line x1="326.82" y1="400.20" x2="326.82" y2="450.80" stroke="#9a9a9a" stroke-width="0.7" />
<line x1="336.94" y1="400.20" x2="336.94" y2="450.80" stroke="#9a9a9a" stroke-width="0.7" />
<line x1="347.05" y1="400.20" x2="347.05" y2="450.80" stroke="#9a9a9a" stroke-width="0.7" />
<line x1="357.16" y1="400.20" x2="357.16" y2="450.80" stroke="#9a9a9a" stroke-width="0.7" />
<line x1="367.28" y1="400.20" x2="367.28" y2="450.80" stroke="#9a9a9a" stroke-width="0.7" />
<line x1="377.39" y1="400.20" x2="377.39" y2="450.80" stroke="#9a9a9a" stroke-width="0.7" />
<line x1="94.20" y1="400.20" x2="377.39" y2="400.20" stroke="#9a9a9a" stroke-width="0.7" />
<line x1="94.20" y1="410.32" x2="377.39" y2="410.32" stroke="#9a9a9a" stroke-width="0.7" />
<line x1="94.20" y1="420.44" x2="377.39" y2="420.44" stroke="#9a9a9a" stroke-width="0.7" />
<line x1="94.20" y1="430.56" x2="377.39" y2="430.56" stroke="#9a9a9a" stroke-width="0.7" />
<line x1="94.20" y1="440.68" x2="377.39" y2="440.68" stroke="#9a9a9a" stroke-width="0.7" />
<line x1="94.20" y1="450.80" x2="377.39" y2="450.80" stroke="#9a9a9a" stroke-width="0.7" />
<text x="91.20" y="407.56" font-size="6.3" text-anchor="end" fill="#1a1a1a" font-weight="normal" stroke="#1a1a1a" stroke-width="0.12">Day 0</text>
<text x="91.20" y="417.68" font-size="6.3" text-anchor="end" fill="#1a1a1a" font-weight="normal" stroke="#1a1a1a" stroke-width="0.12">Ctrl</text>
<text x="91.20" y="427.80" font-size="6.3" text-anchor="end" fill="#1a1a1a" font-weight="normal" stroke="#1a1a1a" stroke-width="0.12">GDNF/GFR&#945;1</text>
<text x="91.20" y="437.92" font-size="6.3" text-anchor="end" fill="#1a1a1a" font-weight="normal" stroke="#1a1a1a" stroke-width="0.12">Ctrl</text>
<text x="91.20" y="448.04" font-size="6.3" text-anchor="end" fill="#1a1a1a" font-weight="normal" stroke="#1a1a1a" stroke-width="0.12">GDNF/GFR&#945;1</text>
<text x="44.40" y="427.80" font-size="6.3" text-anchor="end" fill="#1a1a1a" font-weight="normal" stroke="#1a1a1a" stroke-width="0.12">Day 3</text>
<text x="44.40" y="448.04" font-size="6.3" text-anchor="end" fill="#1a1a1a" font-weight="normal" stroke="#1a1a1a" stroke-width="0.12">Day 7</text>
<line x1="47.70" y1="417.00" x2="47.70" y2="432.70" stroke="#222" stroke-width="0.8" />
<line x1="47.70" y1="437.30" x2="47.70" y2="453.50" stroke="#222" stroke-width="0.8" />
<text transform="translate(102.26,456.20) rotate(-45)" font-size="6.3" text-anchor="end" fill="#1a1a1a" stroke="#1a1a1a" stroke-width="0.1">p53</text>
<text transform="translate(112.37,456.20) rotate(-45)" font-size="6.3" text-anchor="end" fill="#1a1a1a" stroke="#1a1a1a" stroke-width="0.1">mTOR</text>
<text transform="translate(122.48,456.20) rotate(-45)" font-size="6.3" text-anchor="end" fill="#1a1a1a" stroke="#1a1a1a" stroke-width="0.1">BCL2</text>
<text transform="translate(132.60,456.20) rotate(-45)" font-size="6.3" text-anchor="end" fill="#1a1a1a" stroke="#1a1a1a" stroke-width="0.1">RET</text>
<text transform="translate(142.71,456.20) rotate(-45)" font-size="6.3" text-anchor="end" fill="#1a1a1a" stroke="#1a1a1a" stroke-width="0.1">&#946;-Catenin</text>
<text transform="translate(152.83,456.20) rotate(-45)" font-size="6.3" text-anchor="end" fill="#1a1a1a" stroke="#1a1a1a" stroke-width="0.1">pNF&#954;B</text>
<text transform="translate(162.94,456.20) rotate(-45)" font-size="6.3" text-anchor="end" fill="#1a1a1a" stroke="#1a1a1a" stroke-width="0.1">CDK1</text>
<text transform="translate(173.05,456.20) rotate(-45)" font-size="6.3" text-anchor="end" fill="#1a1a1a" stroke="#1a1a1a" stroke-width="0.1">ELK</text>
<text transform="translate(183.17,456.20) rotate(-45)" font-size="6.3" text-anchor="end" fill="#1a1a1a" stroke="#1a1a1a" stroke-width="0.1">pAKT</text>
<text transform="translate(193.28,456.20) rotate(-45)" font-size="6.3" text-anchor="end" fill="#1a1a1a" stroke="#1a1a1a" stroke-width="0.1">pS6</text>
<text transform="translate(203.40,456.20) rotate(-45)" font-size="6.3" text-anchor="end" fill="#1a1a1a" stroke="#1a1a1a" stroke-width="0.1">pRET</text>
<text transform="translate(213.51,456.20) rotate(-45)" font-size="6.3" text-anchor="end" fill="#1a1a1a" stroke="#1a1a1a" stroke-width="0.1">cREL</text>
<text transform="translate(223.62,456.20) rotate(-45)" font-size="6.3" text-anchor="end" fill="#1a1a1a" stroke="#1a1a1a" stroke-width="0.1">pERK1/2</text>
<text transform="translate(233.74,456.20) rotate(-45)" font-size="6.3" text-anchor="end" fill="#1a1a1a" stroke="#1a1a1a" stroke-width="0.1">pSTAT1</text>
<text transform="translate(243.85,456.20) rotate(-45)" font-size="6.3" text-anchor="end" fill="#1a1a1a" stroke="#1a1a1a" stroke-width="0.1">pZAP70</text>
<text transform="translate(253.97,456.20) rotate(-45)" font-size="6.3" text-anchor="end" fill="#1a1a1a" stroke="#1a1a1a" stroke-width="0.1">p90</text>
<text transform="translate(264.08,456.20) rotate(-45)" font-size="6.3" text-anchor="end" fill="#1a1a1a" stroke="#1a1a1a" stroke-width="0.1">GATA1</text>
<text transform="translate(274.20,456.20) rotate(-45)" font-size="6.3" text-anchor="end" fill="#1a1a1a" stroke="#1a1a1a" stroke-width="0.1">pSTAT3</text>
<text transform="translate(284.31,456.20) rotate(-45)" font-size="6.3" text-anchor="end" fill="#1a1a1a" stroke="#1a1a1a" stroke-width="0.1">pBAD</text>
<text transform="translate(294.42,456.20) rotate(-45)" font-size="6.3" text-anchor="end" fill="#1a1a1a" stroke="#1a1a1a" stroke-width="0.1">p38</text>
<text transform="translate(304.54,456.20) rotate(-45)" font-size="6.3" text-anchor="end" fill="#1a1a1a" stroke="#1a1a1a" stroke-width="0.1">SRC</text>
<text transform="translate(314.65,456.20) rotate(-45)" font-size="6.3" text-anchor="end" fill="#1a1a1a" stroke="#1a1a1a" stroke-width="0.1">pSTAT5</text>
<text transform="translate(324.77,456.20) rotate(-45)" font-size="6.3" text-anchor="end" fill="#1a1a1a" stroke="#1a1a1a" stroke-width="0.1">RB</text>
<text transform="translate(334.88,456.20) rotate(-45)" font-size="6.3" text-anchor="end" fill="#1a1a1a" stroke="#1a1a1a" stroke-width="0.1">PU.1</text>
<text transform="translate(344.99,456.20) rotate(-45)" font-size="6.3" text-anchor="end" fill="#1a1a1a" stroke="#1a1a1a" stroke-width="0.1">MAPKAPK2</text>
<text transform="translate(355.11,456.20) rotate(-45)" font-size="6.3" text-anchor="end" fill="#1a1a1a" stroke="#1a1a1a" stroke-width="0.1">I&#954;B&#945;</text>
<text transform="translate(365.22,456.20) rotate(-45)" font-size="6.3" text-anchor="end" fill="#1a1a1a" stroke="#1a1a1a" stroke-width="0.1">CREB</text>
<text transform="translate(375.34,456.20) rotate(-45)" font-size="6.3" text-anchor="end" fill="#1a1a1a" stroke="#1a1a1a" stroke-width="0.1">Ki67</text>
<line x1="109.37" y1="397.20" x2="119.49" y2="397.20" stroke="#111" stroke-width="0.75" />
<line x1="109.37" y1="397.20" x2="109.37" y2="400.20" stroke="#111" stroke-width="0.75" />
<line x1="119.49" y1="397.20" x2="119.49" y2="400.20" stroke="#111" stroke-width="0.75" />
<line x1="99.26" y1="395.80" x2="114.43" y2="395.80" stroke="#111" stroke-width="0.75" />
<line x1="99.26" y1="395.80" x2="99.26" y2="400.20" stroke="#111" stroke-width="0.75" />
<line x1="114.43" y1="395.80" x2="114.43" y2="397.20" stroke="#111" stroke-width="0.75" />
<line x1="139.71" y1="396.70" x2="149.83" y2="396.70" stroke="#111" stroke-width="0.75" />
<line x1="139.71" y1="396.70" x2="139.71" y2="400.20" stroke="#111" stroke-width="0.75" />
<line x1="149.83" y1="396.70" x2="149.83" y2="400.20" stroke="#111" stroke-width="0.75" />
<line x1="129.60" y1="395.80" x2="144.77" y2="395.80" stroke="#111" stroke-width="0.75" />
<line x1="129.60" y1="395.80" x2="129.60" y2="400.20" stroke="#111" stroke-width="0.75" />
<line x1="144.77" y1="395.80" x2="144.77" y2="396.70" stroke="#111" stroke-width="0.75" />
<line x1="106.84" y1="391.50" x2="137.18" y2="391.50" stroke="#111" stroke-width="0.75" />
<line x1="106.84" y1="391.50" x2="106.84" y2="395.80" stroke="#111" stroke-width="0.75" />
<line x1="137.18" y1="391.50" x2="137.18" y2="395.80" stroke="#111" stroke-width="0.75" />
<line x1="170.06" y1="396.70" x2="180.17" y2="396.70" stroke="#111" stroke-width="0.75" />
<line x1="170.06" y1="396.70" x2="170.06" y2="400.20" stroke="#111" stroke-width="0.75" />
<line x1="180.17" y1="396.70" x2="180.17" y2="400.20" stroke="#111" stroke-width="0.75" />
<line x1="159.94" y1="390.80" x2="175.11" y2="390.80" stroke="#111" stroke-width="0.75" />
<line x1="159.94" y1="390.80" x2="159.94" y2="400.20" stroke="#111" stroke-width="0.75" />
<line x1="175.11" y1="390.80" x2="175.11" y2="396.70" stroke="#111" stroke-width="0.75" />
<line x1="122.01" y1="388.50" x2="167.53" y2="388.50" stroke="#111" stroke-width="0.75" />
<line x1="122.01" y1="388.50" x2="122.01" y2="391.50" stroke="#111" stroke-width="0.75" />
<line x1="167.53" y1="388.50" x2="167.53" y2="390.80" stroke="#111" stroke-width="0.75" />
<line x1="210.51" y1="398.20" x2="220.62" y2="398.20" stroke="#111" stroke-width="0.75" />
<line x1="210.51" y1="398.20" x2="210.51" y2="400.20" stroke="#111" stroke-width="0.75" />
<line x1="220.62" y1="398.20" x2="220.62" y2="400.20" stroke="#111" stroke-width="0.75" />
<line x1="200.40" y1="394.70" x2="215.57" y2="394.70" stroke="#111" stroke-width="0.75" />
<line x1="200.40" y1="394.70" x2="200.40" y2="400.20" stroke="#111" stroke-width="0.75" />
<line x1="215.57" y1="394.70" x2="215.57" y2="398.20" stroke="#111" stroke-width="0.75" />
<line x1="190.28" y1="389.20" x2="207.98" y2="389.20" stroke="#111" stroke-width="0.75" />
<line x1="190.28" y1="389.20" x2="190.28" y2="400.20" stroke="#111" stroke-width="0.75" />
<line x1="207.98" y1="389.20" x2="207.98" y2="394.70" stroke="#111" stroke-width="0.75" />
<line x1="250.97" y1="398.20" x2="261.08" y2="398.20" stroke="#111" stroke-width="0.75" />
<line x1="250.97" y1="398.20" x2="250.97" y2="400.20" stroke="#111" stroke-width="0.75" />
<line x1="261.08" y1="398.20" x2="261.08" y2="400.20" stroke="#111" stroke-width="0.75" />
<line x1="240.85" y1="396.10" x2="256.02" y2="396.10" stroke="#111" stroke-width="0.75" />
<line x1="240.85" y1="396.10" x2="240.85" y2="400.20" stroke="#111" stroke-width="0.75" />
<line x1="256.02" y1="396.10" x2="256.02" y2="398.20" stroke="#111" stroke-width="0.75" />
<line x1="230.74" y1="395.40" x2="248.44" y2="395.40" stroke="#111" stroke-width="0.75" />
<line x1="230.74" y1="395.40" x2="230.74" y2="400.20" stroke="#111" stroke-width="0.75" />
<line x1="248.44" y1="395.40" x2="248.44" y2="396.10" stroke="#111" stroke-width="0.75" />
<line x1="271.19" y1="394.90" x2="281.31" y2="394.90" stroke="#111" stroke-width="0.75" />
<line x1="271.19" y1="394.90" x2="271.19" y2="400.20" stroke="#111" stroke-width="0.75" />
<line x1="281.31" y1="394.90" x2="281.31" y2="400.20" stroke="#111" stroke-width="0.75" />
<line x1="239.59" y1="387.30" x2="276.25" y2="387.30" stroke="#111" stroke-width="0.75" />
<line x1="239.59" y1="387.30" x2="239.59" y2="395.40" stroke="#111" stroke-width="0.75" />
<line x1="276.25" y1="387.30" x2="276.25" y2="394.90" stroke="#111" stroke-width="0.75" />
<line x1="199.13" y1="382.20" x2="257.92" y2="382.20" stroke="#111" stroke-width="0.75" />
<line x1="199.13" y1="382.20" x2="199.13" y2="389.20" stroke="#111" stroke-width="0.75" />
<line x1="257.92" y1="382.20" x2="257.92" y2="387.30" stroke="#111" stroke-width="0.75" />
<line x1="144.77" y1="367.50" x2="228.53" y2="367.50" stroke="#111" stroke-width="0.75" />
<line x1="144.77" y1="367.50" x2="144.77" y2="388.50" stroke="#111" stroke-width="0.75" />
<line x1="228.53" y1="367.50" x2="228.53" y2="382.20" stroke="#111" stroke-width="0.75" />
<line x1="291.42" y1="394.90" x2="301.54" y2="394.90" stroke="#111" stroke-width="0.75" />
<line x1="291.42" y1="394.90" x2="291.42" y2="400.20" stroke="#111" stroke-width="0.75" />
<line x1="301.54" y1="394.90" x2="301.54" y2="400.20" stroke="#111" stroke-width="0.75" />
<line x1="321.77" y1="398.00" x2="331.88" y2="398.00" stroke="#111" stroke-width="0.75" />
<line x1="321.77" y1="398.00" x2="321.77" y2="400.20" stroke="#111" stroke-width="0.75" />
<line x1="331.88" y1="398.00" x2="331.88" y2="400.20" stroke="#111" stroke-width="0.75" />
<line x1="341.99" y1="398.00" x2="352.11" y2="398.00" stroke="#111" stroke-width="0.75" />
<line x1="341.99" y1="398.00" x2="341.99" y2="400.20" stroke="#111" stroke-width="0.75" />
<line x1="352.11" y1="398.00" x2="352.11" y2="400.20" stroke="#111" stroke-width="0.75" />
<line x1="326.82" y1="395.40" x2="347.05" y2="395.40" stroke="#111" stroke-width="0.75" />
<line x1="326.82" y1="395.40" x2="326.82" y2="398.00" stroke="#111" stroke-width="0.75" />
<line x1="347.05" y1="395.40" x2="347.05" y2="398.00" stroke="#111" stroke-width="0.75" />
<line x1="362.22" y1="393.10" x2="372.34" y2="393.10" stroke="#111" stroke-width="0.75" />
<line x1="362.22" y1="393.10" x2="362.22" y2="400.20" stroke="#111" stroke-width="0.75" />
<line x1="372.34" y1="393.10" x2="372.34" y2="400.20" stroke="#111" stroke-width="0.75" />
<line x1="336.94" y1="389.60" x2="367.28" y2="389.60" stroke="#111" stroke-width="0.75" />
<line x1="336.94" y1="389.60" x2="336.94" y2="395.40" stroke="#111" stroke-width="0.75" />
<line x1="367.28" y1="389.60" x2="367.28" y2="393.10" stroke="#111" stroke-width="0.75" />
<line x1="311.65" y1="376.20" x2="352.11" y2="376.20" stroke="#111" stroke-width="0.75" />
<line x1="311.65" y1="376.20" x2="311.65" y2="400.20" stroke="#111" stroke-width="0.75" />
<line x1="352.11" y1="376.20" x2="352.11" y2="389.60" stroke="#111" stroke-width="0.75" />
<line x1="296.48" y1="353.40" x2="331.88" y2="353.40" stroke="#111" stroke-width="0.75" />
<line x1="296.48" y1="353.40" x2="296.48" y2="394.90" stroke="#111" stroke-width="0.75" />
<line x1="331.88" y1="353.40" x2="331.88" y2="376.20" stroke="#111" stroke-width="0.75" />
<line x1="186.65" y1="346.70" x2="314.18" y2="346.70" stroke="#111" stroke-width="0.75" />
<line x1="186.65" y1="346.70" x2="186.65" y2="367.50" stroke="#111" stroke-width="0.75" />
<line x1="314.18" y1="346.70" x2="314.18" y2="353.40" stroke="#111" stroke-width="0.75" />
<defs><linearGradient id="cb" x1="0" y1="0" x2="0" y2="1"><stop offset="0" stop-color="#c81e24"/><stop offset="0.25" stop-color="#e58a8c"/><stop offset="0.5" stop-color="#ffffff"/><stop offset="0.75" stop-color="#8b93cf"/><stop offset="1" stop-color="#2a3a98"/></linearGradient></defs>
<rect x="382.10" y="396.00" width="4.00" height="56.00" fill="url(#cb)" />
<text x="389.00" y="402.00" font-size="4.6" text-anchor="start" fill="#333" font-weight="normal" >1.5</text>
<text x="389.00" y="410.32" font-size="4.6" text-anchor="start" fill="#333" font-weight="normal" >1</text>
<text x="389.00" y="418.64" font-size="4.6" text-anchor="start" fill="#333" font-weight="normal" >0.5</text>
<text x="389.00" y="426.96" font-size="4.6" text-anchor="start" fill="#333" font-weight="normal" >0</text>
<text x="388.60" y="435.28" font-size="4.6" text-anchor="start" fill="#333" font-weight="normal" >&#8722;0.5</text>
<text x="388.60" y="443.60" font-size="4.6" text-anchor="start" fill="#333" font-weight="normal" >&#8722;1</text>
<text x="388.60" y="451.92" font-size="4.6" text-anchor="start" fill="#333" font-weight="normal" >&#8722;1.5</text>
<text x="84.30" y="515.00" font-size="6.2" text-anchor="middle" fill="#1a1a1a" font-weight="normal" stroke="#1a1a1a" stroke-width="0.08">Day 7 CD34<tspan font-size="3.9" dy="-2.6">+</tspan><tspan dy="2.6">CD90</tspan><tspan font-size="3.9" dy="-2.6">+</tspan><tspan dy="2.6">EPCR</tspan><tspan font-size="3.9" dy="-2.6">+</tspan></text>
<rect x="48.80" y="548.80" width="18.20" height="45.00" fill="#a4adbb" />
<rect x="76.30" y="558.00" width="18.00" height="35.80" fill="#d98b7d" />
<rect x="103.50" y="543.80" width="18.20" height="50.00" fill="#8faa96" />
<line x1="39.50" y1="531.30" x2="39.50" y2="594.20" stroke="#111" stroke-width="1.0" />
<line x1="39.50" y1="593.80" x2="130.60" y2="593.80" stroke="#111" stroke-width="1.2" />
<line x1="36.50" y1="534.20" x2="39.50" y2="534.20" stroke="#111" stroke-width="0.8" />
<text x="33.80" y="536.40" font-size="6.0" text-anchor="end" fill="#222" font-weight="normal" stroke="#222" stroke-width="0.08">4000</text>
<line x1="36.50" y1="549.10" x2="39.50" y2="549.10" stroke="#111" stroke-width="0.8" />
<text x="33.80" y="551.30" font-size="6.0" text-anchor="end" fill="#222" font-weight="normal" stroke="#222" stroke-width="0.08">3000</text>
<line x1="36.50" y1="563.90" x2="39.50" y2="563.90" stroke="#111" stroke-width="0.8" />
<text x="33.80" y="566.10" font-size="6.0" text-anchor="end" fill="#222" font-weight="normal" stroke="#222" stroke-width="0.08">2000</text>
<line x1="36.50" y1="578.80" x2="39.50" y2="578.80" stroke="#111" stroke-width="0.8" />
<text x="33.80" y="581.00" font-size="6.0" text-anchor="end" fill="#222" font-weight="normal" stroke="#222" stroke-width="0.08">1000</text>
<line x1="36.50" y1="593.60" x2="39.50" y2="593.60" stroke="#111" stroke-width="0.8" />
<text x="33.80" y="595.80" font-size="6.0" text-anchor="end" fill="#222" font-weight="normal" stroke="#222" stroke-width="0.08">0</text>
<text transform="translate(14.00,563.60) rotate(-90) scale(0.9,1)" font-size="7.0" text-anchor="middle" fill="#222" stroke="#222" stroke-width="0.1">ROS MIF</text>
<line x1="58.20" y1="530.00" x2="85.20" y2="530.00" stroke="#3a3a3a" stroke-width="1.15" />
<circle cx="71.7" cy="526.5" r="0.9" fill="#222"/>
<line x1="85.90" y1="524.20" x2="112.70" y2="524.20" stroke="#3a3a3a" stroke-width="1.15" />
<circle cx="99.4" cy="520.8" r="0.9" fill="#222"/>
<g transform="translate(60.90,603.00) rotate(-45)"><text x="0" y="0.00" font-size="6.5" text-anchor="end" fill="#1a1a1a" stroke="#1a1a1a" stroke-width="0.08">Ctrl</text></g>
<g transform="translate(88.40,603.00) rotate(-45)"><text x="0" y="0.00" font-size="6.5" text-anchor="end" fill="#1a1a1a" stroke="#1a1a1a" stroke-width="0.08">GDNF/GFR&#945;1</text></g>
<g transform="translate(115.90,603.00) rotate(-45)"><text x="0" y="0.00" font-size="6.5" text-anchor="end" fill="#1a1a1a" stroke="#1a1a1a" stroke-width="0.08">GDNF/GFR&#945;1</text><text x="0" y="6.90" font-size="6.5" text-anchor="end" fill="#1a1a1a" stroke="#1a1a1a" stroke-width="0.08">+ PZ1</text></g>
<line x1="57.90" y1="543.30" x2="57.90" y2="552.50" stroke="#1a1a1a" stroke-width="1.0" />
<line x1="55.10" y1="543.30" x2="60.70" y2="543.30" stroke="#1a1a1a" stroke-width="1.0" />
<line x1="55.10" y1="552.50" x2="60.70" y2="552.50" stroke="#1a1a1a" stroke-width="1.0" />
<line x1="85.30" y1="554.30" x2="85.30" y2="561.30" stroke="#1a1a1a" stroke-width="1.0" />
<line x1="82.50" y1="554.30" x2="88.10" y2="554.30" stroke="#1a1a1a" stroke-width="1.0" />
<line x1="82.50" y1="561.30" x2="88.10" y2="561.30" stroke="#1a1a1a" stroke-width="1.0" />
<line x1="112.80" y1="540.00" x2="112.80" y2="547.50" stroke="#1a1a1a" stroke-width="1.0" />
<line x1="110.00" y1="540.00" x2="115.60" y2="540.00" stroke="#1a1a1a" stroke-width="1.0" />
<line x1="110.00" y1="547.50" x2="115.60" y2="547.50" stroke="#1a1a1a" stroke-width="1.0" />
<circle cx="58" cy="534.3" r="1.1" fill="#2e3f70"/>
<circle cx="56.3" cy="553.8" r="1.1" fill="#2e3f70"/>
<circle cx="60" cy="552" r="1.1" fill="#2e3f70"/>
<circle cx="57.5" cy="549.5" r="1.1" fill="#2e3f70"/>
<circle cx="83.3" cy="552" r="1.1" fill="#c0102c"/>
<circle cx="87.5" cy="552.5" r="1.1" fill="#c0102c"/>
<circle cx="82.5" cy="563" r="1.1" fill="#c0102c"/>
<circle cx="86.3" cy="560" r="1.1" fill="#c0102c"/>
<circle cx="112.5" cy="538.8" r="1.1" fill="#2f7a4a"/>
<circle cx="113.8" cy="543.8" r="1.1" fill="#2f7a4a"/>
<circle cx="112.5" cy="552.5" r="1.1" fill="#2f7a4a"/>
<line x1="57.90" y1="593.80" x2="57.90" y2="596.30" stroke="#111" stroke-width="0.7" />
<line x1="85.30" y1="593.80" x2="85.30" y2="596.30" stroke="#111" stroke-width="0.7" />
<line x1="112.30" y1="593.80" x2="112.30" y2="596.30" stroke="#111" stroke-width="0.7" />
<text x="374.80" y="509.30" font-size="6.2" text-anchor="middle" fill="#1a1a1a" font-weight="normal" stroke="#1a1a1a" stroke-width="0.08">Day 7 CD34<tspan font-size="3.9" dy="-2.6">+</tspan><tspan dy="2.6">CD90</tspan><tspan font-size="3.9" dy="-2.6">+</tspan><tspan dy="2.6">EPCR</tspan><tspan font-size="3.9" dy="-2.6">+</tspan></text>
<rect x="338.80" y="573.30" width="18.00" height="20.20" fill="#a4adbb" />
<rect x="366.30" y="557.50" width="18.00" height="36.00" fill="#d98b7d" />
<rect x="393.30" y="588.00" width="19.00" height="5.50" fill="#8faa96" />
<line x1="329.30" y1="533.10" x2="329.30" y2="593.90" stroke="#111" stroke-width="1.0" />
<line x1="329.30" y1="593.50" x2="420.60" y2="593.50" stroke="#111" stroke-width="1.2" />
<line x1="326.30" y1="545.40" x2="329.30" y2="545.40" stroke="#111" stroke-width="0.8" />
<text x="323.60" y="547.60" font-size="6.0" text-anchor="end" fill="#222" font-weight="normal" stroke="#222" stroke-width="0.08">1.0</text>
<line x1="326.30" y1="569.50" x2="329.30" y2="569.50" stroke="#111" stroke-width="0.8" />
<text x="323.60" y="571.70" font-size="6.0" text-anchor="end" fill="#222" font-weight="normal" stroke="#222" stroke-width="0.08">0.5</text>
<line x1="326.30" y1="593.40" x2="329.30" y2="593.40" stroke="#111" stroke-width="0.8" />
<text x="323.60" y="595.60" font-size="6.0" text-anchor="end" fill="#222" font-weight="normal" stroke="#222" stroke-width="0.08">0.0</text>
<text transform="translate(309.30,563.30) rotate(-90) scale(0.9,1)" font-size="7.0" text-anchor="middle" fill="#222" stroke="#222" stroke-width="0.1">% live cells</text>
<line x1="347.90" y1="518.60" x2="399.80" y2="518.60" stroke="#3a3a3a" stroke-width="1.15" />
<circle cx="372.1" cy="515.5" r="0.9" fill="#222"/>
<circle cx="375.6" cy="515.5" r="0.9" fill="#222"/>
<line x1="347.90" y1="531.80" x2="375.20" y2="531.80" stroke="#3a3a3a" stroke-width="1.15" />
<circle cx="361.7" cy="528.5" r="0.9" fill="#222"/>
<line x1="375.90" y1="527.80" x2="402.70" y2="527.80" stroke="#3a3a3a" stroke-width="1.15" />
<circle cx="387.5" cy="524.5" r="0.9" fill="#222"/>
<circle cx="391.0" cy="524.5" r="0.9" fill="#222"/>
<g transform="translate(350.40,603.00) rotate(-45)"><text x="0" y="0.00" font-size="6.5" text-anchor="end" fill="#1a1a1a" stroke="#1a1a1a" stroke-width="0.08">Ctrl</text></g>
<g transform="translate(377.90,603.00) rotate(-45)"><text x="0" y="0.00" font-size="6.5" text-anchor="end" fill="#1a1a1a" stroke="#1a1a1a" stroke-width="0.08">GDNF/GFR&#945;1</text></g>
<g transform="translate(405.40,603.00) rotate(-45)"><text x="0" y="0.00" font-size="6.5" text-anchor="end" fill="#1a1a1a" stroke="#1a1a1a" stroke-width="0.08">GDNF/GFR&#945;1</text><text x="0" y="6.90" font-size="6.5" text-anchor="end" fill="#1a1a1a" stroke="#1a1a1a" stroke-width="0.08">+ PZ1</text></g>
<line x1="347.80" y1="565.50" x2="347.80" y2="580.00" stroke="#1a1a1a" stroke-width="1.0" />
<line x1="345.00" y1="565.50" x2="350.60" y2="565.50" stroke="#1a1a1a" stroke-width="1.0" />
<line x1="345.00" y1="580.00" x2="350.60" y2="580.00" stroke="#1a1a1a" stroke-width="1.0" />
<line x1="375.30" y1="549.30" x2="375.30" y2="565.50" stroke="#1a1a1a" stroke-width="1.0" />
<line x1="372.50" y1="549.30" x2="378.10" y2="549.30" stroke="#1a1a1a" stroke-width="1.0" />
<line x1="372.50" y1="565.50" x2="378.10" y2="565.50" stroke="#1a1a1a" stroke-width="1.0" />
<line x1="402.70" y1="587.00" x2="402.70" y2="589.50" stroke="#1a1a1a" stroke-width="1.0" />
<line x1="399.90" y1="587.00" x2="405.50" y2="587.00" stroke="#1a1a1a" stroke-width="1.0" />
<line x1="399.90" y1="589.50" x2="405.50" y2="589.50" stroke="#1a1a1a" stroke-width="1.0" />
<circle cx="347.5" cy="552.5" r="1.1" fill="#2e3f70"/>
<circle cx="347.5" cy="575.8" r="1.1" fill="#2e3f70"/>
<circle cx="347" cy="583.8" r="1.1" fill="#2e3f70"/>
<circle cx="375" cy="535" r="1.1" fill="#c0102c"/>
<circle cx="375" cy="557.5" r="1.1" fill="#c0102c"/>
<circle cx="373" cy="571.3" r="1.1" fill="#c0102c"/>
<circle cx="400" cy="587.5" r="1.1" fill="#2f7a4a"/>
<circle cx="405" cy="586.5" r="1.1" fill="#2f7a4a"/>
<circle cx="402.5" cy="588.8" r="1.1" fill="#2f7a4a"/>
<circle cx="398.5" cy="586" r="1.1" fill="#2f7a4a"/>
<line x1="347.80" y1="593.50" x2="347.80" y2="596.00" stroke="#111" stroke-width="0.7" />
<line x1="375.30" y1="593.50" x2="375.30" y2="596.00" stroke="#111" stroke-width="0.7" />
<line x1="402.70" y1="593.50" x2="402.70" y2="596.00" stroke="#111" stroke-width="0.7" />
<rect x="160.5" y="511.3" width="82.8" height="83.0" fill="none" stroke="#111" stroke-width="0.9"/>
<polygon points="160.50,552.70 197.06,552.70 200.35,551.38 203.09,549.74 204.74,547.54 206.38,544.25 208.03,540.42 209.12,537.68 210.00,537.13 211.10,539.32 211.86,540.42 212.96,539.32 214.06,537.89 215.15,539.32 216.25,543.16 217.35,548.09 218.44,551.93 219.54,552.70 243.30,552.70" fill="#a9b0bf" stroke="none"/>
<polyline points="160.50,552.70 197.06,552.70 200.35,551.38 203.09,549.74 204.74,547.54 206.38,544.25 208.03,540.42 209.12,537.68 210.00,537.13 211.10,539.32 211.86,540.42 212.96,539.32 214.06,537.89 215.15,539.32 216.25,543.16 217.35,548.09 218.44,551.93 219.54,552.70 243.30,552.70" fill="none" stroke="#59627c" stroke-width="0.9" stroke-linejoin="round"/>
<polygon points="160.50,573.50 197.06,573.53 198.71,572.21 200.35,570.57 202.00,567.83 203.64,562.89 204.74,557.41 205.83,553.57 206.93,555.77 207.48,556.32 208.57,554.67 210.00,551.38 210.77,550.07 211.86,551.93 212.63,557.41 213.51,563.99 214.61,569.47 216.25,572.21 218.44,573.53 243.30,573.50" fill="#d9778c" stroke="none"/>
<polyline points="160.50,573.50 197.06,573.53 198.71,572.21 200.35,570.57 202.00,567.83 203.64,562.89 204.74,557.41 205.83,553.57 206.93,555.77 207.48,556.32 208.57,554.67 210.00,551.38 210.77,550.07 211.86,551.93 212.63,557.41 213.51,563.99 214.61,569.47 216.25,572.21 218.44,573.53 243.30,573.50" fill="none" stroke="#c61f42" stroke-width="0.9" stroke-linejoin="round"/>
<polygon points="160.50,594.10 203.64,593.05 205.29,591.40 207.48,589.21 209.67,587.02 211.32,584.82 212.63,582.41 213.51,581.32 214.39,582.63 215.15,585.92 216.25,589.76 217.35,592.50 217.89,593.05 243.30,594.10" fill="#94b49f" stroke="none"/>
<polyline points="160.50,594.10 203.64,593.05 205.29,591.40 207.48,589.21 209.67,587.02 211.32,584.82 212.63,582.41 213.51,581.32 214.39,582.63 215.15,585.92 216.25,589.76 217.35,592.50 217.89,593.05 243.30,594.10" fill="none" stroke="#3d7b55" stroke-width="0.9" stroke-linejoin="round"/>
<line x1="160.50" y1="594.30" x2="243.30" y2="594.30" stroke="#111" stroke-width="1.2" />
<line x1="162.16" y1="594.30" x2="162.16" y2="596.40" stroke="#111" stroke-width="0.75" />
<line x1="163.77" y1="594.30" x2="163.77" y2="596.40" stroke="#111" stroke-width="0.75" />
<line x1="165.08" y1="594.30" x2="165.08" y2="596.40" stroke="#111" stroke-width="0.75" />
<line x1="166.19" y1="594.30" x2="166.19" y2="596.40" stroke="#111" stroke-width="0.75" />
<line x1="167.15" y1="594.30" x2="167.15" y2="596.40" stroke="#111" stroke-width="0.75" />
<line x1="167.99" y1="594.30" x2="167.99" y2="596.40" stroke="#111" stroke-width="0.75" />
<line x1="168.75" y1="594.30" x2="168.75" y2="597.10" stroke="#111" stroke-width="0.75" />
<line x1="173.73" y1="594.30" x2="173.73" y2="596.40" stroke="#111" stroke-width="0.75" />
<line x1="176.65" y1="594.30" x2="176.65" y2="596.40" stroke="#111" stroke-width="0.75" />
<line x1="178.71" y1="594.30" x2="178.71" y2="596.40" stroke="#111" stroke-width="0.75" />
<line x1="180.32" y1="594.30" x2="180.32" y2="596.40" stroke="#111" stroke-width="0.75" />
<line x1="181.63" y1="594.30" x2="181.63" y2="596.40" stroke="#111" stroke-width="0.75" />
<line x1="182.74" y1="594.30" x2="182.74" y2="596.40" stroke="#111" stroke-width="0.75" />
<line x1="183.70" y1="594.30" x2="183.70" y2="596.40" stroke="#111" stroke-width="0.75" />
<line x1="184.54" y1="594.30" x2="184.54" y2="596.40" stroke="#111" stroke-width="0.75" />
<line x1="185.30" y1="594.30" x2="185.30" y2="597.10" stroke="#111" stroke-width="0.75" />
<line x1="190.28" y1="594.30" x2="190.28" y2="596.40" stroke="#111" stroke-width="0.75" />
<line x1="193.20" y1="594.30" x2="193.20" y2="596.40" stroke="#111" stroke-width="0.75" />
<line x1="195.26" y1="594.30" x2="195.26" y2="596.40" stroke="#111" stroke-width="0.75" />
<line x1="196.87" y1="594.30" x2="196.87" y2="596.40" stroke="#111" stroke-width="0.75" />
<line x1="198.18" y1="594.30" x2="198.18" y2="596.40" stroke="#111" stroke-width="0.75" />
<line x1="199.29" y1="594.30" x2="199.29" y2="596.40" stroke="#111" stroke-width="0.75" />
<line x1="200.25" y1="594.30" x2="200.25" y2="596.40" stroke="#111" stroke-width="0.75" />
<line x1="201.09" y1="594.30" x2="201.09" y2="596.40" stroke="#111" stroke-width="0.75" />
<line x1="201.85" y1="594.30" x2="201.85" y2="597.10" stroke="#111" stroke-width="0.75" />
<line x1="206.83" y1="594.30" x2="206.83" y2="596.40" stroke="#111" stroke-width="0.75" />
<line x1="209.75" y1="594.30" x2="209.75" y2="596.40" stroke="#111" stroke-width="0.75" />
<line x1="211.81" y1="594.30" x2="211.81" y2="596.40" stroke="#111" stroke-width="0.75" />
<line x1="213.42" y1="594.30" x2="213.42" y2="596.40" stroke="#111" stroke-width="0.75" />
<line x1="214.73" y1="594.30" x2="214.73" y2="596.40" stroke="#111" stroke-width="0.75" />
<line x1="215.84" y1="594.30" x2="215.84" y2="596.40" stroke="#111" stroke-width="0.75" />
<line x1="216.80" y1="594.30" x2="216.80" y2="596.40" stroke="#111" stroke-width="0.75" />
<line x1="217.64" y1="594.30" x2="217.64" y2="596.40" stroke="#111" stroke-width="0.75" />
<line x1="218.40" y1="594.30" x2="218.40" y2="597.10" stroke="#111" stroke-width="0.75" />
<line x1="223.38" y1="594.30" x2="223.38" y2="596.40" stroke="#111" stroke-width="0.75" />
<line x1="226.30" y1="594.30" x2="226.30" y2="596.40" stroke="#111" stroke-width="0.75" />
<line x1="228.36" y1="594.30" x2="228.36" y2="596.40" stroke="#111" stroke-width="0.75" />
<line x1="229.97" y1="594.30" x2="229.97" y2="596.40" stroke="#111" stroke-width="0.75" />
<line x1="231.28" y1="594.30" x2="231.28" y2="596.40" stroke="#111" stroke-width="0.75" />
<line x1="232.39" y1="594.30" x2="232.39" y2="596.40" stroke="#111" stroke-width="0.75" />
<line x1="233.35" y1="594.30" x2="233.35" y2="596.40" stroke="#111" stroke-width="0.75" />
<line x1="234.19" y1="594.30" x2="234.19" y2="596.40" stroke="#111" stroke-width="0.75" />
<text x="164.20" y="607.0" font-size="6.6" fill="#222">10<tspan font-size="5.0" dy="-3.3">1</tspan></text>
<text x="180.75" y="607.0" font-size="6.6" fill="#222">10<tspan font-size="5.0" dy="-3.3">2</tspan></text>
<text x="197.30" y="607.0" font-size="6.6" fill="#222">10<tspan font-size="5.0" dy="-3.3">3</tspan></text>
<text x="213.85" y="607.0" font-size="6.6" fill="#222">10<tspan font-size="5.0" dy="-3.3">4</tspan></text>
<text x="230.40" y="607.0" font-size="6.6" fill="#222">10<tspan font-size="5.0" dy="-3.3">5</tspan></text>
<line x1="157.70" y1="615.60" x2="241.00" y2="615.60" stroke="#111" stroke-width="1.3" />
<polygon points="244.60,615.60 238.00,612.80 239.60,615.60 238.00,618.40" fill="#111" />
<text transform="translate(201.6,628.9) scale(0.86,1)" font-size="7.2" text-anchor="middle" fill="#222" stroke="#222" stroke-width="0.08">ROS</text>
<text x="266.70" y="536.80" font-size="6.3" text-anchor="middle" fill="#222" font-weight="normal" >Ctrl</text>
<text x="266.40" y="565.60" font-size="6.3" text-anchor="middle" fill="#222" font-weight="normal" >GDNF/GFR&#945;1</text>
<text x="266.40" y="583.30" font-size="6.3" text-anchor="middle" fill="#222" font-weight="normal" >GDNF/GFR&#945;1</text>
<text x="266.80" y="591.00" font-size="6.3" text-anchor="middle" fill="#222" font-weight="normal" >+ PZ1</text>
<rect x="0.00" y="0.00" width="520.00" height="1.05" fill="#000" />
<rect x="0.00" y="0.00" width="1.10" height="638.00" fill="#000" />
<rect x="518.80" y="0.00" width="1.20" height="638.00" fill="#000" />
<rect x="0.00" y="636.70" width="520.00" height="1.30" fill="#000" />
</svg>
</body></html>
